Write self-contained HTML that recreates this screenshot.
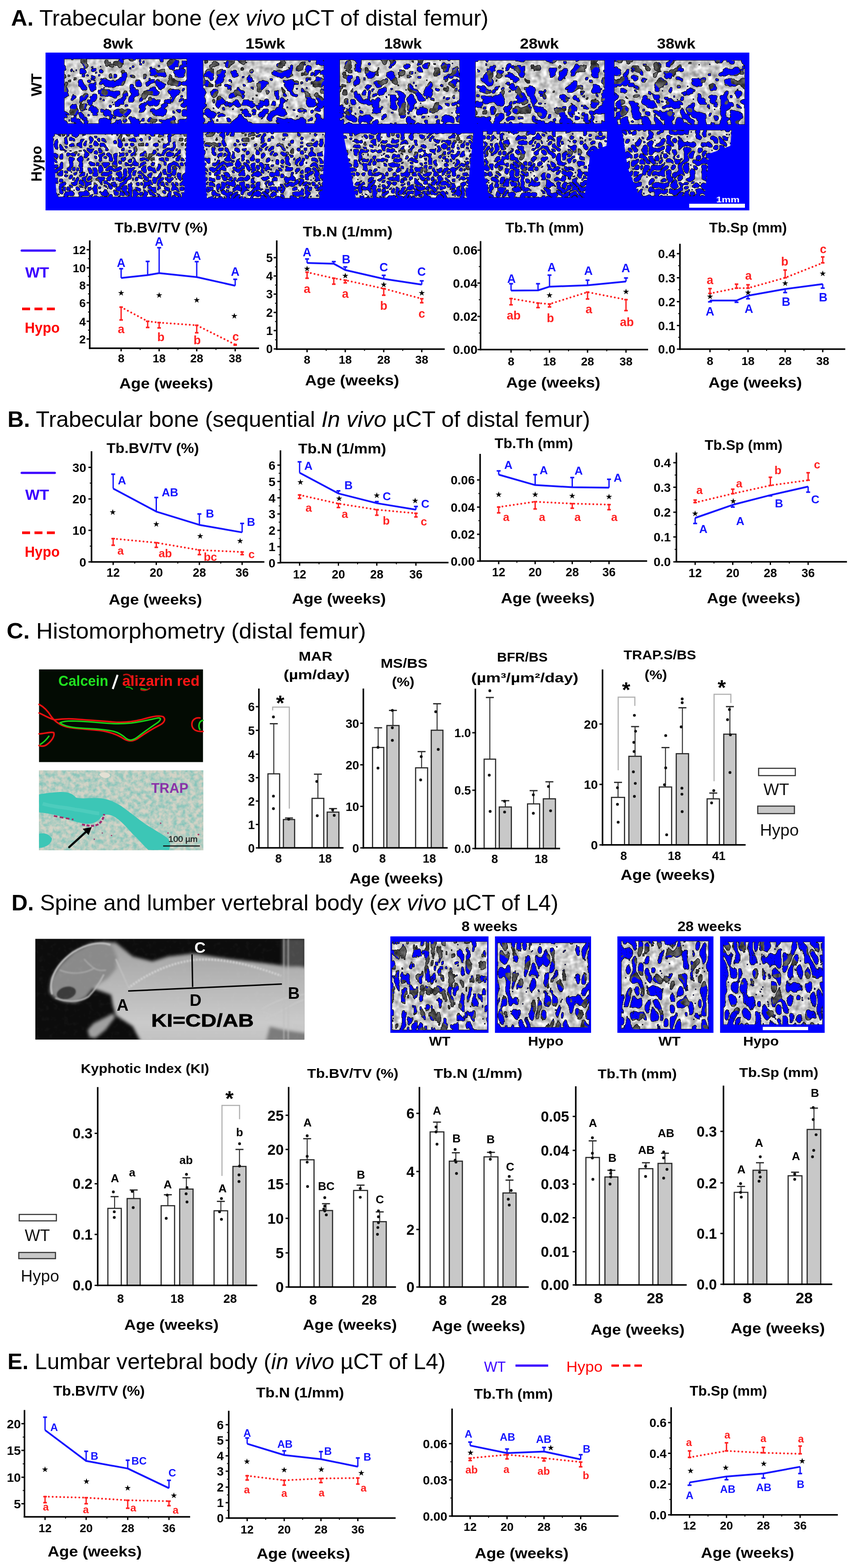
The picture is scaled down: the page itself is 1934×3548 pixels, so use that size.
<!DOCTYPE html>
<html><head><meta charset="utf-8"><title>Figure</title>
<style>html,body{margin:0;padding:0;background:#fff;} svg{display:block;}</style>
</head><body>
<svg width="1934" height="3548" viewBox="0 0 1934 3548" font-family='"Liberation Sans", Arial, sans-serif'>
<defs>
<linearGradient id="g_ffffff_000000" x1="0" y1="0" x2="0" y2="1"><stop offset="0" stop-color="#ffffff"/><stop offset="1" stop-color="#000000"/></linearGradient>
<filter id="bA0" x="0" y="0" width="100%" height="100%" color-interpolation-filters="sRGB">
<feTurbulence type="turbulence" baseFrequency="0.045" numOctaves="2" seed="11" result="n"/>
<feColorMatrix in="n" type="matrix" values="1 0 0 0 0  1 0 0 0 0  1 0 0 0 0  0 0 0 0 1" result="nr"/>
<feComposite in="nr" in2="SourceGraphic" operator="arithmetic" k1="0" k2="1" k3="-0.1" k4="0.0500" result="nb"/>
<feColorMatrix in="nb" type="matrix" values="0 0 0 0 0  0 0 0 0 0  0 0 0 0 0  1 0 0 0 0" result="na"/>
<feComponentTransfer in="na" result="boneM"><feFuncA type="discrete" tableValues="1 1 1 1 1 1 1 1 1 1 1 1 1 1 1 1 1 1 1 1 1 0 0 0 0 0 0 0 0 0 0 0 0 0 0 0 0 0 0 0 0 0 0 0 0 0 0 0 0 0 0 0 0 0 0 0 0 0 0 0"/></feComponentTransfer>
<feTurbulence type="fractalNoise" baseFrequency="0.03" numOctaves="2" seed="61" result="dn"/>
<feColorMatrix in="dn" type="matrix" values="1 0 0 0 0  1 0 0 0 0  1 0 0 0 0  0 0 0 0 1" result="dnr"/>
<feComposite in="dnr" in2="SourceGraphic" operator="arithmetic" k1="0" k2="1" k3="-0.2" k4="0.1000" result="dnb"/>
<feColorMatrix in="dnb" type="matrix" values="0 0 0 0 0  0 0 0 0 0  0 0 0 0 0  1 0 0 0 0" result="dna"/>
<feComponentTransfer in="dna" result="deepM"><feFuncA type="discrete" tableValues="1 1 1 1 1 1 1 1 1 1 1 1 1 1 1 1 1 1 1 1 1 1 1 1 1 1 1 0 0 0 0 0 0 0 0 0 0 0 0 0 0 0 0 0 0 0 0 0 0 0 0 0 0 0 0 0 0 0 0 0"/></feComponentTransfer>
<feTurbulence type="fractalNoise" baseFrequency="0.08" numOctaves="2" seed="20" result="n3"/>
<feColorMatrix in="n3" type="matrix" values="0 0.667 0 0 0.467  0 0.667 0 0 0.467  0 0.667 0 0 0.467  0 0 0 0 1" result="bs"/>
<feColorMatrix in="n3" type="matrix" values="0 0 0.500 0 0.050  0 0 0.500 0 0.050  0 0 0.500 0 0.050  0 0 0 0 1" result="ds"/>
<feComposite in="bs" in2="boneM" operator="in" result="bone"/>
<feComposite in="ds" in2="deepM" operator="in" result="deep"/>
<feMorphology in="boneM" operator="erode" radius="1" result="inner"/>
<feComposite in="boneM" in2="inner" operator="out" result="edge"/>
<feFlood flood-color="#181818" result="dk"/>
<feComposite in="dk" in2="edge" operator="in" result="edgec"/>
<feMerge result="m"><feMergeNode in="deep"/><feMergeNode in="bone"/><feMergeNode in="edgec"/></feMerge>
<feComposite in="m" in2="SourceAlpha" operator="in"/>
</filter>
<filter id="bA1" x="0" y="0" width="100%" height="100%" color-interpolation-filters="sRGB">
<feTurbulence type="turbulence" baseFrequency="0.045" numOctaves="2" seed="12" result="n"/>
<feColorMatrix in="n" type="matrix" values="1 0 0 0 0  1 0 0 0 0  1 0 0 0 0  0 0 0 0 1" result="nr"/>
<feComposite in="nr" in2="SourceGraphic" operator="arithmetic" k1="0" k2="1" k3="-0.1" k4="0.0500" result="nb"/>
<feColorMatrix in="nb" type="matrix" values="0 0 0 0 0  0 0 0 0 0  0 0 0 0 0  1 0 0 0 0" result="na"/>
<feComponentTransfer in="na" result="boneM"><feFuncA type="discrete" tableValues="1 1 1 1 1 1 1 1 1 1 1 1 1 1 1 1 1 1 1 1 0 0 0 0 0 0 0 0 0 0 0 0 0 0 0 0 0 0 0 0 0 0 0 0 0 0 0 0 0 0 0 0 0 0 0 0 0 0 0 0"/></feComponentTransfer>
<feTurbulence type="fractalNoise" baseFrequency="0.03" numOctaves="2" seed="62" result="dn"/>
<feColorMatrix in="dn" type="matrix" values="1 0 0 0 0  1 0 0 0 0  1 0 0 0 0  0 0 0 0 1" result="dnr"/>
<feComposite in="dnr" in2="SourceGraphic" operator="arithmetic" k1="0" k2="1" k3="-0.2" k4="0.1000" result="dnb"/>
<feColorMatrix in="dnb" type="matrix" values="0 0 0 0 0  0 0 0 0 0  0 0 0 0 0  1 0 0 0 0" result="dna"/>
<feComponentTransfer in="dna" result="deepM"><feFuncA type="discrete" tableValues="1 1 1 1 1 1 1 1 1 1 1 1 1 1 1 1 1 1 1 1 1 1 1 1 1 1 1 0 0 0 0 0 0 0 0 0 0 0 0 0 0 0 0 0 0 0 0 0 0 0 0 0 0 0 0 0 0 0 0 0"/></feComponentTransfer>
<feTurbulence type="fractalNoise" baseFrequency="0.08" numOctaves="2" seed="21" result="n3"/>
<feColorMatrix in="n3" type="matrix" values="0 0.667 0 0 0.467  0 0.667 0 0 0.467  0 0.667 0 0 0.467  0 0 0 0 1" result="bs"/>
<feColorMatrix in="n3" type="matrix" values="0 0 0.500 0 0.050  0 0 0.500 0 0.050  0 0 0.500 0 0.050  0 0 0 0 1" result="ds"/>
<feComposite in="bs" in2="boneM" operator="in" result="bone"/>
<feComposite in="ds" in2="deepM" operator="in" result="deep"/>
<feMorphology in="boneM" operator="erode" radius="1" result="inner"/>
<feComposite in="boneM" in2="inner" operator="out" result="edge"/>
<feFlood flood-color="#181818" result="dk"/>
<feComposite in="dk" in2="edge" operator="in" result="edgec"/>
<feMerge result="m"><feMergeNode in="deep"/><feMergeNode in="bone"/><feMergeNode in="edgec"/></feMerge>
<feComposite in="m" in2="SourceAlpha" operator="in"/>
</filter>
<filter id="bA2" x="0" y="0" width="100%" height="100%" color-interpolation-filters="sRGB">
<feTurbulence type="turbulence" baseFrequency="0.05" numOctaves="2" seed="13" result="n"/>
<feColorMatrix in="n" type="matrix" values="1 0 0 0 0  1 0 0 0 0  1 0 0 0 0  0 0 0 0 1" result="nr"/>
<feComposite in="nr" in2="SourceGraphic" operator="arithmetic" k1="0" k2="1" k3="-0.1" k4="0.0500" result="nb"/>
<feColorMatrix in="nb" type="matrix" values="0 0 0 0 0  0 0 0 0 0  0 0 0 0 0  1 0 0 0 0" result="na"/>
<feComponentTransfer in="na" result="boneM"><feFuncA type="discrete" tableValues="1 1 1 1 1 1 1 1 1 1 1 1 1 1 1 1 1 1 1 0 0 0 0 0 0 0 0 0 0 0 0 0 0 0 0 0 0 0 0 0 0 0 0 0 0 0 0 0 0 0 0 0 0 0 0 0 0 0 0 0"/></feComponentTransfer>
<feTurbulence type="fractalNoise" baseFrequency="0.03" numOctaves="2" seed="63" result="dn"/>
<feColorMatrix in="dn" type="matrix" values="1 0 0 0 0  1 0 0 0 0  1 0 0 0 0  0 0 0 0 1" result="dnr"/>
<feComposite in="dnr" in2="SourceGraphic" operator="arithmetic" k1="0" k2="1" k3="-0.2" k4="0.1000" result="dnb"/>
<feColorMatrix in="dnb" type="matrix" values="0 0 0 0 0  0 0 0 0 0  0 0 0 0 0  1 0 0 0 0" result="dna"/>
<feComponentTransfer in="dna" result="deepM"><feFuncA type="discrete" tableValues="1 1 1 1 1 1 1 1 1 1 1 1 1 1 1 1 1 1 1 1 1 1 1 1 1 1 1 0 0 0 0 0 0 0 0 0 0 0 0 0 0 0 0 0 0 0 0 0 0 0 0 0 0 0 0 0 0 0 0 0"/></feComponentTransfer>
<feTurbulence type="fractalNoise" baseFrequency="0.08" numOctaves="2" seed="22" result="n3"/>
<feColorMatrix in="n3" type="matrix" values="0 0.667 0 0 0.467  0 0.667 0 0 0.467  0 0.667 0 0 0.467  0 0 0 0 1" result="bs"/>
<feColorMatrix in="n3" type="matrix" values="0 0 0.500 0 0.050  0 0 0.500 0 0.050  0 0 0.500 0 0.050  0 0 0 0 1" result="ds"/>
<feComposite in="bs" in2="boneM" operator="in" result="bone"/>
<feComposite in="ds" in2="deepM" operator="in" result="deep"/>
<feMorphology in="boneM" operator="erode" radius="1" result="inner"/>
<feComposite in="boneM" in2="inner" operator="out" result="edge"/>
<feFlood flood-color="#181818" result="dk"/>
<feComposite in="dk" in2="edge" operator="in" result="edgec"/>
<feMerge result="m"><feMergeNode in="deep"/><feMergeNode in="bone"/><feMergeNode in="edgec"/></feMerge>
<feComposite in="m" in2="SourceAlpha" operator="in"/>
</filter>
<filter id="bA3" x="0" y="0" width="100%" height="100%" color-interpolation-filters="sRGB">
<feTurbulence type="turbulence" baseFrequency="0.042" numOctaves="2" seed="14" result="n"/>
<feColorMatrix in="n" type="matrix" values="1 0 0 0 0  1 0 0 0 0  1 0 0 0 0  0 0 0 0 1" result="nr"/>
<feComposite in="nr" in2="SourceGraphic" operator="arithmetic" k1="0" k2="1" k3="-0.1" k4="0.0500" result="nb"/>
<feColorMatrix in="nb" type="matrix" values="0 0 0 0 0  0 0 0 0 0  0 0 0 0 0  1 0 0 0 0" result="na"/>
<feComponentTransfer in="na" result="boneM"><feFuncA type="discrete" tableValues="1 1 1 1 1 1 1 1 1 1 1 1 1 1 1 1 1 1 1 1 0 0 0 0 0 0 0 0 0 0 0 0 0 0 0 0 0 0 0 0 0 0 0 0 0 0 0 0 0 0 0 0 0 0 0 0 0 0 0 0"/></feComponentTransfer>
<feTurbulence type="fractalNoise" baseFrequency="0.03" numOctaves="2" seed="64" result="dn"/>
<feColorMatrix in="dn" type="matrix" values="1 0 0 0 0  1 0 0 0 0  1 0 0 0 0  0 0 0 0 1" result="dnr"/>
<feComposite in="dnr" in2="SourceGraphic" operator="arithmetic" k1="0" k2="1" k3="-0.2" k4="0.1000" result="dnb"/>
<feColorMatrix in="dnb" type="matrix" values="0 0 0 0 0  0 0 0 0 0  0 0 0 0 0  1 0 0 0 0" result="dna"/>
<feComponentTransfer in="dna" result="deepM"><feFuncA type="discrete" tableValues="1 1 1 1 1 1 1 1 1 1 1 1 1 1 1 1 1 1 1 1 1 1 1 1 1 1 1 0 0 0 0 0 0 0 0 0 0 0 0 0 0 0 0 0 0 0 0 0 0 0 0 0 0 0 0 0 0 0 0 0"/></feComponentTransfer>
<feTurbulence type="fractalNoise" baseFrequency="0.08" numOctaves="2" seed="23" result="n3"/>
<feColorMatrix in="n3" type="matrix" values="0 0.667 0 0 0.467  0 0.667 0 0 0.467  0 0.667 0 0 0.467  0 0 0 0 1" result="bs"/>
<feColorMatrix in="n3" type="matrix" values="0 0 0.500 0 0.050  0 0 0.500 0 0.050  0 0 0.500 0 0.050  0 0 0 0 1" result="ds"/>
<feComposite in="bs" in2="boneM" operator="in" result="bone"/>
<feComposite in="ds" in2="deepM" operator="in" result="deep"/>
<feMorphology in="boneM" operator="erode" radius="1" result="inner"/>
<feComposite in="boneM" in2="inner" operator="out" result="edge"/>
<feFlood flood-color="#181818" result="dk"/>
<feComposite in="dk" in2="edge" operator="in" result="edgec"/>
<feMerge result="m"><feMergeNode in="deep"/><feMergeNode in="bone"/><feMergeNode in="edgec"/></feMerge>
<feComposite in="m" in2="SourceAlpha" operator="in"/>
</filter>
<filter id="bA4" x="0" y="0" width="100%" height="100%" color-interpolation-filters="sRGB">
<feTurbulence type="turbulence" baseFrequency="0.04" numOctaves="2" seed="15" result="n"/>
<feColorMatrix in="n" type="matrix" values="1 0 0 0 0  1 0 0 0 0  1 0 0 0 0  0 0 0 0 1" result="nr"/>
<feComposite in="nr" in2="SourceGraphic" operator="arithmetic" k1="0" k2="1" k3="-0.12" k4="0.0600" result="nb"/>
<feColorMatrix in="nb" type="matrix" values="0 0 0 0 0  0 0 0 0 0  0 0 0 0 0  1 0 0 0 0" result="na"/>
<feComponentTransfer in="na" result="boneM"><feFuncA type="discrete" tableValues="1 1 1 1 1 1 1 1 1 1 1 1 1 1 1 1 1 1 1 0 0 0 0 0 0 0 0 0 0 0 0 0 0 0 0 0 0 0 0 0 0 0 0 0 0 0 0 0 0 0 0 0 0 0 0 0 0 0 0 0"/></feComponentTransfer>
<feTurbulence type="fractalNoise" baseFrequency="0.03" numOctaves="2" seed="65" result="dn"/>
<feColorMatrix in="dn" type="matrix" values="1 0 0 0 0  1 0 0 0 0  1 0 0 0 0  0 0 0 0 1" result="dnr"/>
<feComposite in="dnr" in2="SourceGraphic" operator="arithmetic" k1="0" k2="1" k3="-0.24" k4="0.1200" result="dnb"/>
<feColorMatrix in="dnb" type="matrix" values="0 0 0 0 0  0 0 0 0 0  0 0 0 0 0  1 0 0 0 0" result="dna"/>
<feComponentTransfer in="dna" result="deepM"><feFuncA type="discrete" tableValues="1 1 1 1 1 1 1 1 1 1 1 1 1 1 1 1 1 1 1 1 1 1 1 1 1 1 1 0 0 0 0 0 0 0 0 0 0 0 0 0 0 0 0 0 0 0 0 0 0 0 0 0 0 0 0 0 0 0 0 0"/></feComponentTransfer>
<feTurbulence type="fractalNoise" baseFrequency="0.08" numOctaves="2" seed="24" result="n3"/>
<feColorMatrix in="n3" type="matrix" values="0 0.700 0 0 0.440  0 0.700 0 0 0.440  0 0.700 0 0 0.440  0 0 0 0 1" result="bs"/>
<feColorMatrix in="n3" type="matrix" values="0 0 0.500 0 0.050  0 0 0.500 0 0.050  0 0 0.500 0 0.050  0 0 0 0 1" result="ds"/>
<feComposite in="bs" in2="boneM" operator="in" result="bone"/>
<feComposite in="ds" in2="deepM" operator="in" result="deep"/>
<feMorphology in="boneM" operator="erode" radius="1" result="inner"/>
<feComposite in="boneM" in2="inner" operator="out" result="edge"/>
<feFlood flood-color="#181818" result="dk"/>
<feComposite in="dk" in2="edge" operator="in" result="edgec"/>
<feMerge result="m"><feMergeNode in="deep"/><feMergeNode in="bone"/><feMergeNode in="edgec"/></feMerge>
<feComposite in="m" in2="SourceAlpha" operator="in"/>
</filter>
<filter id="bA5" x="0" y="0" width="100%" height="100%" color-interpolation-filters="sRGB">
<feTurbulence type="turbulence" baseFrequency="0.09" numOctaves="1" seed="16" result="n"/>
<feColorMatrix in="n" type="matrix" values="1 0 0 0 0  1 0 0 0 0  1 0 0 0 0  0 0 0 0 1" result="nr"/>
<feComposite in="nr" in2="SourceGraphic" operator="arithmetic" k1="0" k2="1" k3="-0.12" k4="0.0600" result="nb"/>
<feColorMatrix in="nb" type="matrix" values="0 0 0 0 0  0 0 0 0 0  0 0 0 0 0  1 0 0 0 0" result="na"/>
<feComponentTransfer in="na" result="boneM"><feFuncA type="discrete" tableValues="1 1 1 1 1 1 1 1 1 1 1 1 1 1 0 0 0 0 0 0 0 0 0 0 0 0 0 0 0 0 0 0 0 0 0 0 0 0 0 0 0 0 0 0 0 0 0 0 0 0 0 0 0 0 0 0 0 0 0 0"/></feComponentTransfer>
<feTurbulence type="fractalNoise" baseFrequency="0.03" numOctaves="2" seed="66" result="dn"/>
<feColorMatrix in="dn" type="matrix" values="1 0 0 0 0  1 0 0 0 0  1 0 0 0 0  0 0 0 0 1" result="dnr"/>
<feComposite in="dnr" in2="SourceGraphic" operator="arithmetic" k1="0" k2="1" k3="-0.24" k4="0.1200" result="dnb"/>
<feColorMatrix in="dnb" type="matrix" values="0 0 0 0 0  0 0 0 0 0  0 0 0 0 0  1 0 0 0 0" result="dna"/>
<feComponentTransfer in="dna" result="deepM"><feFuncA type="discrete" tableValues="1 1 1 1 1 1 1 1 1 1 1 1 1 1 1 1 1 1 1 1 1 1 0 0 0 0 0 0 0 0 0 0 0 0 0 0 0 0 0 0 0 0 0 0 0 0 0 0 0 0 0 0 0 0 0 0 0 0 0 0"/></feComponentTransfer>
<feTurbulence type="fractalNoise" baseFrequency="0.08" numOctaves="2" seed="25" result="n3"/>
<feColorMatrix in="n3" type="matrix" values="0 0.667 0 0 0.467  0 0.667 0 0 0.467  0 0.667 0 0 0.467  0 0 0 0 1" result="bs"/>
<feColorMatrix in="n3" type="matrix" values="0 0 0.500 0 0.050  0 0 0.500 0 0.050  0 0 0.500 0 0.050  0 0 0 0 1" result="ds"/>
<feComposite in="bs" in2="boneM" operator="in" result="bone"/>
<feComposite in="ds" in2="deepM" operator="in" result="deep"/>
<feMorphology in="boneM" operator="erode" radius="1" result="inner"/>
<feComposite in="boneM" in2="inner" operator="out" result="edge"/>
<feFlood flood-color="#181818" result="dk"/>
<feComposite in="dk" in2="edge" operator="in" result="edgec"/>
<feMerge result="m"><feMergeNode in="deep"/><feMergeNode in="bone"/><feMergeNode in="edgec"/></feMerge>
<feComposite in="m" in2="SourceAlpha" operator="in"/>
</filter>
<filter id="bA6" x="0" y="0" width="100%" height="100%" color-interpolation-filters="sRGB">
<feTurbulence type="turbulence" baseFrequency="0.09" numOctaves="1" seed="17" result="n"/>
<feColorMatrix in="n" type="matrix" values="1 0 0 0 0  1 0 0 0 0  1 0 0 0 0  0 0 0 0 1" result="nr"/>
<feComposite in="nr" in2="SourceGraphic" operator="arithmetic" k1="0" k2="1" k3="-0.12" k4="0.0600" result="nb"/>
<feColorMatrix in="nb" type="matrix" values="0 0 0 0 0  0 0 0 0 0  0 0 0 0 0  1 0 0 0 0" result="na"/>
<feComponentTransfer in="na" result="boneM"><feFuncA type="discrete" tableValues="1 1 1 1 1 1 1 1 1 1 1 1 1 0 0 0 0 0 0 0 0 0 0 0 0 0 0 0 0 0 0 0 0 0 0 0 0 0 0 0 0 0 0 0 0 0 0 0 0 0 0 0 0 0 0 0 0 0 0 0"/></feComponentTransfer>
<feTurbulence type="fractalNoise" baseFrequency="0.03" numOctaves="2" seed="67" result="dn"/>
<feColorMatrix in="dn" type="matrix" values="1 0 0 0 0  1 0 0 0 0  1 0 0 0 0  0 0 0 0 1" result="dnr"/>
<feComposite in="dnr" in2="SourceGraphic" operator="arithmetic" k1="0" k2="1" k3="-0.24" k4="0.1200" result="dnb"/>
<feColorMatrix in="dnb" type="matrix" values="0 0 0 0 0  0 0 0 0 0  0 0 0 0 0  1 0 0 0 0" result="dna"/>
<feComponentTransfer in="dna" result="deepM"><feFuncA type="discrete" tableValues="1 1 1 1 1 1 1 1 1 1 1 1 1 1 1 1 1 1 1 1 0 0 0 0 0 0 0 0 0 0 0 0 0 0 0 0 0 0 0 0 0 0 0 0 0 0 0 0 0 0 0 0 0 0 0 0 0 0 0 0"/></feComponentTransfer>
<feTurbulence type="fractalNoise" baseFrequency="0.08" numOctaves="2" seed="26" result="n3"/>
<feColorMatrix in="n3" type="matrix" values="0 0.667 0 0 0.467  0 0.667 0 0 0.467  0 0.667 0 0 0.467  0 0 0 0 1" result="bs"/>
<feColorMatrix in="n3" type="matrix" values="0 0 0.500 0 0.050  0 0 0.500 0 0.050  0 0 0.500 0 0.050  0 0 0 0 1" result="ds"/>
<feComposite in="bs" in2="boneM" operator="in" result="bone"/>
<feComposite in="ds" in2="deepM" operator="in" result="deep"/>
<feMorphology in="boneM" operator="erode" radius="1" result="inner"/>
<feComposite in="boneM" in2="inner" operator="out" result="edge"/>
<feFlood flood-color="#181818" result="dk"/>
<feComposite in="dk" in2="edge" operator="in" result="edgec"/>
<feMerge result="m"><feMergeNode in="deep"/><feMergeNode in="bone"/><feMergeNode in="edgec"/></feMerge>
<feComposite in="m" in2="SourceAlpha" operator="in"/>
</filter>
<filter id="bA7" x="0" y="0" width="100%" height="100%" color-interpolation-filters="sRGB">
<feTurbulence type="turbulence" baseFrequency="0.095" numOctaves="1" seed="18" result="n"/>
<feColorMatrix in="n" type="matrix" values="1 0 0 0 0  1 0 0 0 0  1 0 0 0 0  0 0 0 0 1" result="nr"/>
<feComposite in="nr" in2="SourceGraphic" operator="arithmetic" k1="0" k2="1" k3="-0.1" k4="0.0500" result="nb"/>
<feColorMatrix in="nb" type="matrix" values="0 0 0 0 0  0 0 0 0 0  0 0 0 0 0  1 0 0 0 0" result="na"/>
<feComponentTransfer in="na" result="boneM"><feFuncA type="discrete" tableValues="1 1 1 1 1 1 1 1 1 1 1 1 1 0 0 0 0 0 0 0 0 0 0 0 0 0 0 0 0 0 0 0 0 0 0 0 0 0 0 0 0 0 0 0 0 0 0 0 0 0 0 0 0 0 0 0 0 0 0 0"/></feComponentTransfer>
<feTurbulence type="fractalNoise" baseFrequency="0.03" numOctaves="2" seed="68" result="dn"/>
<feColorMatrix in="dn" type="matrix" values="1 0 0 0 0  1 0 0 0 0  1 0 0 0 0  0 0 0 0 1" result="dnr"/>
<feComposite in="dnr" in2="SourceGraphic" operator="arithmetic" k1="0" k2="1" k3="-0.2" k4="0.1000" result="dnb"/>
<feColorMatrix in="dnb" type="matrix" values="0 0 0 0 0  0 0 0 0 0  0 0 0 0 0  1 0 0 0 0" result="dna"/>
<feComponentTransfer in="dna" result="deepM"><feFuncA type="discrete" tableValues="1 1 1 1 1 1 1 1 1 1 1 1 1 1 1 1 1 1 1 0 0 0 0 0 0 0 0 0 0 0 0 0 0 0 0 0 0 0 0 0 0 0 0 0 0 0 0 0 0 0 0 0 0 0 0 0 0 0 0 0"/></feComponentTransfer>
<feTurbulence type="fractalNoise" baseFrequency="0.08" numOctaves="2" seed="27" result="n3"/>
<feColorMatrix in="n3" type="matrix" values="0 0.667 0 0 0.467  0 0.667 0 0 0.467  0 0.667 0 0 0.467  0 0 0 0 1" result="bs"/>
<feColorMatrix in="n3" type="matrix" values="0 0 0.500 0 0.050  0 0 0.500 0 0.050  0 0 0.500 0 0.050  0 0 0 0 1" result="ds"/>
<feComposite in="bs" in2="boneM" operator="in" result="bone"/>
<feComposite in="ds" in2="deepM" operator="in" result="deep"/>
<feMorphology in="boneM" operator="erode" radius="1" result="inner"/>
<feComposite in="boneM" in2="inner" operator="out" result="edge"/>
<feFlood flood-color="#181818" result="dk"/>
<feComposite in="dk" in2="edge" operator="in" result="edgec"/>
<feMerge result="m"><feMergeNode in="deep"/><feMergeNode in="bone"/><feMergeNode in="edgec"/></feMerge>
<feComposite in="m" in2="SourceAlpha" operator="in"/>
</filter>
<filter id="bA8" x="0" y="0" width="100%" height="100%" color-interpolation-filters="sRGB">
<feTurbulence type="turbulence" baseFrequency="0.085" numOctaves="1" seed="19" result="n"/>
<feColorMatrix in="n" type="matrix" values="1 0 0 0 0  1 0 0 0 0  1 0 0 0 0  0 0 0 0 1" result="nr"/>
<feComposite in="nr" in2="SourceGraphic" operator="arithmetic" k1="0" k2="1" k3="-0.1" k4="0.0500" result="nb"/>
<feColorMatrix in="nb" type="matrix" values="0 0 0 0 0  0 0 0 0 0  0 0 0 0 0  1 0 0 0 0" result="na"/>
<feComponentTransfer in="na" result="boneM"><feFuncA type="discrete" tableValues="1 1 1 1 1 1 1 1 1 1 1 1 0 0 0 0 0 0 0 0 0 0 0 0 0 0 0 0 0 0 0 0 0 0 0 0 0 0 0 0 0 0 0 0 0 0 0 0 0 0 0 0 0 0 0 0 0 0 0 0"/></feComponentTransfer>
<feTurbulence type="fractalNoise" baseFrequency="0.03" numOctaves="2" seed="69" result="dn"/>
<feColorMatrix in="dn" type="matrix" values="1 0 0 0 0  1 0 0 0 0  1 0 0 0 0  0 0 0 0 1" result="dnr"/>
<feComposite in="dnr" in2="SourceGraphic" operator="arithmetic" k1="0" k2="1" k3="-0.2" k4="0.1000" result="dnb"/>
<feColorMatrix in="dnb" type="matrix" values="0 0 0 0 0  0 0 0 0 0  0 0 0 0 0  1 0 0 0 0" result="dna"/>
<feComponentTransfer in="dna" result="deepM"><feFuncA type="discrete" tableValues="1 1 1 1 1 1 1 1 1 1 1 1 1 1 1 1 1 1 0 0 0 0 0 0 0 0 0 0 0 0 0 0 0 0 0 0 0 0 0 0 0 0 0 0 0 0 0 0 0 0 0 0 0 0 0 0 0 0 0 0"/></feComponentTransfer>
<feTurbulence type="fractalNoise" baseFrequency="0.08" numOctaves="2" seed="28" result="n3"/>
<feColorMatrix in="n3" type="matrix" values="0 0.667 0 0 0.467  0 0.667 0 0 0.467  0 0.667 0 0 0.467  0 0 0 0 1" result="bs"/>
<feColorMatrix in="n3" type="matrix" values="0 0 0.500 0 0.050  0 0 0.500 0 0.050  0 0 0.500 0 0.050  0 0 0 0 1" result="ds"/>
<feComposite in="bs" in2="boneM" operator="in" result="bone"/>
<feComposite in="ds" in2="deepM" operator="in" result="deep"/>
<feMorphology in="boneM" operator="erode" radius="1" result="inner"/>
<feComposite in="boneM" in2="inner" operator="out" result="edge"/>
<feFlood flood-color="#181818" result="dk"/>
<feComposite in="dk" in2="edge" operator="in" result="edgec"/>
<feMerge result="m"><feMergeNode in="deep"/><feMergeNode in="bone"/><feMergeNode in="edgec"/></feMerge>
<feComposite in="m" in2="SourceAlpha" operator="in"/>
</filter>
<filter id="bA9" x="0" y="0" width="100%" height="100%" color-interpolation-filters="sRGB">
<feTurbulence type="turbulence" baseFrequency="0.075" numOctaves="1" seed="20" result="n"/>
<feColorMatrix in="n" type="matrix" values="1 0 0 0 0  1 0 0 0 0  1 0 0 0 0  0 0 0 0 1" result="nr"/>
<feComposite in="nr" in2="SourceGraphic" operator="arithmetic" k1="0" k2="1" k3="-0.05" k4="0.0250" result="nb"/>
<feColorMatrix in="nb" type="matrix" values="0 0 0 0 0  0 0 0 0 0  0 0 0 0 0  1 0 0 0 0" result="na"/>
<feComponentTransfer in="na" result="boneM"><feFuncA type="discrete" tableValues="1 1 1 1 1 1 1 1 1 1 0 0 0 0 0 0 0 0 0 0 0 0 0 0 0 0 0 0 0 0 0 0 0 0 0 0 0 0 0 0 0 0 0 0 0 0 0 0 0 0 0 0 0 0 0 0 0 0 0 0"/></feComponentTransfer>
<feTurbulence type="fractalNoise" baseFrequency="0.03" numOctaves="2" seed="70" result="dn"/>
<feColorMatrix in="dn" type="matrix" values="1 0 0 0 0  1 0 0 0 0  1 0 0 0 0  0 0 0 0 1" result="dnr"/>
<feComposite in="dnr" in2="SourceGraphic" operator="arithmetic" k1="0" k2="1" k3="-0.1" k4="0.0500" result="dnb"/>
<feColorMatrix in="dnb" type="matrix" values="0 0 0 0 0  0 0 0 0 0  0 0 0 0 0  1 0 0 0 0" result="dna"/>
<feComponentTransfer in="dna" result="deepM"><feFuncA type="discrete" tableValues="1 1 1 1 1 1 1 1 1 0 0 0 0 0 0 0 0 0 0 0 0 0 0 0 0 0 0 0 0 0 0 0 0 0 0 0 0 0 0 0 0 0 0 0 0 0 0 0 0 0 0 0 0 0 0 0 0 0 0 0"/></feComponentTransfer>
<feTurbulence type="fractalNoise" baseFrequency="0.08" numOctaves="2" seed="29" result="n3"/>
<feColorMatrix in="n3" type="matrix" values="0 0.633 0 0 0.493  0 0.633 0 0 0.493  0 0.633 0 0 0.493  0 0 0 0 1" result="bs"/>
<feColorMatrix in="n3" type="matrix" values="0 0 0.500 0 0.050  0 0 0.500 0 0.050  0 0 0.500 0 0.050  0 0 0 0 1" result="ds"/>
<feComposite in="bs" in2="boneM" operator="in" result="bone"/>
<feComposite in="ds" in2="deepM" operator="in" result="deep"/>
<feMorphology in="boneM" operator="erode" radius="1" result="inner"/>
<feComposite in="boneM" in2="inner" operator="out" result="edge"/>
<feFlood flood-color="#181818" result="dk"/>
<feComposite in="dk" in2="edge" operator="in" result="edgec"/>
<feMerge result="m"><feMergeNode in="deep"/><feMergeNode in="bone"/><feMergeNode in="edgec"/></feMerge>
<feComposite in="m" in2="SourceAlpha" operator="in"/>
</filter>
<filter id="mottle" x="0" y="0" width="100%" height="100%" color-interpolation-filters="sRGB">
<feTurbulence type="fractalNoise" baseFrequency="0.1" numOctaves="3" seed="5" result="n"/>
<feColorMatrix in="n" type="matrix" values="0 0 0 0 0.52  0 0 0 0 0.77  0 0 0 0 0.73  2.0 0 0 0 -0.62" result="spots"/>
<feFlood flood-color="#d4d3c6" result="bg"/>
<feMerge><feMergeNode in="bg"/><feMergeNode in="spots"/></feMerge>
</filter>
<filter id="xblur" x="-10%" y="-10%" width="120%" height="120%"><feGaussianBlur stdDeviation="3.5"/></filter>
<filter id="xblur2" x="-10%" y="-10%" width="120%" height="120%"><feGaussianBlur stdDeviation="1.6"/></filter>
<clipPath id="xclip"><rect x="79.9" y="2124.4" width="608.4" height="227.9"/></clipPath>
<linearGradient id="xbody" x1="0" y1="0" x2="0" y2="1"><stop offset="0" stop-color="#a0a0a0"/><stop offset="0.35" stop-color="#b4b4b4"/><stop offset="0.8" stop-color="#cacaca"/><stop offset="1" stop-color="#c0c0c0"/></linearGradient>
<linearGradient id="xbr" x1="0" y1="0" x2="1" y2="0"><stop offset="0" stop-color="#000" stop-opacity="0"/><stop offset="1" stop-color="#000" stop-opacity="0.45"/></linearGradient>
<filter id="xnoise" x="0" y="0" width="100%" height="100%" color-interpolation-filters="sRGB">
<feTurbulence type="fractalNoise" baseFrequency="0.09" numOctaves="2" seed="8" result="n"/>
<feColorMatrix in="n" type="matrix" values="0 0 0 0 1  0 0 0 0 1  0 0 0 0 1  0.9 0 0 0 -0.42" result="w"/>
<feComposite in="w" in2="SourceAlpha" operator="in"/>
</filter>
<filter id="bD0" x="0" y="0" width="100%" height="100%" color-interpolation-filters="sRGB">
<feTurbulence type="turbulence" baseFrequency="0.075 0.035" numOctaves="2" seed="41" result="n"/>
<feColorMatrix in="n" type="matrix" values="1 0 0 0 0  1 0 0 0 0  1 0 0 0 0  0 0 0 0 1" result="nr"/>
<feComposite in="nr" in2="SourceGraphic" operator="arithmetic" k1="0" k2="1" k3="-0.02" k4="0.0100" result="nb"/>
<feColorMatrix in="nb" type="matrix" values="0 0 0 0 0  0 0 0 0 0  0 0 0 0 0  1 0 0 0 0" result="na"/>
<feComponentTransfer in="na" result="boneM"><feFuncA type="discrete" tableValues="1 1 1 1 1 1 1 1 1 1 1 1 1 1 1 1 1 1 1 1 1 1 0 0 0 0 0 0 0 0 0 0 0 0 0 0 0 0 0 0 0 0 0 0 0 0 0 0 0 0 0 0 0 0 0 0 0 0 0 0"/></feComponentTransfer>
<feTurbulence type="fractalNoise" baseFrequency="0.03" numOctaves="2" seed="91" result="dn"/>
<feColorMatrix in="dn" type="matrix" values="1 0 0 0 0  1 0 0 0 0  1 0 0 0 0  0 0 0 0 1" result="dnr"/>
<feComposite in="dnr" in2="SourceGraphic" operator="arithmetic" k1="0" k2="1" k3="-0.04" k4="0.0200" result="dnb"/>
<feColorMatrix in="dnb" type="matrix" values="0 0 0 0 0  0 0 0 0 0  0 0 0 0 0  1 0 0 0 0" result="dna"/>
<feComponentTransfer in="dna" result="deepM"><feFuncA type="discrete" tableValues="1 1 1 1 1 1 1 1 1 1 1 1 1 1 1 1 1 1 1 1 1 1 1 1 1 1 1 1 1 1 0 0 0 0 0 0 0 0 0 0 0 0 0 0 0 0 0 0 0 0 0 0 0 0 0 0 0 0 0 0"/></feComponentTransfer>
<feTurbulence type="fractalNoise" baseFrequency="0.08" numOctaves="2" seed="50" result="n3"/>
<feColorMatrix in="n3" type="matrix" values="0 0.667 0 0 0.467  0 0.667 0 0 0.467  0 0.667 0 0 0.467  0 0 0 0 1" result="bs"/>
<feColorMatrix in="n3" type="matrix" values="0 0 0.500 0 0.050  0 0 0.500 0 0.050  0 0 0.500 0 0.050  0 0 0 0 1" result="ds"/>
<feComposite in="bs" in2="boneM" operator="in" result="bone"/>
<feComposite in="ds" in2="deepM" operator="in" result="deep"/>
<feMorphology in="boneM" operator="erode" radius="1" result="inner"/>
<feComposite in="boneM" in2="inner" operator="out" result="edge"/>
<feFlood flood-color="#181818" result="dk"/>
<feComposite in="dk" in2="edge" operator="in" result="edgec"/>
<feMerge result="m"><feMergeNode in="deep"/><feMergeNode in="bone"/><feMergeNode in="edgec"/></feMerge>
<feComposite in="m" in2="SourceAlpha" operator="in"/>
</filter>
<filter id="bD1" x="0" y="0" width="100%" height="100%" color-interpolation-filters="sRGB">
<feTurbulence type="turbulence" baseFrequency="0.07 0.032" numOctaves="1" seed="42" result="n"/>
<feColorMatrix in="n" type="matrix" values="1 0 0 0 0  1 0 0 0 0  1 0 0 0 0  0 0 0 0 1" result="nr"/>
<feComposite in="nr" in2="SourceGraphic" operator="arithmetic" k1="0" k2="1" k3="-0.02" k4="0.0100" result="nb"/>
<feColorMatrix in="nb" type="matrix" values="0 0 0 0 0  0 0 0 0 0  0 0 0 0 0  1 0 0 0 0" result="na"/>
<feComponentTransfer in="na" result="boneM"><feFuncA type="discrete" tableValues="1 1 1 1 1 1 1 1 1 1 1 1 1 0 0 0 0 0 0 0 0 0 0 0 0 0 0 0 0 0 0 0 0 0 0 0 0 0 0 0 0 0 0 0 0 0 0 0 0 0 0 0 0 0 0 0 0 0 0 0"/></feComponentTransfer>
<feTurbulence type="fractalNoise" baseFrequency="0.03" numOctaves="2" seed="92" result="dn"/>
<feColorMatrix in="dn" type="matrix" values="1 0 0 0 0  1 0 0 0 0  1 0 0 0 0  0 0 0 0 1" result="dnr"/>
<feComposite in="dnr" in2="SourceGraphic" operator="arithmetic" k1="0" k2="1" k3="-0.04" k4="0.0200" result="dnb"/>
<feColorMatrix in="dnb" type="matrix" values="0 0 0 0 0  0 0 0 0 0  0 0 0 0 0  1 0 0 0 0" result="dna"/>
<feComponentTransfer in="dna" result="deepM"><feFuncA type="discrete" tableValues="1 1 1 1 1 1 1 1 1 1 1 1 1 1 1 1 1 1 1 1 1 1 1 1 1 0 0 0 0 0 0 0 0 0 0 0 0 0 0 0 0 0 0 0 0 0 0 0 0 0 0 0 0 0 0 0 0 0 0 0"/></feComponentTransfer>
<feTurbulence type="fractalNoise" baseFrequency="0.08" numOctaves="2" seed="51" result="n3"/>
<feColorMatrix in="n3" type="matrix" values="0 0.667 0 0 0.467  0 0.667 0 0 0.467  0 0.667 0 0 0.467  0 0 0 0 1" result="bs"/>
<feColorMatrix in="n3" type="matrix" values="0 0 0.500 0 0.050  0 0 0.500 0 0.050  0 0 0.500 0 0.050  0 0 0 0 1" result="ds"/>
<feComposite in="bs" in2="boneM" operator="in" result="bone"/>
<feComposite in="ds" in2="deepM" operator="in" result="deep"/>
<feMorphology in="boneM" operator="erode" radius="1" result="inner"/>
<feComposite in="boneM" in2="inner" operator="out" result="edge"/>
<feFlood flood-color="#181818" result="dk"/>
<feComposite in="dk" in2="edge" operator="in" result="edgec"/>
<feMerge result="m"><feMergeNode in="deep"/><feMergeNode in="bone"/><feMergeNode in="edgec"/></feMerge>
<feComposite in="m" in2="SourceAlpha" operator="in"/>
</filter>
<filter id="bD2" x="0" y="0" width="100%" height="100%" color-interpolation-filters="sRGB">
<feTurbulence type="turbulence" baseFrequency="0.07 0.035" numOctaves="1" seed="43" result="n"/>
<feColorMatrix in="n" type="matrix" values="1 0 0 0 0  1 0 0 0 0  1 0 0 0 0  0 0 0 0 1" result="nr"/>
<feComposite in="nr" in2="SourceGraphic" operator="arithmetic" k1="0" k2="1" k3="-0.02" k4="0.0100" result="nb"/>
<feColorMatrix in="nb" type="matrix" values="0 0 0 0 0  0 0 0 0 0  0 0 0 0 0  1 0 0 0 0" result="na"/>
<feComponentTransfer in="na" result="boneM"><feFuncA type="discrete" tableValues="1 1 1 1 1 1 1 1 1 1 1 1 1 0 0 0 0 0 0 0 0 0 0 0 0 0 0 0 0 0 0 0 0 0 0 0 0 0 0 0 0 0 0 0 0 0 0 0 0 0 0 0 0 0 0 0 0 0 0 0"/></feComponentTransfer>
<feTurbulence type="fractalNoise" baseFrequency="0.03" numOctaves="2" seed="93" result="dn"/>
<feColorMatrix in="dn" type="matrix" values="1 0 0 0 0  1 0 0 0 0  1 0 0 0 0  0 0 0 0 1" result="dnr"/>
<feComposite in="dnr" in2="SourceGraphic" operator="arithmetic" k1="0" k2="1" k3="-0.04" k4="0.0200" result="dnb"/>
<feColorMatrix in="dnb" type="matrix" values="0 0 0 0 0  0 0 0 0 0  0 0 0 0 0  1 0 0 0 0" result="dna"/>
<feComponentTransfer in="dna" result="deepM"><feFuncA type="discrete" tableValues="1 1 1 1 1 1 1 1 1 1 1 1 1 1 1 1 1 1 1 1 1 1 1 1 1 0 0 0 0 0 0 0 0 0 0 0 0 0 0 0 0 0 0 0 0 0 0 0 0 0 0 0 0 0 0 0 0 0 0 0"/></feComponentTransfer>
<feTurbulence type="fractalNoise" baseFrequency="0.08" numOctaves="2" seed="52" result="n3"/>
<feColorMatrix in="n3" type="matrix" values="0 0.667 0 0 0.467  0 0.667 0 0 0.467  0 0.667 0 0 0.467  0 0 0 0 1" result="bs"/>
<feColorMatrix in="n3" type="matrix" values="0 0 0.500 0 0.050  0 0 0.500 0 0.050  0 0 0.500 0 0.050  0 0 0 0 1" result="ds"/>
<feComposite in="bs" in2="boneM" operator="in" result="bone"/>
<feComposite in="ds" in2="deepM" operator="in" result="deep"/>
<feMorphology in="boneM" operator="erode" radius="1" result="inner"/>
<feComposite in="boneM" in2="inner" operator="out" result="edge"/>
<feFlood flood-color="#181818" result="dk"/>
<feComposite in="dk" in2="edge" operator="in" result="edgec"/>
<feMerge result="m"><feMergeNode in="deep"/><feMergeNode in="bone"/><feMergeNode in="edgec"/></feMerge>
<feComposite in="m" in2="SourceAlpha" operator="in"/>
</filter>
<filter id="bD3" x="0" y="0" width="100%" height="100%" color-interpolation-filters="sRGB">
<feTurbulence type="turbulence" baseFrequency="0.065 0.032" numOctaves="1" seed="44" result="n"/>
<feColorMatrix in="n" type="matrix" values="1 0 0 0 0  1 0 0 0 0  1 0 0 0 0  0 0 0 0 1" result="nr"/>
<feComposite in="nr" in2="SourceGraphic" operator="arithmetic" k1="0" k2="1" k3="-0.02" k4="0.0100" result="nb"/>
<feColorMatrix in="nb" type="matrix" values="0 0 0 0 0  0 0 0 0 0  0 0 0 0 0  1 0 0 0 0" result="na"/>
<feComponentTransfer in="na" result="boneM"><feFuncA type="discrete" tableValues="1 1 1 1 1 1 1 1 1 1 1 0 0 0 0 0 0 0 0 0 0 0 0 0 0 0 0 0 0 0 0 0 0 0 0 0 0 0 0 0 0 0 0 0 0 0 0 0 0 0 0 0 0 0 0 0 0 0 0 0"/></feComponentTransfer>
<feTurbulence type="fractalNoise" baseFrequency="0.03" numOctaves="2" seed="94" result="dn"/>
<feColorMatrix in="dn" type="matrix" values="1 0 0 0 0  1 0 0 0 0  1 0 0 0 0  0 0 0 0 1" result="dnr"/>
<feComposite in="dnr" in2="SourceGraphic" operator="arithmetic" k1="0" k2="1" k3="-0.04" k4="0.0200" result="dnb"/>
<feColorMatrix in="dnb" type="matrix" values="0 0 0 0 0  0 0 0 0 0  0 0 0 0 0  1 0 0 0 0" result="dna"/>
<feComponentTransfer in="dna" result="deepM"><feFuncA type="discrete" tableValues="1 1 1 1 1 1 1 1 1 1 1 1 1 1 1 1 1 1 1 1 1 1 1 0 0 0 0 0 0 0 0 0 0 0 0 0 0 0 0 0 0 0 0 0 0 0 0 0 0 0 0 0 0 0 0 0 0 0 0 0"/></feComponentTransfer>
<feTurbulence type="fractalNoise" baseFrequency="0.08" numOctaves="2" seed="53" result="n3"/>
<feColorMatrix in="n3" type="matrix" values="0 0.667 0 0 0.467  0 0.667 0 0 0.467  0 0.667 0 0 0.467  0 0 0 0 1" result="bs"/>
<feColorMatrix in="n3" type="matrix" values="0 0 0.500 0 0.050  0 0 0.500 0 0.050  0 0 0.500 0 0.050  0 0 0 0 1" result="ds"/>
<feComposite in="bs" in2="boneM" operator="in" result="bone"/>
<feComposite in="ds" in2="deepM" operator="in" result="deep"/>
<feMorphology in="boneM" operator="erode" radius="1" result="inner"/>
<feComposite in="boneM" in2="inner" operator="out" result="edge"/>
<feFlood flood-color="#181818" result="dk"/>
<feComposite in="dk" in2="edge" operator="in" result="edgec"/>
<feMerge result="m"><feMergeNode in="deep"/><feMergeNode in="bone"/><feMergeNode in="edgec"/></feMerge>
<feComposite in="m" in2="SourceAlpha" operator="in"/>
</filter>
</defs>
<rect x="0" y="0" width="1934" height="3548" fill="#ffffff"/>
<text x="25.0" y="58.4" font-size="50" fill="#000" textLength="1080.0" lengthAdjust="spacingAndGlyphs" xml:space="preserve"><tspan font-weight="bold">A.</tspan><tspan> Trabecular bone (</tspan><tspan font-style="italic">ex vivo</tspan><tspan> µCT of distal femur)</tspan></text>
<text x="17.0" y="965.8" font-size="50" fill="#000" textLength="1318.0" lengthAdjust="spacingAndGlyphs" xml:space="preserve"><tspan font-weight="bold">B.</tspan><tspan> Trabecular bone (sequential </tspan><tspan font-style="italic">In vivo</tspan><tspan> µCT of distal femur)</tspan></text>
<text x="15.0" y="1445.3" font-size="50" fill="#000" textLength="813.0" lengthAdjust="spacingAndGlyphs" xml:space="preserve"><tspan font-weight="bold">C.</tspan><tspan> Histomorphometry (distal femur)</tspan></text>
<text x="26.0" y="2059.5" font-size="50" fill="#000" textLength="1237.0" lengthAdjust="spacingAndGlyphs" xml:space="preserve"><tspan font-weight="bold">D.</tspan><tspan> Spine and lumber vertebral body (</tspan><tspan font-style="italic">ex vivo</tspan><tspan> µCT of L4)</tspan></text>
<text x="17.0" y="3097.5" font-size="50" fill="#000" textLength="991.0" lengthAdjust="spacingAndGlyphs" xml:space="preserve"><tspan font-weight="bold">E.</tspan><tspan> Lumbar vertebral body (</tspan><tspan font-style="italic">in vivo</tspan><tspan> µCT of L4)</tspan></text>
<rect x="103.0" y="119.0" width="1592.0" height="357.0" fill="#0000ff"/>
<text x="233.0" y="110.0" font-size="33" font-weight="bold" textLength="68.0" lengthAdjust="spacingAndGlyphs" fill="#000">8wk</text>
<text x="555.0" y="110.0" font-size="33" font-weight="bold" textLength="90.0" lengthAdjust="spacingAndGlyphs" fill="#000">15wk</text>
<text x="869.0" y="110.0" font-size="33" font-weight="bold" textLength="85.0" lengthAdjust="spacingAndGlyphs" fill="#000">18wk</text>
<text x="1176.0" y="110.0" font-size="33" font-weight="bold" textLength="88.0" lengthAdjust="spacingAndGlyphs" fill="#000">28wk</text>
<text x="1486.0" y="110.0" font-size="33" font-weight="bold" textLength="87.0" lengthAdjust="spacingAndGlyphs" fill="#000">38wk</text>
<text x="0" y="0" font-size="34" font-weight="bold" fill="#000" transform="translate(94 218) rotate(-90)" textLength="52" lengthAdjust="spacingAndGlyphs">WT</text>
<text x="0" y="0" font-size="34" font-weight="bold" fill="#000" transform="translate(94 411) rotate(-90)" textLength="81" lengthAdjust="spacingAndGlyphs">Hypo</text>
<rect x="145.0" y="133.0" width="278.0" height="147.0" fill="url(#g_ffffff_000000)" filter="url(#bA0)"/>
<rect x="459.0" y="136.0" width="274.0" height="144.0" fill="url(#g_ffffff_000000)" filter="url(#bA1)"/>
<rect x="768.0" y="135.0" width="272.0" height="146.0" fill="url(#g_ffffff_000000)" filter="url(#bA2)"/>
<rect x="1075.0" y="136.0" width="293.0" height="144.0" fill="url(#g_ffffff_000000)" filter="url(#bA3)"/>
<rect x="1389.0" y="136.0" width="296.0" height="146.0" fill="url(#g_ffffff_000000)" filter="url(#bA4)"/>
<polygon points="119.0,303.0 423.0,303.0 416.0,446.0 128.0,446.0" fill="url(#g_ffffff_000000)" filter="url(#bA5)"/>
<polygon points="459.0,299.0 736.0,299.0 728.0,449.0 468.0,449.0" fill="url(#g_ffffff_000000)" filter="url(#bA6)"/>
<polygon points="776.0,301.0 1071.0,301.0 1056.0,448.0 805.0,448.0" fill="url(#g_ffffff_000000)" filter="url(#bA7)"/>
<polygon points="1092.0,297.0 1374.0,297.0 1372.0,330.0 1336.0,342.0 1322.0,447.0 1106.0,447.0 1096.0,400.0" fill="url(#g_ffffff_000000)" filter="url(#bA8)"/>
<polygon points="1407.0,294.0 1655.0,294.0 1652.0,330.0 1604.0,348.0 1594.0,444.0 1446.0,444.0 1420.0,380.0" fill="url(#g_ffffff_000000)" filter="url(#bA9)"/>
<rect x="1559.0" y="461.0" width="126.0" height="9.0" fill="#ffffff"/>
<text x="1620.0" y="458.0" font-size="18" font-weight="bold" textLength="53.0" lengthAdjust="spacingAndGlyphs" fill="#ffffff">1mm</text>
<line x1="49.0" y1="567.0" x2="124.0" y2="567.0" stroke="#3a00ff" stroke-width="5" stroke-linecap="round"/>
<text x="57.0" y="627.6" font-size="34" font-weight="bold" textLength="54.0" lengthAdjust="spacingAndGlyphs" fill="#3a00ff">WT</text>
<line x1="50.0" y1="699.0" x2="126.0" y2="699.0" stroke="#ff0000" stroke-width="6" stroke-dasharray="18 10"/>
<text x="56.0" y="753.0" font-size="34" font-weight="bold" textLength="79.0" lengthAdjust="spacingAndGlyphs" fill="#ff0000">Hypo</text>
<line x1="49.0" y1="1070.0" x2="124.0" y2="1070.0" stroke="#3a00ff" stroke-width="5" stroke-linecap="round"/>
<text x="57.0" y="1131.0" font-size="34" font-weight="bold" textLength="54.0" lengthAdjust="spacingAndGlyphs" fill="#3a00ff">WT</text>
<line x1="50.0" y1="1205.6" x2="126.0" y2="1205.6" stroke="#ff0000" stroke-width="6" stroke-dasharray="18 10"/>
<text x="56.0" y="1259.6" font-size="34" font-weight="bold" textLength="79.0" lengthAdjust="spacingAndGlyphs" fill="#ff0000">Hypo</text>
<text x="259.0" y="526.0" font-size="32" font-weight="bold" textLength="211.0" lengthAdjust="spacingAndGlyphs" fill="#000">Tb.BV/TV (%)</text>
<line x1="203.0" y1="544.0" x2="203.0" y2="789.8" stroke="#000" stroke-width="3.5"/>
<line x1="201.2" y1="788.0" x2="586.0" y2="788.0" stroke="#000" stroke-width="3.5"/>
<line x1="196.0" y1="565.0" x2="203.0" y2="565.0" stroke="#000" stroke-width="3"/>
<text x="194.0" y="574.5" font-size="26.5" font-weight="bold" text-anchor="end" fill="#000">12</text>
<line x1="196.0" y1="606.0" x2="203.0" y2="606.0" stroke="#000" stroke-width="3"/>
<text x="194.0" y="615.5" font-size="26.5" font-weight="bold" text-anchor="end" fill="#000">10</text>
<line x1="196.0" y1="645.0" x2="203.0" y2="645.0" stroke="#000" stroke-width="3"/>
<text x="194.0" y="654.5" font-size="26.5" font-weight="bold" text-anchor="end" fill="#000">8</text>
<line x1="196.0" y1="685.0" x2="203.0" y2="685.0" stroke="#000" stroke-width="3"/>
<text x="194.0" y="694.5" font-size="26.5" font-weight="bold" text-anchor="end" fill="#000">6</text>
<line x1="196.0" y1="727.0" x2="203.0" y2="727.0" stroke="#000" stroke-width="3"/>
<text x="194.0" y="736.5" font-size="26.5" font-weight="bold" text-anchor="end" fill="#000">4</text>
<line x1="196.0" y1="767.0" x2="203.0" y2="767.0" stroke="#000" stroke-width="3"/>
<text x="194.0" y="776.5" font-size="26.5" font-weight="bold" text-anchor="end" fill="#000">2</text>
<line x1="199.0" y1="585.5" x2="203.0" y2="585.5" stroke="#000" stroke-width="2"/>
<line x1="199.0" y1="625.5" x2="203.0" y2="625.5" stroke="#000" stroke-width="2"/>
<line x1="199.0" y1="665.0" x2="203.0" y2="665.0" stroke="#000" stroke-width="2"/>
<line x1="199.0" y1="706.0" x2="203.0" y2="706.0" stroke="#000" stroke-width="2"/>
<line x1="199.0" y1="747.0" x2="203.0" y2="747.0" stroke="#000" stroke-width="2"/>
<line x1="274.0" y1="788.0" x2="274.0" y2="795.0" stroke="#000" stroke-width="3"/>
<text x="274.0" y="819.5" font-size="26.5" font-weight="bold" text-anchor="middle" fill="#000">8</text>
<line x1="360.0" y1="788.0" x2="360.0" y2="795.0" stroke="#000" stroke-width="3"/>
<text x="360.0" y="819.5" font-size="26.5" font-weight="bold" text-anchor="middle" fill="#000">18</text>
<line x1="445.0" y1="788.0" x2="445.0" y2="795.0" stroke="#000" stroke-width="3"/>
<text x="445.0" y="819.5" font-size="26.5" font-weight="bold" text-anchor="middle" fill="#000">28</text>
<line x1="532.0" y1="788.0" x2="532.0" y2="795.0" stroke="#000" stroke-width="3"/>
<text x="532.0" y="819.5" font-size="26.5" font-weight="bold" text-anchor="middle" fill="#000">38</text>
<line x1="317.0" y1="788.0" x2="317.0" y2="792.0" stroke="#000" stroke-width="2"/>
<line x1="402.5" y1="788.0" x2="402.5" y2="792.0" stroke="#000" stroke-width="2"/>
<line x1="488.5" y1="788.0" x2="488.5" y2="792.0" stroke="#000" stroke-width="2"/>
<text x="270.0" y="879.0" font-size="34" font-weight="bold" textLength="212.0" lengthAdjust="spacingAndGlyphs" fill="#000">Age (weeks)</text>
<line x1="274.0" y1="629.0" x2="274.0" y2="608.0" stroke="#1414ff" stroke-width="3"/>
<line x1="269.5" y1="608.0" x2="278.5" y2="608.0" stroke="#1414ff" stroke-width="3.5"/>
<line x1="334.0" y1="622.5" x2="334.0" y2="591.5" stroke="#1414ff" stroke-width="3"/>
<line x1="329.5" y1="591.5" x2="338.5" y2="591.5" stroke="#1414ff" stroke-width="3.5"/>
<line x1="360.0" y1="618.0" x2="360.0" y2="560.5" stroke="#1414ff" stroke-width="3"/>
<line x1="355.5" y1="560.5" x2="364.5" y2="560.5" stroke="#1414ff" stroke-width="3.5"/>
<line x1="445.0" y1="627.0" x2="445.0" y2="592.0" stroke="#1414ff" stroke-width="3"/>
<line x1="440.5" y1="592.0" x2="449.5" y2="592.0" stroke="#1414ff" stroke-width="3.5"/>
<line x1="532.0" y1="646.5" x2="532.0" y2="632.0" stroke="#1414ff" stroke-width="3"/>
<line x1="527.5" y1="632.0" x2="536.5" y2="632.0" stroke="#1414ff" stroke-width="3.5"/>
<polyline points="274.0,629.0 334.0,622.5 360.0,618.0 445.0,627.0 532.0,646.5" fill="none" stroke="#1414ff" stroke-width="4" stroke-linejoin="round"/>
<line x1="274.0" y1="695.0" x2="274.0" y2="724.0" stroke="#ff2020" stroke-width="3"/>
<line x1="270.0" y1="724.0" x2="278.0" y2="724.0" stroke="#ff2020" stroke-width="3.5"/>
<line x1="270.0" y1="695.0" x2="278.0" y2="695.0" stroke="#ff2020" stroke-width="3.5"/>
<line x1="334.0" y1="727.0" x2="334.0" y2="741.0" stroke="#ff2020" stroke-width="3"/>
<line x1="330.0" y1="741.0" x2="338.0" y2="741.0" stroke="#ff2020" stroke-width="3.5"/>
<line x1="330.0" y1="727.0" x2="338.0" y2="727.0" stroke="#ff2020" stroke-width="3.5"/>
<line x1="360.0" y1="730.0" x2="360.0" y2="742.0" stroke="#ff2020" stroke-width="3"/>
<line x1="356.0" y1="742.0" x2="364.0" y2="742.0" stroke="#ff2020" stroke-width="3.5"/>
<line x1="356.0" y1="730.0" x2="364.0" y2="730.0" stroke="#ff2020" stroke-width="3.5"/>
<line x1="445.0" y1="736.0" x2="445.0" y2="753.0" stroke="#ff2020" stroke-width="3"/>
<line x1="441.0" y1="753.0" x2="449.0" y2="753.0" stroke="#ff2020" stroke-width="3.5"/>
<line x1="441.0" y1="736.0" x2="449.0" y2="736.0" stroke="#ff2020" stroke-width="3.5"/>
<line x1="532.0" y1="779.5" x2="532.0" y2="781.0" stroke="#ff2020" stroke-width="3"/>
<line x1="528.0" y1="781.0" x2="536.0" y2="781.0" stroke="#ff2020" stroke-width="3.5"/>
<line x1="528.0" y1="779.5" x2="536.0" y2="779.5" stroke="#ff2020" stroke-width="3.5"/>
<polyline points="274.0,695.0 334.0,727.0 360.0,730.0 445.0,736.0 532.0,779.5" fill="none" stroke="#ff2020" stroke-width="4.2" stroke-dasharray="0.1 8.5" stroke-linecap="round"/>
<text x="274.0" y="603.7" font-size="27" font-weight="bold" text-anchor="middle" fill="#1414ff">A</text>
<text x="360.0" y="555.7" font-size="27" font-weight="bold" text-anchor="middle" fill="#1414ff">A</text>
<text x="445.0" y="587.7" font-size="27" font-weight="bold" text-anchor="middle" fill="#1414ff">A</text>
<text x="532.0" y="623.7" font-size="27" font-weight="bold" text-anchor="middle" fill="#1414ff">A</text>
<text x="274.0" y="753.7" font-size="27" font-weight="bold" text-anchor="middle" fill="#ff2020">a</text>
<text x="364.0" y="771.7" font-size="27" font-weight="bold" text-anchor="middle" fill="#ff2020">b</text>
<text x="446.0" y="778.7" font-size="27" font-weight="bold" text-anchor="middle" fill="#ff2020">b</text>
<text x="533.0" y="770.7" font-size="27" font-weight="bold" text-anchor="middle" fill="#ff2020">c</text>
<text x="274.0" y="668.5" font-size="18" text-anchor="middle" font-family='"DejaVu Sans", sans-serif' fill="#000">★</text>
<text x="360.0" y="673.5" font-size="18" text-anchor="middle" font-family='"DejaVu Sans", sans-serif' fill="#000">★</text>
<text x="445.0" y="684.5" font-size="18" text-anchor="middle" font-family='"DejaVu Sans", sans-serif' fill="#000">★</text>
<text x="530.0" y="720.5" font-size="18" text-anchor="middle" font-family='"DejaVu Sans", sans-serif' fill="#000">★</text>
<text x="685.0" y="535.0" font-size="32" font-weight="bold" textLength="203.0" lengthAdjust="spacingAndGlyphs" fill="#000">Tb.N (1/mm)</text>
<line x1="626.0" y1="544.0" x2="626.0" y2="791.8" stroke="#000" stroke-width="3.5"/>
<line x1="624.2" y1="790.0" x2="1006.0" y2="790.0" stroke="#000" stroke-width="3.5"/>
<line x1="619.0" y1="583.0" x2="626.0" y2="583.0" stroke="#000" stroke-width="3"/>
<text x="617.0" y="592.7" font-size="27" font-weight="bold" text-anchor="end" fill="#000">5</text>
<line x1="619.0" y1="624.5" x2="626.0" y2="624.5" stroke="#000" stroke-width="3"/>
<text x="617.0" y="634.2" font-size="27" font-weight="bold" text-anchor="end" fill="#000">4</text>
<line x1="619.0" y1="665.5" x2="626.0" y2="665.5" stroke="#000" stroke-width="3"/>
<text x="617.0" y="675.2" font-size="27" font-weight="bold" text-anchor="end" fill="#000">3</text>
<line x1="619.0" y1="707.0" x2="626.0" y2="707.0" stroke="#000" stroke-width="3"/>
<text x="617.0" y="716.7" font-size="27" font-weight="bold" text-anchor="end" fill="#000">2</text>
<line x1="619.0" y1="748.0" x2="626.0" y2="748.0" stroke="#000" stroke-width="3"/>
<text x="617.0" y="757.7" font-size="27" font-weight="bold" text-anchor="end" fill="#000">1</text>
<line x1="619.0" y1="789.6" x2="626.0" y2="789.6" stroke="#000" stroke-width="3"/>
<text x="617.0" y="799.3" font-size="27" font-weight="bold" text-anchor="end" fill="#000">0</text>
<line x1="622.0" y1="603.8" x2="626.0" y2="603.8" stroke="#000" stroke-width="2"/>
<line x1="622.0" y1="645.0" x2="626.0" y2="645.0" stroke="#000" stroke-width="2"/>
<line x1="622.0" y1="686.2" x2="626.0" y2="686.2" stroke="#000" stroke-width="2"/>
<line x1="622.0" y1="727.5" x2="626.0" y2="727.5" stroke="#000" stroke-width="2"/>
<line x1="622.0" y1="768.8" x2="626.0" y2="768.8" stroke="#000" stroke-width="2"/>
<line x1="694.6" y1="790.0" x2="694.6" y2="797.0" stroke="#000" stroke-width="3"/>
<text x="694.6" y="823.0" font-size="26.5" font-weight="bold" text-anchor="middle" fill="#000">8</text>
<line x1="781.0" y1="790.0" x2="781.0" y2="797.0" stroke="#000" stroke-width="3"/>
<text x="781.0" y="823.0" font-size="26.5" font-weight="bold" text-anchor="middle" fill="#000">18</text>
<line x1="868.0" y1="790.0" x2="868.0" y2="797.0" stroke="#000" stroke-width="3"/>
<text x="868.0" y="823.0" font-size="26.5" font-weight="bold" text-anchor="middle" fill="#000">28</text>
<line x1="954.0" y1="790.0" x2="954.0" y2="797.0" stroke="#000" stroke-width="3"/>
<text x="954.0" y="823.0" font-size="26.5" font-weight="bold" text-anchor="middle" fill="#000">38</text>
<line x1="737.8" y1="790.0" x2="737.8" y2="794.0" stroke="#000" stroke-width="2"/>
<line x1="824.5" y1="790.0" x2="824.5" y2="794.0" stroke="#000" stroke-width="2"/>
<line x1="911.0" y1="790.0" x2="911.0" y2="794.0" stroke="#000" stroke-width="2"/>
<text x="690.0" y="872.0" font-size="34" font-weight="bold" textLength="213.0" lengthAdjust="spacingAndGlyphs" fill="#000">Age (weeks)</text>
<line x1="694.6" y1="595.0" x2="694.6" y2="586.0" stroke="#1414ff" stroke-width="3"/>
<line x1="690.1" y1="586.0" x2="699.1" y2="586.0" stroke="#1414ff" stroke-width="3.5"/>
<line x1="755.0" y1="596.7" x2="755.0" y2="592.0" stroke="#1414ff" stroke-width="3"/>
<line x1="750.5" y1="592.0" x2="759.5" y2="592.0" stroke="#1414ff" stroke-width="3.5"/>
<line x1="781.0" y1="611.0" x2="781.0" y2="604.0" stroke="#1414ff" stroke-width="3"/>
<line x1="776.5" y1="604.0" x2="785.5" y2="604.0" stroke="#1414ff" stroke-width="3.5"/>
<line x1="868.0" y1="631.0" x2="868.0" y2="623.0" stroke="#1414ff" stroke-width="3"/>
<line x1="863.5" y1="623.0" x2="872.5" y2="623.0" stroke="#1414ff" stroke-width="3.5"/>
<line x1="954.0" y1="644.0" x2="954.0" y2="635.5" stroke="#1414ff" stroke-width="3"/>
<line x1="949.5" y1="635.5" x2="958.5" y2="635.5" stroke="#1414ff" stroke-width="3.5"/>
<polyline points="694.6,595.0 755.0,596.7 781.0,611.0 868.0,631.0 954.0,644.0" fill="none" stroke="#1414ff" stroke-width="4" stroke-linejoin="round"/>
<line x1="694.6" y1="616.0" x2="694.6" y2="629.6" stroke="#ff2020" stroke-width="3"/>
<line x1="690.6" y1="629.6" x2="698.6" y2="629.6" stroke="#ff2020" stroke-width="3.5"/>
<line x1="690.6" y1="616.0" x2="698.6" y2="616.0" stroke="#ff2020" stroke-width="3.5"/>
<line x1="755.0" y1="629.6" x2="755.0" y2="643.0" stroke="#ff2020" stroke-width="3"/>
<line x1="751.0" y1="643.0" x2="759.0" y2="643.0" stroke="#ff2020" stroke-width="3.5"/>
<line x1="751.0" y1="629.6" x2="759.0" y2="629.6" stroke="#ff2020" stroke-width="3.5"/>
<line x1="781.0" y1="634.0" x2="781.0" y2="640.0" stroke="#ff2020" stroke-width="3"/>
<line x1="777.0" y1="640.0" x2="785.0" y2="640.0" stroke="#ff2020" stroke-width="3.5"/>
<line x1="777.0" y1="634.0" x2="785.0" y2="634.0" stroke="#ff2020" stroke-width="3.5"/>
<line x1="868.0" y1="653.0" x2="868.0" y2="668.0" stroke="#ff2020" stroke-width="3"/>
<line x1="864.0" y1="668.0" x2="872.0" y2="668.0" stroke="#ff2020" stroke-width="3.5"/>
<line x1="864.0" y1="653.0" x2="872.0" y2="653.0" stroke="#ff2020" stroke-width="3.5"/>
<line x1="954.0" y1="676.0" x2="954.0" y2="685.0" stroke="#ff2020" stroke-width="3"/>
<line x1="950.0" y1="685.0" x2="958.0" y2="685.0" stroke="#ff2020" stroke-width="3.5"/>
<line x1="950.0" y1="676.0" x2="958.0" y2="676.0" stroke="#ff2020" stroke-width="3.5"/>
<polyline points="694.6,616.0 755.0,629.6 781.0,634.0 868.0,653.0 954.0,676.0" fill="none" stroke="#ff2020" stroke-width="4.2" stroke-dasharray="0.1 8.5" stroke-linecap="round"/>
<text x="694.6" y="579.7" font-size="27" font-weight="bold" text-anchor="middle" fill="#1414ff">A</text>
<text x="783.0" y="595.7" font-size="27" font-weight="bold" text-anchor="middle" fill="#1414ff">B</text>
<text x="868.0" y="613.7" font-size="27" font-weight="bold" text-anchor="middle" fill="#1414ff">C</text>
<text x="953.5" y="624.3" font-size="27" font-weight="bold" text-anchor="middle" fill="#1414ff">C</text>
<text x="694.6" y="663.2" font-size="27" font-weight="bold" text-anchor="middle" fill="#ff2020">a</text>
<text x="781.0" y="673.7" font-size="27" font-weight="bold" text-anchor="middle" fill="#ff2020">a</text>
<text x="868.0" y="700.7" font-size="27" font-weight="bold" text-anchor="middle" fill="#ff2020">b</text>
<text x="954.0" y="718.7" font-size="27" font-weight="bold" text-anchor="middle" fill="#ff2020">c</text>
<text x="694.6" y="613.5" font-size="18" text-anchor="middle" font-family='"DejaVu Sans", sans-serif' fill="#000">★</text>
<text x="781.0" y="629.5" font-size="18" text-anchor="middle" font-family='"DejaVu Sans", sans-serif' fill="#000">★</text>
<text x="868.0" y="649.5" font-size="18" text-anchor="middle" font-family='"DejaVu Sans", sans-serif' fill="#000">★</text>
<text x="954.0" y="669.0" font-size="18" text-anchor="middle" font-family='"DejaVu Sans", sans-serif' fill="#000">★</text>
<text x="1143.0" y="526.0" font-size="32" font-weight="bold" textLength="177.5" lengthAdjust="spacingAndGlyphs" fill="#000">Tb.Th (mm)</text>
<line x1="1087.0" y1="545.5" x2="1087.0" y2="792.8" stroke="#000" stroke-width="3.5"/>
<line x1="1085.2" y1="791.0" x2="1466.0" y2="791.0" stroke="#000" stroke-width="3.5"/>
<line x1="1080.0" y1="566.0" x2="1087.0" y2="566.0" stroke="#000" stroke-width="3"/>
<text x="1080.0" y="576.3" font-size="28.5" font-weight="bold" text-anchor="end" fill="#000">0.06</text>
<line x1="1080.0" y1="640.5" x2="1087.0" y2="640.5" stroke="#000" stroke-width="3"/>
<text x="1080.0" y="650.8" font-size="28.5" font-weight="bold" text-anchor="end" fill="#000">0.04</text>
<line x1="1080.0" y1="716.0" x2="1087.0" y2="716.0" stroke="#000" stroke-width="3"/>
<text x="1080.0" y="726.3" font-size="28.5" font-weight="bold" text-anchor="end" fill="#000">0.02</text>
<line x1="1080.0" y1="791.0" x2="1087.0" y2="791.0" stroke="#000" stroke-width="3"/>
<text x="1080.0" y="801.3" font-size="28.5" font-weight="bold" text-anchor="end" fill="#000">0.00</text>
<line x1="1083.0" y1="603.2" x2="1087.0" y2="603.2" stroke="#000" stroke-width="2"/>
<line x1="1083.0" y1="678.2" x2="1087.0" y2="678.2" stroke="#000" stroke-width="2"/>
<line x1="1083.0" y1="753.5" x2="1087.0" y2="753.5" stroke="#000" stroke-width="2"/>
<line x1="1156.0" y1="791.0" x2="1156.0" y2="798.0" stroke="#000" stroke-width="3"/>
<text x="1156.0" y="827.0" font-size="26.5" font-weight="bold" text-anchor="middle" fill="#000">8</text>
<line x1="1243.0" y1="791.0" x2="1243.0" y2="798.0" stroke="#000" stroke-width="3"/>
<text x="1243.0" y="827.0" font-size="26.5" font-weight="bold" text-anchor="middle" fill="#000">18</text>
<line x1="1329.0" y1="791.0" x2="1329.0" y2="798.0" stroke="#000" stroke-width="3"/>
<text x="1329.0" y="827.0" font-size="26.5" font-weight="bold" text-anchor="middle" fill="#000">28</text>
<line x1="1416.0" y1="791.0" x2="1416.0" y2="798.0" stroke="#000" stroke-width="3"/>
<text x="1416.0" y="827.0" font-size="26.5" font-weight="bold" text-anchor="middle" fill="#000">38</text>
<line x1="1199.5" y1="791.0" x2="1199.5" y2="795.0" stroke="#000" stroke-width="2"/>
<line x1="1286.0" y1="791.0" x2="1286.0" y2="795.0" stroke="#000" stroke-width="2"/>
<line x1="1372.5" y1="791.0" x2="1372.5" y2="795.0" stroke="#000" stroke-width="2"/>
<text x="1145.0" y="876.5" font-size="34" font-weight="bold" textLength="213.0" lengthAdjust="spacingAndGlyphs" fill="#000">Age (weeks)</text>
<line x1="1156.0" y1="657.6" x2="1156.0" y2="642.0" stroke="#1414ff" stroke-width="3"/>
<line x1="1151.5" y1="642.0" x2="1160.5" y2="642.0" stroke="#1414ff" stroke-width="3.5"/>
<line x1="1217.0" y1="657.0" x2="1217.0" y2="642.0" stroke="#1414ff" stroke-width="3"/>
<line x1="1212.5" y1="642.0" x2="1221.5" y2="642.0" stroke="#1414ff" stroke-width="3.5"/>
<line x1="1243.0" y1="648.7" x2="1243.0" y2="622.5" stroke="#1414ff" stroke-width="3"/>
<line x1="1238.5" y1="622.5" x2="1247.5" y2="622.5" stroke="#1414ff" stroke-width="3.5"/>
<line x1="1329.0" y1="645.5" x2="1329.0" y2="634.0" stroke="#1414ff" stroke-width="3"/>
<line x1="1324.5" y1="634.0" x2="1333.5" y2="634.0" stroke="#1414ff" stroke-width="3.5"/>
<line x1="1416.0" y1="637.0" x2="1416.0" y2="629.0" stroke="#1414ff" stroke-width="3"/>
<line x1="1411.5" y1="629.0" x2="1420.5" y2="629.0" stroke="#1414ff" stroke-width="3.5"/>
<polyline points="1156.0,657.6 1217.0,657.0 1243.0,648.7 1329.0,645.5 1416.0,637.0" fill="none" stroke="#1414ff" stroke-width="4" stroke-linejoin="round"/>
<line x1="1156.0" y1="675.6" x2="1156.0" y2="689.7" stroke="#ff2020" stroke-width="3"/>
<line x1="1152.0" y1="689.7" x2="1160.0" y2="689.7" stroke="#ff2020" stroke-width="3.5"/>
<line x1="1152.0" y1="675.6" x2="1160.0" y2="675.6" stroke="#ff2020" stroke-width="3.5"/>
<line x1="1217.0" y1="685.8" x2="1217.0" y2="696.0" stroke="#ff2020" stroke-width="3"/>
<line x1="1213.0" y1="696.0" x2="1221.0" y2="696.0" stroke="#ff2020" stroke-width="3.5"/>
<line x1="1213.0" y1="685.8" x2="1221.0" y2="685.8" stroke="#ff2020" stroke-width="3.5"/>
<line x1="1243.0" y1="688.0" x2="1243.0" y2="694.6" stroke="#ff2020" stroke-width="3"/>
<line x1="1239.0" y1="694.6" x2="1247.0" y2="694.6" stroke="#ff2020" stroke-width="3.5"/>
<line x1="1239.0" y1="688.0" x2="1247.0" y2="688.0" stroke="#ff2020" stroke-width="3.5"/>
<line x1="1329.0" y1="661.0" x2="1329.0" y2="676.6" stroke="#ff2020" stroke-width="3"/>
<line x1="1325.0" y1="676.6" x2="1333.0" y2="676.6" stroke="#ff2020" stroke-width="3.5"/>
<line x1="1325.0" y1="661.0" x2="1333.0" y2="661.0" stroke="#ff2020" stroke-width="3.5"/>
<line x1="1416.0" y1="678.0" x2="1416.0" y2="702.8" stroke="#ff2020" stroke-width="3"/>
<line x1="1412.0" y1="702.8" x2="1420.0" y2="702.8" stroke="#ff2020" stroke-width="3.5"/>
<line x1="1412.0" y1="678.0" x2="1420.0" y2="678.0" stroke="#ff2020" stroke-width="3.5"/>
<polyline points="1156.0,675.6 1217.0,685.8 1243.0,688.0 1329.0,661.0 1416.0,678.0" fill="none" stroke="#ff2020" stroke-width="4.2" stroke-dasharray="0.1 8.5" stroke-linecap="round"/>
<text x="1157.0" y="640.4" font-size="27" font-weight="bold" text-anchor="middle" fill="#1414ff">A</text>
<text x="1248.0" y="614.2" font-size="27" font-weight="bold" text-anchor="middle" fill="#1414ff">A</text>
<text x="1331.0" y="622.4" font-size="27" font-weight="bold" text-anchor="middle" fill="#1414ff">A</text>
<text x="1415.5" y="615.7" font-size="27" font-weight="bold" text-anchor="middle" fill="#1414ff">A</text>
<text x="1162.0" y="722.7" font-size="27" font-weight="bold" text-anchor="middle" fill="#ff2020">ab</text>
<text x="1245.0" y="728.7" font-size="27" font-weight="bold" text-anchor="middle" fill="#ff2020">b</text>
<text x="1332.0" y="709.2" font-size="27" font-weight="bold" text-anchor="middle" fill="#ff2020">a</text>
<text x="1418.0" y="737.7" font-size="27" font-weight="bold" text-anchor="middle" fill="#ff2020">ab</text>
<text x="1243.0" y="673.9" font-size="18" text-anchor="middle" font-family='"DejaVu Sans", sans-serif' fill="#000">★</text>
<text x="1416.0" y="666.1" font-size="18" text-anchor="middle" font-family='"DejaVu Sans", sans-serif' fill="#000">★</text>
<text x="1604.0" y="525.6" font-size="32" font-weight="bold" textLength="176.0" lengthAdjust="spacingAndGlyphs" fill="#000">Tb.Sp (mm)</text>
<line x1="1538.0" y1="551.6" x2="1538.0" y2="791.8" stroke="#000" stroke-width="3.5"/>
<line x1="1536.2" y1="790.0" x2="1912.0" y2="790.0" stroke="#000" stroke-width="3.5"/>
<line x1="1531.0" y1="574.0" x2="1538.0" y2="574.0" stroke="#000" stroke-width="3"/>
<text x="1527.5" y="584.1" font-size="28" font-weight="bold" text-anchor="end" fill="#000">0.4</text>
<line x1="1531.0" y1="628.5" x2="1538.0" y2="628.5" stroke="#000" stroke-width="3"/>
<text x="1527.5" y="638.6" font-size="28" font-weight="bold" text-anchor="end" fill="#000">0.3</text>
<line x1="1531.0" y1="682.6" x2="1538.0" y2="682.6" stroke="#000" stroke-width="3"/>
<text x="1527.5" y="692.7" font-size="28" font-weight="bold" text-anchor="end" fill="#000">0.2</text>
<line x1="1531.0" y1="736.6" x2="1538.0" y2="736.6" stroke="#000" stroke-width="3"/>
<text x="1527.5" y="746.7" font-size="28" font-weight="bold" text-anchor="end" fill="#000">0.1</text>
<line x1="1531.0" y1="790.0" x2="1538.0" y2="790.0" stroke="#000" stroke-width="3"/>
<text x="1527.5" y="800.1" font-size="28" font-weight="bold" text-anchor="end" fill="#000">0.0</text>
<line x1="1534.0" y1="601.2" x2="1538.0" y2="601.2" stroke="#000" stroke-width="2"/>
<line x1="1534.0" y1="655.5" x2="1538.0" y2="655.5" stroke="#000" stroke-width="2"/>
<line x1="1534.0" y1="709.6" x2="1538.0" y2="709.6" stroke="#000" stroke-width="2"/>
<line x1="1534.0" y1="763.3" x2="1538.0" y2="763.3" stroke="#000" stroke-width="2"/>
<line x1="1606.0" y1="790.0" x2="1606.0" y2="797.0" stroke="#000" stroke-width="3"/>
<text x="1606.0" y="825.5" font-size="26.5" font-weight="bold" text-anchor="middle" fill="#000">8</text>
<line x1="1692.0" y1="790.0" x2="1692.0" y2="797.0" stroke="#000" stroke-width="3"/>
<text x="1692.0" y="825.5" font-size="26.5" font-weight="bold" text-anchor="middle" fill="#000">18</text>
<line x1="1776.0" y1="790.0" x2="1776.0" y2="797.0" stroke="#000" stroke-width="3"/>
<text x="1776.0" y="825.5" font-size="26.5" font-weight="bold" text-anchor="middle" fill="#000">28</text>
<line x1="1861.0" y1="790.0" x2="1861.0" y2="797.0" stroke="#000" stroke-width="3"/>
<text x="1861.0" y="825.5" font-size="26.5" font-weight="bold" text-anchor="middle" fill="#000">38</text>
<line x1="1649.0" y1="790.0" x2="1649.0" y2="794.0" stroke="#000" stroke-width="2"/>
<line x1="1734.0" y1="790.0" x2="1734.0" y2="794.0" stroke="#000" stroke-width="2"/>
<line x1="1818.5" y1="790.0" x2="1818.5" y2="794.0" stroke="#000" stroke-width="2"/>
<text x="1602.5" y="876.7" font-size="34" font-weight="bold" textLength="211.5" lengthAdjust="spacingAndGlyphs" fill="#000">Age (weeks)</text>
<line x1="1606.0" y1="680.0" x2="1606.0" y2="683.0" stroke="#1414ff" stroke-width="3"/>
<line x1="1601.5" y1="683.0" x2="1610.5" y2="683.0" stroke="#1414ff" stroke-width="3.5"/>
<line x1="1666.0" y1="680.0" x2="1666.0" y2="684.0" stroke="#1414ff" stroke-width="3"/>
<line x1="1661.5" y1="684.0" x2="1670.5" y2="684.0" stroke="#1414ff" stroke-width="3.5"/>
<line x1="1692.0" y1="669.0" x2="1692.0" y2="676.0" stroke="#1414ff" stroke-width="3"/>
<line x1="1687.5" y1="676.0" x2="1696.5" y2="676.0" stroke="#1414ff" stroke-width="3.5"/>
<line x1="1776.0" y1="654.0" x2="1776.0" y2="662.0" stroke="#1414ff" stroke-width="3"/>
<line x1="1771.5" y1="662.0" x2="1780.5" y2="662.0" stroke="#1414ff" stroke-width="3.5"/>
<line x1="1861.0" y1="642.7" x2="1861.0" y2="652.0" stroke="#1414ff" stroke-width="3"/>
<line x1="1856.5" y1="652.0" x2="1865.5" y2="652.0" stroke="#1414ff" stroke-width="3.5"/>
<polyline points="1606.0,680.0 1666.0,680.0 1692.0,669.0 1776.0,654.0 1861.0,642.7" fill="none" stroke="#1414ff" stroke-width="4" stroke-linejoin="round"/>
<line x1="1606.0" y1="664.0" x2="1606.0" y2="653.0" stroke="#ff2020" stroke-width="3"/>
<line x1="1602.0" y1="653.0" x2="1610.0" y2="653.0" stroke="#ff2020" stroke-width="3.5"/>
<line x1="1602.0" y1="664.0" x2="1610.0" y2="664.0" stroke="#ff2020" stroke-width="3.5"/>
<line x1="1666.0" y1="652.0" x2="1666.0" y2="643.0" stroke="#ff2020" stroke-width="3"/>
<line x1="1662.0" y1="643.0" x2="1670.0" y2="643.0" stroke="#ff2020" stroke-width="3.5"/>
<line x1="1662.0" y1="652.0" x2="1670.0" y2="652.0" stroke="#ff2020" stroke-width="3.5"/>
<line x1="1692.0" y1="652.0" x2="1692.0" y2="644.4" stroke="#ff2020" stroke-width="3"/>
<line x1="1688.0" y1="644.4" x2="1696.0" y2="644.4" stroke="#ff2020" stroke-width="3.5"/>
<line x1="1688.0" y1="652.0" x2="1696.0" y2="652.0" stroke="#ff2020" stroke-width="3.5"/>
<line x1="1776.0" y1="628.5" x2="1776.0" y2="611.0" stroke="#ff2020" stroke-width="3"/>
<line x1="1772.0" y1="611.0" x2="1780.0" y2="611.0" stroke="#ff2020" stroke-width="3.5"/>
<line x1="1772.0" y1="628.5" x2="1780.0" y2="628.5" stroke="#ff2020" stroke-width="3.5"/>
<line x1="1861.0" y1="594.8" x2="1861.0" y2="581.3" stroke="#ff2020" stroke-width="3"/>
<line x1="1857.0" y1="581.3" x2="1865.0" y2="581.3" stroke="#ff2020" stroke-width="3.5"/>
<line x1="1857.0" y1="594.8" x2="1865.0" y2="594.8" stroke="#ff2020" stroke-width="3.5"/>
<polyline points="1606.0,664.0 1666.0,652.0 1692.0,652.0 1776.0,628.5 1861.0,594.8" fill="none" stroke="#ff2020" stroke-width="4.2" stroke-dasharray="0.1 8.5" stroke-linecap="round"/>
<text x="1606.0" y="714.2" font-size="27" font-weight="bold" text-anchor="middle" fill="#1414ff">A</text>
<text x="1694.0" y="707.5" font-size="27" font-weight="bold" text-anchor="middle" fill="#1414ff">A</text>
<text x="1778.0" y="692.3" font-size="27" font-weight="bold" text-anchor="middle" fill="#1414ff">B</text>
<text x="1862.0" y="682.1" font-size="27" font-weight="bold" text-anchor="middle" fill="#1414ff">B</text>
<text x="1606.0" y="643.3" font-size="27" font-weight="bold" text-anchor="middle" fill="#ff2020">a</text>
<text x="1693.0" y="633.2" font-size="27" font-weight="bold" text-anchor="middle" fill="#ff2020">a</text>
<text x="1775.0" y="601.1" font-size="27" font-weight="bold" text-anchor="middle" fill="#ff2020">b</text>
<text x="1862.0" y="573.4" font-size="27" font-weight="bold" text-anchor="middle" fill="#ff2020">c</text>
<text x="1606.0" y="677.2" font-size="18" text-anchor="middle" font-family='"DejaVu Sans", sans-serif' fill="#000">★</text>
<text x="1692.0" y="668.1" font-size="18" text-anchor="middle" font-family='"DejaVu Sans", sans-serif' fill="#000">★</text>
<text x="1776.0" y="646.5" font-size="18" text-anchor="middle" font-family='"DejaVu Sans", sans-serif' fill="#000">★</text>
<text x="1861.0" y="624.9" font-size="18" text-anchor="middle" font-family='"DejaVu Sans", sans-serif' fill="#000">★</text>
<text x="241.0" y="1024.6" font-size="32" font-weight="bold" textLength="209.0" lengthAdjust="spacingAndGlyphs" fill="#000">Tb.BV/TV (%)</text>
<line x1="207.0" y1="1021.0" x2="207.0" y2="1273.2" stroke="#000" stroke-width="3.5"/>
<line x1="205.2" y1="1271.4" x2="598.0" y2="1271.4" stroke="#000" stroke-width="3.5"/>
<line x1="200.0" y1="1057.5" x2="207.0" y2="1057.5" stroke="#000" stroke-width="3"/>
<text x="195.0" y="1067.6" font-size="28" font-weight="bold" text-anchor="end" fill="#000">30</text>
<line x1="200.0" y1="1129.0" x2="207.0" y2="1129.0" stroke="#000" stroke-width="3"/>
<text x="195.0" y="1139.1" font-size="28" font-weight="bold" text-anchor="end" fill="#000">20</text>
<line x1="200.0" y1="1200.0" x2="207.0" y2="1200.0" stroke="#000" stroke-width="3"/>
<text x="195.0" y="1210.1" font-size="28" font-weight="bold" text-anchor="end" fill="#000">10</text>
<line x1="200.0" y1="1271.4" x2="207.0" y2="1271.4" stroke="#000" stroke-width="3"/>
<text x="195.0" y="1281.5" font-size="28" font-weight="bold" text-anchor="end" fill="#000">0</text>
<line x1="203.0" y1="1093.2" x2="207.0" y2="1093.2" stroke="#000" stroke-width="2"/>
<line x1="203.0" y1="1164.5" x2="207.0" y2="1164.5" stroke="#000" stroke-width="2"/>
<line x1="203.0" y1="1235.7" x2="207.0" y2="1235.7" stroke="#000" stroke-width="2"/>
<line x1="256.0" y1="1271.4" x2="256.0" y2="1278.4" stroke="#000" stroke-width="3"/>
<text x="256.0" y="1304.7" font-size="27" font-weight="bold" text-anchor="middle" fill="#000">12</text>
<line x1="353.5" y1="1271.4" x2="353.5" y2="1278.4" stroke="#000" stroke-width="3"/>
<text x="353.5" y="1304.7" font-size="27" font-weight="bold" text-anchor="middle" fill="#000">20</text>
<line x1="451.0" y1="1271.4" x2="451.0" y2="1278.4" stroke="#000" stroke-width="3"/>
<text x="451.0" y="1304.7" font-size="27" font-weight="bold" text-anchor="middle" fill="#000">28</text>
<line x1="547.7" y1="1271.4" x2="547.7" y2="1278.4" stroke="#000" stroke-width="3"/>
<text x="547.7" y="1304.7" font-size="27" font-weight="bold" text-anchor="middle" fill="#000">36</text>
<line x1="304.8" y1="1271.4" x2="304.8" y2="1275.4" stroke="#000" stroke-width="2"/>
<line x1="402.2" y1="1271.4" x2="402.2" y2="1275.4" stroke="#000" stroke-width="2"/>
<line x1="499.4" y1="1271.4" x2="499.4" y2="1275.4" stroke="#000" stroke-width="2"/>
<text x="246.0" y="1367.8" font-size="34" font-weight="bold" textLength="211.0" lengthAdjust="spacingAndGlyphs" fill="#000">Age (weeks)</text>
<line x1="256.0" y1="1105.4" x2="256.0" y2="1073.0" stroke="#1414ff" stroke-width="3"/>
<line x1="251.5" y1="1073.0" x2="260.5" y2="1073.0" stroke="#1414ff" stroke-width="3.5"/>
<line x1="353.5" y1="1157.6" x2="353.5" y2="1125.7" stroke="#1414ff" stroke-width="3"/>
<line x1="349.0" y1="1125.7" x2="358.0" y2="1125.7" stroke="#1414ff" stroke-width="3.5"/>
<line x1="451.0" y1="1187.7" x2="451.0" y2="1163.0" stroke="#1414ff" stroke-width="3"/>
<line x1="446.5" y1="1163.0" x2="455.5" y2="1163.0" stroke="#1414ff" stroke-width="3.5"/>
<line x1="547.7" y1="1204.6" x2="547.7" y2="1184.4" stroke="#1414ff" stroke-width="3"/>
<line x1="543.2" y1="1184.4" x2="552.2" y2="1184.4" stroke="#1414ff" stroke-width="3.5"/>
<polyline points="256.0,1105.4 353.5,1157.6 451.0,1187.7 547.7,1204.6" fill="none" stroke="#1414ff" stroke-width="4" stroke-linejoin="round"/>
<line x1="256.0" y1="1218.8" x2="256.0" y2="1233.8" stroke="#ff2020" stroke-width="3"/>
<line x1="252.0" y1="1233.8" x2="260.0" y2="1233.8" stroke="#ff2020" stroke-width="3.5"/>
<line x1="252.0" y1="1218.8" x2="260.0" y2="1218.8" stroke="#ff2020" stroke-width="3.5"/>
<line x1="353.5" y1="1228.0" x2="353.5" y2="1238.5" stroke="#ff2020" stroke-width="3"/>
<line x1="349.5" y1="1238.5" x2="357.5" y2="1238.5" stroke="#ff2020" stroke-width="3.5"/>
<line x1="349.5" y1="1228.0" x2="357.5" y2="1228.0" stroke="#ff2020" stroke-width="3.5"/>
<line x1="451.0" y1="1244.6" x2="451.0" y2="1255.0" stroke="#ff2020" stroke-width="3"/>
<line x1="447.0" y1="1255.0" x2="455.0" y2="1255.0" stroke="#ff2020" stroke-width="3.5"/>
<line x1="447.0" y1="1244.6" x2="455.0" y2="1244.6" stroke="#ff2020" stroke-width="3.5"/>
<line x1="547.7" y1="1249.0" x2="547.7" y2="1255.0" stroke="#ff2020" stroke-width="3"/>
<line x1="543.7" y1="1255.0" x2="551.7" y2="1255.0" stroke="#ff2020" stroke-width="3.5"/>
<line x1="543.7" y1="1249.0" x2="551.7" y2="1249.0" stroke="#ff2020" stroke-width="3.5"/>
<polyline points="256.0,1218.8 353.5,1228.0 451.0,1244.6 547.7,1249.0" fill="none" stroke="#ff2020" stroke-width="4.2" stroke-dasharray="0.1 8.5" stroke-linecap="round"/>
<text x="276.0" y="1096.4" font-size="26" font-weight="bold" text-anchor="middle" fill="#1414ff">A</text>
<text x="384.6" y="1123.4" font-size="26" font-weight="bold" text-anchor="middle" fill="#1414ff">AB</text>
<text x="475.0" y="1171.4" font-size="26" font-weight="bold" text-anchor="middle" fill="#1414ff">B</text>
<text x="568.0" y="1190.1" font-size="26" font-weight="bold" text-anchor="middle" fill="#1414ff">B</text>
<text x="272.7" y="1254.9" font-size="26" font-weight="bold" text-anchor="middle" fill="#ff2020">a</text>
<text x="373.8" y="1261.0" font-size="26" font-weight="bold" text-anchor="middle" fill="#ff2020">ab</text>
<text x="475.8" y="1269.0" font-size="26" font-weight="bold" text-anchor="middle" fill="#ff2020">bc</text>
<text x="568.9" y="1262.9" font-size="26" font-weight="bold" text-anchor="middle" fill="#ff2020">c</text>
<text x="255.0" y="1165.1" font-size="18" text-anchor="middle" font-family='"DejaVu Sans", sans-serif' fill="#000">★</text>
<text x="353.5" y="1191.5" font-size="18" text-anchor="middle" font-family='"DejaVu Sans", sans-serif' fill="#000">★</text>
<text x="452.7" y="1219.1" font-size="18" text-anchor="middle" font-family='"DejaVu Sans", sans-serif' fill="#000">★</text>
<text x="543.0" y="1230.0" font-size="18" text-anchor="middle" font-family='"DejaVu Sans", sans-serif' fill="#000">★</text>
<text x="674.4" y="1025.5" font-size="32" font-weight="bold" textLength="199.2" lengthAdjust="spacingAndGlyphs" fill="#000">Tb.N (1/mm)</text>
<line x1="634.4" y1="1019.0" x2="634.4" y2="1274.8" stroke="#000" stroke-width="3.5"/>
<line x1="632.6" y1="1273.0" x2="1014.5" y2="1273.0" stroke="#000" stroke-width="3.5"/>
<line x1="627.4" y1="1052.4" x2="634.4" y2="1052.4" stroke="#000" stroke-width="3"/>
<text x="623.0" y="1062.5" font-size="28" font-weight="bold" text-anchor="end" fill="#000">6</text>
<line x1="627.4" y1="1089.4" x2="634.4" y2="1089.4" stroke="#000" stroke-width="3"/>
<text x="623.0" y="1099.5" font-size="28" font-weight="bold" text-anchor="end" fill="#000">5</text>
<line x1="627.4" y1="1126.4" x2="634.4" y2="1126.4" stroke="#000" stroke-width="3"/>
<text x="623.0" y="1136.5" font-size="28" font-weight="bold" text-anchor="end" fill="#000">4</text>
<line x1="627.4" y1="1163.0" x2="634.4" y2="1163.0" stroke="#000" stroke-width="3"/>
<text x="623.0" y="1173.1" font-size="28" font-weight="bold" text-anchor="end" fill="#000">3</text>
<line x1="627.4" y1="1200.0" x2="634.4" y2="1200.0" stroke="#000" stroke-width="3"/>
<text x="623.0" y="1210.1" font-size="28" font-weight="bold" text-anchor="end" fill="#000">2</text>
<line x1="627.4" y1="1237.0" x2="634.4" y2="1237.0" stroke="#000" stroke-width="3"/>
<text x="623.0" y="1247.1" font-size="28" font-weight="bold" text-anchor="end" fill="#000">1</text>
<line x1="627.4" y1="1273.6" x2="634.4" y2="1273.6" stroke="#000" stroke-width="3"/>
<text x="623.0" y="1283.7" font-size="28" font-weight="bold" text-anchor="end" fill="#000">0</text>
<line x1="630.4" y1="1070.9" x2="634.4" y2="1070.9" stroke="#000" stroke-width="2"/>
<line x1="630.4" y1="1107.9" x2="634.4" y2="1107.9" stroke="#000" stroke-width="2"/>
<line x1="630.4" y1="1144.7" x2="634.4" y2="1144.7" stroke="#000" stroke-width="2"/>
<line x1="630.4" y1="1181.5" x2="634.4" y2="1181.5" stroke="#000" stroke-width="2"/>
<line x1="630.4" y1="1218.5" x2="634.4" y2="1218.5" stroke="#000" stroke-width="2"/>
<line x1="630.4" y1="1255.3" x2="634.4" y2="1255.3" stroke="#000" stroke-width="2"/>
<line x1="677.7" y1="1273.0" x2="677.7" y2="1280.0" stroke="#000" stroke-width="3"/>
<text x="677.7" y="1308.7" font-size="27" font-weight="bold" text-anchor="middle" fill="#000">12</text>
<line x1="765.5" y1="1273.0" x2="765.5" y2="1280.0" stroke="#000" stroke-width="3"/>
<text x="765.5" y="1308.7" font-size="27" font-weight="bold" text-anchor="middle" fill="#000">20</text>
<line x1="852.3" y1="1273.0" x2="852.3" y2="1280.0" stroke="#000" stroke-width="3"/>
<text x="852.3" y="1308.7" font-size="27" font-weight="bold" text-anchor="middle" fill="#000">28</text>
<line x1="940.8" y1="1273.0" x2="940.8" y2="1280.0" stroke="#000" stroke-width="3"/>
<text x="940.8" y="1308.7" font-size="27" font-weight="bold" text-anchor="middle" fill="#000">36</text>
<line x1="721.6" y1="1273.0" x2="721.6" y2="1277.0" stroke="#000" stroke-width="2"/>
<line x1="808.9" y1="1273.0" x2="808.9" y2="1277.0" stroke="#000" stroke-width="2"/>
<line x1="896.5" y1="1273.0" x2="896.5" y2="1277.0" stroke="#000" stroke-width="2"/>
<text x="660.6" y="1365.6" font-size="34" font-weight="bold" textLength="212.4" lengthAdjust="spacingAndGlyphs" fill="#000">Age (weeks)</text>
<line x1="677.7" y1="1069.8" x2="677.7" y2="1045.0" stroke="#1414ff" stroke-width="3"/>
<line x1="673.2" y1="1045.0" x2="682.2" y2="1045.0" stroke="#1414ff" stroke-width="3.5"/>
<line x1="765.5" y1="1116.6" x2="765.5" y2="1110.7" stroke="#1414ff" stroke-width="3"/>
<line x1="761.0" y1="1110.7" x2="770.0" y2="1110.7" stroke="#1414ff" stroke-width="3.5"/>
<line x1="852.3" y1="1138.6" x2="852.3" y2="1135.0" stroke="#1414ff" stroke-width="3"/>
<line x1="847.8" y1="1135.0" x2="856.8" y2="1135.0" stroke="#1414ff" stroke-width="3.5"/>
<line x1="940.8" y1="1153.3" x2="940.8" y2="1146.0" stroke="#1414ff" stroke-width="3"/>
<line x1="936.3" y1="1146.0" x2="945.3" y2="1146.0" stroke="#1414ff" stroke-width="3.5"/>
<polyline points="677.7,1069.8 765.5,1116.6 852.3,1138.6 940.8,1153.3" fill="none" stroke="#1414ff" stroke-width="4" stroke-linejoin="round"/>
<line x1="677.7" y1="1120.0" x2="677.7" y2="1127.8" stroke="#ff2020" stroke-width="3"/>
<line x1="673.7" y1="1127.8" x2="681.7" y2="1127.8" stroke="#ff2020" stroke-width="3.5"/>
<line x1="673.7" y1="1120.0" x2="681.7" y2="1120.0" stroke="#ff2020" stroke-width="3.5"/>
<line x1="765.5" y1="1139.6" x2="765.5" y2="1148.4" stroke="#ff2020" stroke-width="3"/>
<line x1="761.5" y1="1148.4" x2="769.5" y2="1148.4" stroke="#ff2020" stroke-width="3.5"/>
<line x1="761.5" y1="1139.6" x2="769.5" y2="1139.6" stroke="#ff2020" stroke-width="3.5"/>
<line x1="852.3" y1="1153.3" x2="852.3" y2="1165.8" stroke="#ff2020" stroke-width="3"/>
<line x1="848.3" y1="1165.8" x2="856.3" y2="1165.8" stroke="#ff2020" stroke-width="3.5"/>
<line x1="848.3" y1="1153.3" x2="856.3" y2="1153.3" stroke="#ff2020" stroke-width="3.5"/>
<line x1="940.8" y1="1161.5" x2="940.8" y2="1169.7" stroke="#ff2020" stroke-width="3"/>
<line x1="936.8" y1="1169.7" x2="944.8" y2="1169.7" stroke="#ff2020" stroke-width="3.5"/>
<line x1="936.8" y1="1161.5" x2="944.8" y2="1161.5" stroke="#ff2020" stroke-width="3.5"/>
<polyline points="677.7,1120.0 765.5,1139.6 852.3,1153.3 940.8,1161.5" fill="none" stroke="#ff2020" stroke-width="4.2" stroke-dasharray="0.1 8.5" stroke-linecap="round"/>
<text x="697.6" y="1062.8" font-size="26" font-weight="bold" text-anchor="middle" fill="#1414ff">A</text>
<text x="788.4" y="1107.4" font-size="26" font-weight="bold" text-anchor="middle" fill="#1414ff">B</text>
<text x="875.0" y="1132.4" font-size="26" font-weight="bold" text-anchor="middle" fill="#1414ff">C</text>
<text x="962.0" y="1149.0" font-size="26" font-weight="bold" text-anchor="middle" fill="#1414ff">C</text>
<text x="698.3" y="1157.8" font-size="26" font-weight="bold" text-anchor="middle" fill="#ff2020">a</text>
<text x="780.0" y="1172.4" font-size="26" font-weight="bold" text-anchor="middle" fill="#ff2020">a</text>
<text x="873.6" y="1187.3" font-size="26" font-weight="bold" text-anchor="middle" fill="#ff2020">b</text>
<text x="958.8" y="1189.4" font-size="26" font-weight="bold" text-anchor="middle" fill="#ff2020">c</text>
<text x="679.6" y="1096.9" font-size="18" text-anchor="middle" font-family='"DejaVu Sans", sans-serif' fill="#000">★</text>
<text x="767.0" y="1133.5" font-size="18" text-anchor="middle" font-family='"DejaVu Sans", sans-serif' fill="#000">★</text>
<text x="852.3" y="1127.0" font-size="18" text-anchor="middle" font-family='"DejaVu Sans", sans-serif' fill="#000">★</text>
<text x="939.0" y="1138.5" font-size="18" text-anchor="middle" font-family='"DejaVu Sans", sans-serif' fill="#000">★</text>
<text x="1118.8" y="1014.0" font-size="32" font-weight="bold" textLength="177.2" lengthAdjust="spacingAndGlyphs" fill="#000">Tb.Th (mm)</text>
<line x1="1086.0" y1="1027.0" x2="1086.0" y2="1271.3" stroke="#000" stroke-width="3.5"/>
<line x1="1084.2" y1="1269.6" x2="1463.8" y2="1269.6" stroke="#000" stroke-width="3.5"/>
<line x1="1079.0" y1="1086.0" x2="1086.0" y2="1086.0" stroke="#000" stroke-width="3"/>
<text x="1074.0" y="1096.1" font-size="28" font-weight="bold" text-anchor="end" fill="#000">0.06</text>
<line x1="1079.0" y1="1147.4" x2="1086.0" y2="1147.4" stroke="#000" stroke-width="3"/>
<text x="1074.0" y="1157.5" font-size="28" font-weight="bold" text-anchor="end" fill="#000">0.04</text>
<line x1="1079.0" y1="1209.0" x2="1086.0" y2="1209.0" stroke="#000" stroke-width="3"/>
<text x="1074.0" y="1219.1" font-size="28" font-weight="bold" text-anchor="end" fill="#000">0.02</text>
<line x1="1079.0" y1="1269.6" x2="1086.0" y2="1269.6" stroke="#000" stroke-width="3"/>
<text x="1074.0" y="1279.7" font-size="28" font-weight="bold" text-anchor="end" fill="#000">0.00</text>
<line x1="1082.0" y1="1116.7" x2="1086.0" y2="1116.7" stroke="#000" stroke-width="2"/>
<line x1="1082.0" y1="1178.2" x2="1086.0" y2="1178.2" stroke="#000" stroke-width="2"/>
<line x1="1082.0" y1="1239.3" x2="1086.0" y2="1239.3" stroke="#000" stroke-width="2"/>
<line x1="1128.0" y1="1269.6" x2="1128.0" y2="1276.6" stroke="#000" stroke-width="3"/>
<text x="1128.0" y="1303.9" font-size="27" font-weight="bold" text-anchor="middle" fill="#000">12</text>
<line x1="1210.5" y1="1269.6" x2="1210.5" y2="1276.6" stroke="#000" stroke-width="3"/>
<text x="1210.5" y="1303.9" font-size="27" font-weight="bold" text-anchor="middle" fill="#000">20</text>
<line x1="1294.4" y1="1269.6" x2="1294.4" y2="1276.6" stroke="#000" stroke-width="3"/>
<text x="1294.4" y="1303.9" font-size="27" font-weight="bold" text-anchor="middle" fill="#000">28</text>
<line x1="1377.6" y1="1269.6" x2="1377.6" y2="1276.6" stroke="#000" stroke-width="3"/>
<text x="1377.6" y="1303.9" font-size="27" font-weight="bold" text-anchor="middle" fill="#000">36</text>
<line x1="1169.2" y1="1269.6" x2="1169.2" y2="1273.6" stroke="#000" stroke-width="2"/>
<line x1="1252.5" y1="1269.6" x2="1252.5" y2="1273.6" stroke="#000" stroke-width="2"/>
<line x1="1336.0" y1="1269.6" x2="1336.0" y2="1273.6" stroke="#000" stroke-width="2"/>
<text x="1132.9" y="1364.6" font-size="34" font-weight="bold" textLength="212.1" lengthAdjust="spacingAndGlyphs" fill="#000">Age (weeks)</text>
<line x1="1128.0" y1="1074.0" x2="1128.0" y2="1065.5" stroke="#1414ff" stroke-width="3"/>
<line x1="1123.5" y1="1065.5" x2="1132.5" y2="1065.5" stroke="#1414ff" stroke-width="3.5"/>
<line x1="1210.5" y1="1097.6" x2="1210.5" y2="1074.0" stroke="#1414ff" stroke-width="3"/>
<line x1="1206.0" y1="1074.0" x2="1215.0" y2="1074.0" stroke="#1414ff" stroke-width="3.5"/>
<line x1="1294.4" y1="1102.5" x2="1294.4" y2="1080.6" stroke="#1414ff" stroke-width="3"/>
<line x1="1289.9" y1="1080.6" x2="1298.9" y2="1080.6" stroke="#1414ff" stroke-width="3.5"/>
<line x1="1377.6" y1="1103.5" x2="1377.6" y2="1084.5" stroke="#1414ff" stroke-width="3"/>
<line x1="1373.1" y1="1084.5" x2="1382.1" y2="1084.5" stroke="#1414ff" stroke-width="3.5"/>
<polyline points="1128.0,1074.0 1210.5,1097.6 1294.4,1102.5 1377.6,1103.5" fill="none" stroke="#1414ff" stroke-width="4" stroke-linejoin="round"/>
<line x1="1128.0" y1="1147.4" x2="1128.0" y2="1160.5" stroke="#ff2020" stroke-width="3"/>
<line x1="1124.0" y1="1160.5" x2="1132.0" y2="1160.5" stroke="#ff2020" stroke-width="3.5"/>
<line x1="1124.0" y1="1147.4" x2="1132.0" y2="1147.4" stroke="#ff2020" stroke-width="3.5"/>
<line x1="1210.5" y1="1135.3" x2="1210.5" y2="1151.7" stroke="#ff2020" stroke-width="3"/>
<line x1="1206.5" y1="1151.7" x2="1214.5" y2="1151.7" stroke="#ff2020" stroke-width="3.5"/>
<line x1="1206.5" y1="1135.3" x2="1214.5" y2="1135.3" stroke="#ff2020" stroke-width="3.5"/>
<line x1="1294.4" y1="1139.6" x2="1294.4" y2="1150.0" stroke="#ff2020" stroke-width="3"/>
<line x1="1290.4" y1="1150.0" x2="1298.4" y2="1150.0" stroke="#ff2020" stroke-width="3.5"/>
<line x1="1290.4" y1="1139.6" x2="1298.4" y2="1139.6" stroke="#ff2020" stroke-width="3.5"/>
<line x1="1377.6" y1="1141.8" x2="1377.6" y2="1153.3" stroke="#ff2020" stroke-width="3"/>
<line x1="1373.6" y1="1153.3" x2="1381.6" y2="1153.3" stroke="#ff2020" stroke-width="3.5"/>
<line x1="1373.6" y1="1141.8" x2="1381.6" y2="1141.8" stroke="#ff2020" stroke-width="3.5"/>
<polyline points="1128.0,1147.4 1210.5,1135.3 1294.4,1139.6 1377.6,1141.8" fill="none" stroke="#ff2020" stroke-width="4.2" stroke-dasharray="0.1 8.5" stroke-linecap="round"/>
<text x="1150.0" y="1061.1" font-size="26" font-weight="bold" text-anchor="middle" fill="#1414ff">A</text>
<text x="1230.0" y="1073.4" font-size="26" font-weight="bold" text-anchor="middle" fill="#1414ff">A</text>
<text x="1308.8" y="1074.2" font-size="26" font-weight="bold" text-anchor="middle" fill="#1414ff">A</text>
<text x="1397.3" y="1090.0" font-size="26" font-weight="bold" text-anchor="middle" fill="#1414ff">A</text>
<text x="1145.0" y="1179.1" font-size="26" font-weight="bold" text-anchor="middle" fill="#ff2020">a</text>
<text x="1226.3" y="1179.1" font-size="26" font-weight="bold" text-anchor="middle" fill="#ff2020">a</text>
<text x="1306.5" y="1179.1" font-size="26" font-weight="bold" text-anchor="middle" fill="#ff2020">a</text>
<text x="1389.4" y="1179.1" font-size="26" font-weight="bold" text-anchor="middle" fill="#ff2020">a</text>
<text x="1128.0" y="1124.8" font-size="18" text-anchor="middle" font-family='"DejaVu Sans", sans-serif' fill="#000">★</text>
<text x="1210.5" y="1124.8" font-size="18" text-anchor="middle" font-family='"DejaVu Sans", sans-serif' fill="#000">★</text>
<text x="1294.4" y="1128.0" font-size="18" text-anchor="middle" font-family='"DejaVu Sans", sans-serif' fill="#000">★</text>
<text x="1377.6" y="1130.3" font-size="18" text-anchor="middle" font-family='"DejaVu Sans", sans-serif' fill="#000">★</text>
<text x="1594.0" y="1018.0" font-size="32" font-weight="bold" textLength="176.0" lengthAdjust="spacingAndGlyphs" fill="#000">Tb.Sp (mm)</text>
<line x1="1530.0" y1="1024.0" x2="1530.0" y2="1273.0" stroke="#000" stroke-width="3.5"/>
<line x1="1528.2" y1="1271.3" x2="1915.8" y2="1271.3" stroke="#000" stroke-width="3.5"/>
<line x1="1523.0" y1="1047.0" x2="1530.0" y2="1047.0" stroke="#000" stroke-width="3"/>
<text x="1517.4" y="1057.1" font-size="28" font-weight="bold" text-anchor="end" fill="#000">0.4</text>
<line x1="1523.0" y1="1102.5" x2="1530.0" y2="1102.5" stroke="#000" stroke-width="3"/>
<text x="1517.4" y="1112.6" font-size="28" font-weight="bold" text-anchor="end" fill="#000">0.3</text>
<line x1="1523.0" y1="1159.0" x2="1530.0" y2="1159.0" stroke="#000" stroke-width="3"/>
<text x="1517.4" y="1169.1" font-size="28" font-weight="bold" text-anchor="end" fill="#000">0.2</text>
<line x1="1523.0" y1="1215.0" x2="1530.0" y2="1215.0" stroke="#000" stroke-width="3"/>
<text x="1517.4" y="1225.1" font-size="28" font-weight="bold" text-anchor="end" fill="#000">0.1</text>
<line x1="1523.0" y1="1271.3" x2="1530.0" y2="1271.3" stroke="#000" stroke-width="3"/>
<text x="1517.4" y="1281.4" font-size="28" font-weight="bold" text-anchor="end" fill="#000">0.0</text>
<line x1="1526.0" y1="1074.8" x2="1530.0" y2="1074.8" stroke="#000" stroke-width="2"/>
<line x1="1526.0" y1="1130.8" x2="1530.0" y2="1130.8" stroke="#000" stroke-width="2"/>
<line x1="1526.0" y1="1187.0" x2="1530.0" y2="1187.0" stroke="#000" stroke-width="2"/>
<line x1="1526.0" y1="1243.2" x2="1530.0" y2="1243.2" stroke="#000" stroke-width="2"/>
<line x1="1572.4" y1="1271.3" x2="1572.4" y2="1278.3" stroke="#000" stroke-width="3"/>
<text x="1572.4" y="1305.7" font-size="27" font-weight="bold" text-anchor="middle" fill="#000">12</text>
<line x1="1657.5" y1="1271.3" x2="1657.5" y2="1278.3" stroke="#000" stroke-width="3"/>
<text x="1657.5" y="1305.7" font-size="27" font-weight="bold" text-anchor="middle" fill="#000">20</text>
<line x1="1742.6" y1="1271.3" x2="1742.6" y2="1278.3" stroke="#000" stroke-width="3"/>
<text x="1742.6" y="1305.7" font-size="27" font-weight="bold" text-anchor="middle" fill="#000">28</text>
<line x1="1828.0" y1="1271.3" x2="1828.0" y2="1278.3" stroke="#000" stroke-width="3"/>
<text x="1828.0" y="1305.7" font-size="27" font-weight="bold" text-anchor="middle" fill="#000">36</text>
<line x1="1615.0" y1="1271.3" x2="1615.0" y2="1275.3" stroke="#000" stroke-width="2"/>
<line x1="1700.0" y1="1271.3" x2="1700.0" y2="1275.3" stroke="#000" stroke-width="2"/>
<line x1="1785.3" y1="1271.3" x2="1785.3" y2="1275.3" stroke="#000" stroke-width="2"/>
<text x="1599.0" y="1365.0" font-size="34" font-weight="bold" textLength="211.4" lengthAdjust="spacingAndGlyphs" fill="#000">Age (weeks)</text>
<line x1="1572.4" y1="1172.0" x2="1572.4" y2="1184.5" stroke="#1414ff" stroke-width="3"/>
<line x1="1567.9" y1="1184.5" x2="1576.9" y2="1184.5" stroke="#1414ff" stroke-width="3.5"/>
<line x1="1657.5" y1="1142.3" x2="1657.5" y2="1147.4" stroke="#1414ff" stroke-width="3"/>
<line x1="1653.0" y1="1147.4" x2="1662.0" y2="1147.4" stroke="#1414ff" stroke-width="3.5"/>
<line x1="1742.6" y1="1120.4" x2="1742.6" y2="1122.0" stroke="#1414ff" stroke-width="3"/>
<line x1="1738.1" y1="1122.0" x2="1747.1" y2="1122.0" stroke="#1414ff" stroke-width="3.5"/>
<line x1="1828.0" y1="1101.0" x2="1828.0" y2="1113.6" stroke="#1414ff" stroke-width="3"/>
<line x1="1823.5" y1="1113.6" x2="1832.5" y2="1113.6" stroke="#1414ff" stroke-width="3.5"/>
<polyline points="1572.4,1172.0 1657.5,1142.3 1742.6,1120.4 1828.0,1101.0" fill="none" stroke="#1414ff" stroke-width="4" stroke-linejoin="round"/>
<line x1="1572.4" y1="1137.2" x2="1572.4" y2="1131.5" stroke="#ff2020" stroke-width="3"/>
<line x1="1568.4" y1="1131.5" x2="1576.4" y2="1131.5" stroke="#ff2020" stroke-width="3.5"/>
<line x1="1568.4" y1="1137.2" x2="1576.4" y2="1137.2" stroke="#ff2020" stroke-width="3.5"/>
<line x1="1657.5" y1="1117.0" x2="1657.5" y2="1106.9" stroke="#ff2020" stroke-width="3"/>
<line x1="1653.5" y1="1106.9" x2="1661.5" y2="1106.9" stroke="#ff2020" stroke-width="3.5"/>
<line x1="1653.5" y1="1117.0" x2="1661.5" y2="1117.0" stroke="#ff2020" stroke-width="3.5"/>
<line x1="1742.6" y1="1098.4" x2="1742.6" y2="1079.9" stroke="#ff2020" stroke-width="3"/>
<line x1="1738.6" y1="1079.9" x2="1746.6" y2="1079.9" stroke="#ff2020" stroke-width="3.5"/>
<line x1="1738.6" y1="1098.4" x2="1746.6" y2="1098.4" stroke="#ff2020" stroke-width="3.5"/>
<line x1="1828.0" y1="1086.6" x2="1828.0" y2="1069.7" stroke="#ff2020" stroke-width="3"/>
<line x1="1824.0" y1="1069.7" x2="1832.0" y2="1069.7" stroke="#ff2020" stroke-width="3.5"/>
<line x1="1824.0" y1="1086.6" x2="1832.0" y2="1086.6" stroke="#ff2020" stroke-width="3.5"/>
<polyline points="1572.4,1137.2 1657.5,1117.0 1742.6,1098.4 1828.0,1086.6" fill="none" stroke="#ff2020" stroke-width="4.2" stroke-dasharray="0.1 8.5" stroke-linecap="round"/>
<text x="1591.0" y="1205.7" font-size="26" font-weight="bold" text-anchor="middle" fill="#1414ff">A</text>
<text x="1674.4" y="1188.2" font-size="26" font-weight="bold" text-anchor="middle" fill="#1414ff">A</text>
<text x="1762.2" y="1148.4" font-size="26" font-weight="bold" text-anchor="middle" fill="#1414ff">B</text>
<text x="1844.2" y="1139.2" font-size="26" font-weight="bold" text-anchor="middle" fill="#1414ff">C</text>
<text x="1582.2" y="1117.9" font-size="26" font-weight="bold" text-anchor="middle" fill="#ff2020">a</text>
<text x="1672.0" y="1102.8" font-size="26" font-weight="bold" text-anchor="middle" fill="#ff2020">a</text>
<text x="1759.8" y="1073.4" font-size="26" font-weight="bold" text-anchor="middle" fill="#ff2020">b</text>
<text x="1848.3" y="1059.9" font-size="26" font-weight="bold" text-anchor="middle" fill="#ff2020">c</text>
<text x="1572.4" y="1168.4" font-size="18" text-anchor="middle" font-family='"DejaVu Sans", sans-serif' fill="#000">★</text>
<text x="1658.5" y="1140.4" font-size="18" text-anchor="middle" font-family='"DejaVu Sans", sans-serif' fill="#000">★</text>
<text x="120.4" y="3158.1" font-size="32" font-weight="bold" textLength="207.1" lengthAdjust="spacingAndGlyphs" fill="#000">Tb.BV/TV (%)</text>
<line x1="55.4" y1="3190.6" x2="55.4" y2="3434.1" stroke="#000" stroke-width="3.5"/>
<line x1="53.6" y1="3432.3" x2="430.1" y2="3432.3" stroke="#000" stroke-width="3.5"/>
<line x1="48.4" y1="3221.4" x2="55.4" y2="3221.4" stroke="#000" stroke-width="3"/>
<text x="47.2" y="3231.7" font-size="28.5" font-weight="bold" text-anchor="end" fill="#000">20</text>
<line x1="48.4" y1="3281.9" x2="55.4" y2="3281.9" stroke="#000" stroke-width="3"/>
<text x="47.2" y="3292.2" font-size="28.5" font-weight="bold" text-anchor="end" fill="#000">15</text>
<line x1="48.4" y1="3342.7" x2="55.4" y2="3342.7" stroke="#000" stroke-width="3"/>
<text x="47.2" y="3353.0" font-size="28.5" font-weight="bold" text-anchor="end" fill="#000">10</text>
<line x1="48.4" y1="3402.6" x2="55.4" y2="3402.6" stroke="#000" stroke-width="3"/>
<text x="47.2" y="3412.9" font-size="28.5" font-weight="bold" text-anchor="end" fill="#000">5</text>
<line x1="51.4" y1="3251.7" x2="55.4" y2="3251.7" stroke="#000" stroke-width="2"/>
<line x1="51.4" y1="3312.3" x2="55.4" y2="3312.3" stroke="#000" stroke-width="2"/>
<line x1="51.4" y1="3372.6" x2="55.4" y2="3372.6" stroke="#000" stroke-width="2"/>
<line x1="101.9" y1="3432.3" x2="101.9" y2="3439.3" stroke="#000" stroke-width="3"/>
<text x="101.9" y="3466.8" font-size="26.5" font-weight="bold" text-anchor="middle" fill="#000">12</text>
<line x1="194.9" y1="3432.3" x2="194.9" y2="3439.3" stroke="#000" stroke-width="3"/>
<text x="194.9" y="3466.8" font-size="26.5" font-weight="bold" text-anchor="middle" fill="#000">20</text>
<line x1="288.9" y1="3432.3" x2="288.9" y2="3439.3" stroke="#000" stroke-width="3"/>
<text x="288.9" y="3466.8" font-size="26.5" font-weight="bold" text-anchor="middle" fill="#000">28</text>
<line x1="382.2" y1="3432.3" x2="382.2" y2="3439.3" stroke="#000" stroke-width="3"/>
<text x="382.2" y="3466.8" font-size="26.5" font-weight="bold" text-anchor="middle" fill="#000">36</text>
<line x1="148.4" y1="3432.3" x2="148.4" y2="3436.3" stroke="#000" stroke-width="2"/>
<line x1="241.9" y1="3432.3" x2="241.9" y2="3436.3" stroke="#000" stroke-width="2"/>
<line x1="335.5" y1="3432.3" x2="335.5" y2="3436.3" stroke="#000" stroke-width="2"/>
<text x="107.7" y="3522.2" font-size="34" font-weight="bold" textLength="213.0" lengthAdjust="spacingAndGlyphs" fill="#000">Age (weeks)</text>
<line x1="101.9" y1="3236.0" x2="101.9" y2="3206.7" stroke="#1414ff" stroke-width="3"/>
<line x1="97.4" y1="3206.7" x2="106.4" y2="3206.7" stroke="#1414ff" stroke-width="3.5"/>
<line x1="194.9" y1="3305.8" x2="194.9" y2="3283.9" stroke="#1414ff" stroke-width="3"/>
<line x1="190.4" y1="3283.9" x2="199.4" y2="3283.9" stroke="#1414ff" stroke-width="3.5"/>
<line x1="288.9" y1="3322.9" x2="288.9" y2="3304.1" stroke="#1414ff" stroke-width="3"/>
<line x1="284.4" y1="3304.1" x2="293.4" y2="3304.1" stroke="#1414ff" stroke-width="3.5"/>
<line x1="382.2" y1="3367.4" x2="382.2" y2="3349.6" stroke="#1414ff" stroke-width="3"/>
<line x1="377.7" y1="3349.6" x2="386.7" y2="3349.6" stroke="#1414ff" stroke-width="3.5"/>
<polyline points="101.9,3236.0 194.9,3305.8 288.9,3322.9 382.2,3367.4" fill="none" stroke="#1414ff" stroke-width="4" stroke-linejoin="round"/>
<line x1="101.9" y1="3386.5" x2="101.9" y2="3400.2" stroke="#ff2020" stroke-width="3"/>
<line x1="97.9" y1="3400.2" x2="105.9" y2="3400.2" stroke="#ff2020" stroke-width="3.5"/>
<line x1="97.9" y1="3386.5" x2="105.9" y2="3386.5" stroke="#ff2020" stroke-width="3.5"/>
<line x1="194.9" y1="3388.9" x2="194.9" y2="3402.6" stroke="#ff2020" stroke-width="3"/>
<line x1="190.9" y1="3402.6" x2="198.9" y2="3402.6" stroke="#ff2020" stroke-width="3.5"/>
<line x1="190.9" y1="3388.9" x2="198.9" y2="3388.9" stroke="#ff2020" stroke-width="3.5"/>
<line x1="288.9" y1="3394.7" x2="288.9" y2="3412.8" stroke="#ff2020" stroke-width="3"/>
<line x1="284.9" y1="3412.8" x2="292.9" y2="3412.8" stroke="#ff2020" stroke-width="3.5"/>
<line x1="284.9" y1="3394.7" x2="292.9" y2="3394.7" stroke="#ff2020" stroke-width="3.5"/>
<line x1="382.2" y1="3396.8" x2="382.2" y2="3407.0" stroke="#ff2020" stroke-width="3"/>
<line x1="378.2" y1="3407.0" x2="386.2" y2="3407.0" stroke="#ff2020" stroke-width="3.5"/>
<line x1="378.2" y1="3396.8" x2="386.2" y2="3396.8" stroke="#ff2020" stroke-width="3.5"/>
<polyline points="101.9,3386.5 194.9,3388.9 288.9,3394.7 382.2,3396.8" fill="none" stroke="#ff2020" stroke-width="4.2" stroke-dasharray="0.1 8.5" stroke-linecap="round"/>
<text x="122.4" y="3237.8" font-size="24" font-weight="bold" text-anchor="middle" fill="#1414ff">A</text>
<text x="213.7" y="3302.8" font-size="24" font-weight="bold" text-anchor="middle" fill="#1414ff">B</text>
<text x="314.5" y="3313.7" font-size="24" font-weight="bold" text-anchor="middle" fill="#1414ff">BC</text>
<text x="389.7" y="3341.1" font-size="24" font-weight="bold" text-anchor="middle" fill="#1414ff">C</text>
<text x="103.6" y="3418.0" font-size="24" font-weight="bold" text-anchor="middle" fill="#ff2020">a</text>
<text x="194.2" y="3423.8" font-size="24" font-weight="bold" text-anchor="middle" fill="#ff2020">a</text>
<text x="301.5" y="3419.7" font-size="24" font-weight="bold" text-anchor="middle" fill="#ff2020">a</text>
<text x="397.3" y="3424.8" font-size="24" font-weight="bold" text-anchor="middle" fill="#ff2020">a</text>
<text x="101.9" y="3330.5" font-size="18" text-anchor="middle" font-family='"DejaVu Sans", sans-serif' fill="#000">★</text>
<text x="195.6" y="3357.8" font-size="18" text-anchor="middle" font-family='"DejaVu Sans", sans-serif' fill="#000">★</text>
<text x="288.9" y="3373.2" font-size="18" text-anchor="middle" font-family='"DejaVu Sans", sans-serif' fill="#000">★</text>
<text x="393.2" y="3389.5" font-size="18" text-anchor="middle" font-family='"DejaVu Sans", sans-serif' fill="#000">★</text>
<text x="579.3" y="3161.5" font-size="32" font-weight="bold" textLength="199.0" lengthAdjust="spacingAndGlyphs" fill="#000">Tb.N (1/mm)</text>
<line x1="517.4" y1="3192.3" x2="517.4" y2="3436.8" stroke="#000" stroke-width="3.5"/>
<line x1="515.6" y1="3435.0" x2="894.9" y2="3435.0" stroke="#000" stroke-width="3.5"/>
<line x1="510.4" y1="3223.8" x2="517.4" y2="3223.8" stroke="#000" stroke-width="3"/>
<text x="506.2" y="3233.9" font-size="28" font-weight="bold" text-anchor="end" fill="#000">6</text>
<line x1="510.4" y1="3259.0" x2="517.4" y2="3259.0" stroke="#000" stroke-width="3"/>
<text x="506.2" y="3269.1" font-size="28" font-weight="bold" text-anchor="end" fill="#000">5</text>
<line x1="510.4" y1="3294.2" x2="517.4" y2="3294.2" stroke="#000" stroke-width="3"/>
<text x="506.2" y="3304.3" font-size="28" font-weight="bold" text-anchor="end" fill="#000">4</text>
<line x1="510.4" y1="3329.0" x2="517.4" y2="3329.0" stroke="#000" stroke-width="3"/>
<text x="506.2" y="3339.1" font-size="28" font-weight="bold" text-anchor="end" fill="#000">3</text>
<line x1="510.4" y1="3365.0" x2="517.4" y2="3365.0" stroke="#000" stroke-width="3"/>
<text x="506.2" y="3375.1" font-size="28" font-weight="bold" text-anchor="end" fill="#000">2</text>
<line x1="510.4" y1="3400.2" x2="517.4" y2="3400.2" stroke="#000" stroke-width="3"/>
<text x="506.2" y="3410.3" font-size="28" font-weight="bold" text-anchor="end" fill="#000">1</text>
<line x1="510.4" y1="3435.0" x2="517.4" y2="3435.0" stroke="#000" stroke-width="3"/>
<text x="506.2" y="3445.1" font-size="28" font-weight="bold" text-anchor="end" fill="#000">0</text>
<line x1="513.4" y1="3241.4" x2="517.4" y2="3241.4" stroke="#000" stroke-width="2"/>
<line x1="513.4" y1="3276.6" x2="517.4" y2="3276.6" stroke="#000" stroke-width="2"/>
<line x1="513.4" y1="3311.6" x2="517.4" y2="3311.6" stroke="#000" stroke-width="2"/>
<line x1="513.4" y1="3347.0" x2="517.4" y2="3347.0" stroke="#000" stroke-width="2"/>
<line x1="513.4" y1="3382.6" x2="517.4" y2="3382.6" stroke="#000" stroke-width="2"/>
<line x1="513.4" y1="3417.6" x2="517.4" y2="3417.6" stroke="#000" stroke-width="2"/>
<line x1="559.1" y1="3435.0" x2="559.1" y2="3442.0" stroke="#000" stroke-width="3"/>
<text x="559.1" y="3470.2" font-size="26.5" font-weight="bold" text-anchor="middle" fill="#000">12</text>
<line x1="642.9" y1="3435.0" x2="642.9" y2="3442.0" stroke="#000" stroke-width="3"/>
<text x="642.9" y="3470.2" font-size="26.5" font-weight="bold" text-anchor="middle" fill="#000">20</text>
<line x1="726.0" y1="3435.0" x2="726.0" y2="3442.0" stroke="#000" stroke-width="3"/>
<text x="726.0" y="3470.2" font-size="26.5" font-weight="bold" text-anchor="middle" fill="#000">28</text>
<line x1="809.4" y1="3435.0" x2="809.4" y2="3442.0" stroke="#000" stroke-width="3"/>
<text x="809.4" y="3470.2" font-size="26.5" font-weight="bold" text-anchor="middle" fill="#000">36</text>
<line x1="601.0" y1="3435.0" x2="601.0" y2="3439.0" stroke="#000" stroke-width="2"/>
<line x1="684.5" y1="3435.0" x2="684.5" y2="3439.0" stroke="#000" stroke-width="2"/>
<line x1="767.7" y1="3435.0" x2="767.7" y2="3439.0" stroke="#000" stroke-width="2"/>
<text x="580.4" y="3527.4" font-size="34" font-weight="bold" textLength="211.6" lengthAdjust="spacingAndGlyphs" fill="#000">Age (weeks)</text>
<line x1="559.1" y1="3266.8" x2="559.1" y2="3253.8" stroke="#1414ff" stroke-width="3"/>
<line x1="554.6" y1="3253.8" x2="563.6" y2="3253.8" stroke="#1414ff" stroke-width="3.5"/>
<line x1="642.9" y1="3292.5" x2="642.9" y2="3282.9" stroke="#1414ff" stroke-width="3"/>
<line x1="638.4" y1="3282.9" x2="647.4" y2="3282.9" stroke="#1414ff" stroke-width="3.5"/>
<line x1="726.0" y1="3301.7" x2="726.0" y2="3284.6" stroke="#1414ff" stroke-width="3"/>
<line x1="721.5" y1="3284.6" x2="730.5" y2="3284.6" stroke="#1414ff" stroke-width="3.5"/>
<line x1="809.4" y1="3318.8" x2="809.4" y2="3299.0" stroke="#1414ff" stroke-width="3"/>
<line x1="804.9" y1="3299.0" x2="813.9" y2="3299.0" stroke="#1414ff" stroke-width="3.5"/>
<polyline points="559.1,3266.8 642.9,3292.5 726.0,3301.7 809.4,3318.8" fill="none" stroke="#1414ff" stroke-width="4" stroke-linejoin="round"/>
<line x1="559.1" y1="3339.3" x2="559.1" y2="3348.9" stroke="#ff2020" stroke-width="3"/>
<line x1="555.1" y1="3348.9" x2="563.1" y2="3348.9" stroke="#ff2020" stroke-width="3.5"/>
<line x1="555.1" y1="3339.3" x2="563.1" y2="3339.3" stroke="#ff2020" stroke-width="3.5"/>
<line x1="642.9" y1="3349.6" x2="642.9" y2="3360.5" stroke="#ff2020" stroke-width="3"/>
<line x1="638.9" y1="3360.5" x2="646.9" y2="3360.5" stroke="#ff2020" stroke-width="3.5"/>
<line x1="638.9" y1="3349.6" x2="646.9" y2="3349.6" stroke="#ff2020" stroke-width="3.5"/>
<line x1="726.0" y1="3345.5" x2="726.0" y2="3354.7" stroke="#ff2020" stroke-width="3"/>
<line x1="722.0" y1="3354.7" x2="730.0" y2="3354.7" stroke="#ff2020" stroke-width="3.5"/>
<line x1="722.0" y1="3345.5" x2="730.0" y2="3345.5" stroke="#ff2020" stroke-width="3.5"/>
<line x1="809.4" y1="3344.4" x2="809.4" y2="3358.1" stroke="#ff2020" stroke-width="3"/>
<line x1="805.4" y1="3358.1" x2="813.4" y2="3358.1" stroke="#ff2020" stroke-width="3.5"/>
<line x1="805.4" y1="3344.4" x2="813.4" y2="3344.4" stroke="#ff2020" stroke-width="3.5"/>
<polyline points="559.1,3339.3 642.9,3349.6 726.0,3345.5 809.4,3344.4" fill="none" stroke="#ff2020" stroke-width="4.2" stroke-dasharray="0.1 8.5" stroke-linecap="round"/>
<text x="559.1" y="3250.5" font-size="24" font-weight="bold" text-anchor="middle" fill="#1414ff">A</text>
<text x="644.6" y="3276.1" font-size="24" font-weight="bold" text-anchor="middle" fill="#1414ff">AB</text>
<text x="742.0" y="3291.5" font-size="24" font-weight="bold" text-anchor="middle" fill="#1414ff">B</text>
<text x="831.0" y="3305.2" font-size="24" font-weight="bold" text-anchor="middle" fill="#1414ff">B</text>
<text x="558.5" y="3378.6" font-size="24" font-weight="bold" text-anchor="middle" fill="#ff2020">a</text>
<text x="642.9" y="3387.2" font-size="24" font-weight="bold" text-anchor="middle" fill="#ff2020">a</text>
<text x="727.4" y="3385.6" font-size="24" font-weight="bold" text-anchor="middle" fill="#ff2020">a</text>
<text x="822.4" y="3375.3" font-size="24" font-weight="bold" text-anchor="middle" fill="#ff2020">a</text>
<text x="558.5" y="3313.3" font-size="18" text-anchor="middle" font-family='"DejaVu Sans", sans-serif' fill="#000">★</text>
<text x="642.9" y="3331.5" font-size="18" text-anchor="middle" font-family='"DejaVu Sans", sans-serif' fill="#000">★</text>
<text x="726.7" y="3330.5" font-size="18" text-anchor="middle" font-family='"DejaVu Sans", sans-serif' fill="#000">★</text>
<text x="817.3" y="3339.0" font-size="18" text-anchor="middle" font-family='"DejaVu Sans", sans-serif' fill="#000">★</text>
<text x="1072.1" y="3165.2" font-size="32" font-weight="bold" textLength="178.3" lengthAdjust="spacingAndGlyphs" fill="#000">Tb.Th (mm)</text>
<line x1="1022.6" y1="3187.3" x2="1022.6" y2="3432.2" stroke="#000" stroke-width="3.5"/>
<line x1="1020.9" y1="3430.5" x2="1399.0" y2="3430.5" stroke="#000" stroke-width="3.5"/>
<line x1="1015.6" y1="3266.7" x2="1022.6" y2="3266.7" stroke="#000" stroke-width="3"/>
<text x="1011.9" y="3277.0" font-size="28.5" font-weight="bold" text-anchor="end" fill="#000">0.06</text>
<line x1="1015.6" y1="3348.6" x2="1022.6" y2="3348.6" stroke="#000" stroke-width="3"/>
<text x="1011.9" y="3358.9" font-size="28.5" font-weight="bold" text-anchor="end" fill="#000">0.03</text>
<line x1="1015.6" y1="3430.5" x2="1022.6" y2="3430.5" stroke="#000" stroke-width="3"/>
<text x="1011.9" y="3440.8" font-size="28.5" font-weight="bold" text-anchor="end" fill="#000">0.00</text>
<line x1="1018.6" y1="3307.6" x2="1022.6" y2="3307.6" stroke="#000" stroke-width="2"/>
<line x1="1018.6" y1="3389.6" x2="1022.6" y2="3389.6" stroke="#000" stroke-width="2"/>
<line x1="1063.5" y1="3430.5" x2="1063.5" y2="3437.5" stroke="#000" stroke-width="3"/>
<text x="1063.5" y="3463.8" font-size="26.5" font-weight="bold" text-anchor="middle" fill="#000">12</text>
<line x1="1146.9" y1="3430.5" x2="1146.9" y2="3437.5" stroke="#000" stroke-width="3"/>
<text x="1146.9" y="3463.8" font-size="26.5" font-weight="bold" text-anchor="middle" fill="#000">20</text>
<line x1="1230.5" y1="3430.5" x2="1230.5" y2="3437.5" stroke="#000" stroke-width="3"/>
<text x="1230.5" y="3463.8" font-size="26.5" font-weight="bold" text-anchor="middle" fill="#000">28</text>
<line x1="1313.5" y1="3430.5" x2="1313.5" y2="3437.5" stroke="#000" stroke-width="3"/>
<text x="1313.5" y="3463.8" font-size="26.5" font-weight="bold" text-anchor="middle" fill="#000">36</text>
<line x1="1105.2" y1="3430.5" x2="1105.2" y2="3434.5" stroke="#000" stroke-width="2"/>
<line x1="1188.7" y1="3430.5" x2="1188.7" y2="3434.5" stroke="#000" stroke-width="2"/>
<line x1="1272.0" y1="3430.5" x2="1272.0" y2="3434.5" stroke="#000" stroke-width="2"/>
<text x="1073.9" y="3525.6" font-size="34" font-weight="bold" textLength="212.1" lengthAdjust="spacingAndGlyphs" fill="#000">Age (weeks)</text>
<line x1="1063.5" y1="3270.9" x2="1063.5" y2="3263.1" stroke="#1414ff" stroke-width="3"/>
<line x1="1059.0" y1="3263.1" x2="1068.0" y2="3263.1" stroke="#1414ff" stroke-width="3.5"/>
<line x1="1146.9" y1="3288.0" x2="1146.9" y2="3278.8" stroke="#1414ff" stroke-width="3"/>
<line x1="1142.4" y1="3278.8" x2="1151.4" y2="3278.8" stroke="#1414ff" stroke-width="3.5"/>
<line x1="1230.5" y1="3284.5" x2="1230.5" y2="3275.2" stroke="#1414ff" stroke-width="3"/>
<line x1="1226.0" y1="3275.2" x2="1235.0" y2="3275.2" stroke="#1414ff" stroke-width="3.5"/>
<line x1="1313.5" y1="3302.3" x2="1313.5" y2="3291.6" stroke="#1414ff" stroke-width="3"/>
<line x1="1309.0" y1="3291.6" x2="1318.0" y2="3291.6" stroke="#1414ff" stroke-width="3.5"/>
<polyline points="1063.5,3270.9 1146.9,3288.0 1230.5,3284.5 1313.5,3302.3" fill="none" stroke="#1414ff" stroke-width="4" stroke-linejoin="round"/>
<line x1="1063.5" y1="3299.4" x2="1063.5" y2="3304.8" stroke="#ff2020" stroke-width="3"/>
<line x1="1059.5" y1="3304.8" x2="1067.5" y2="3304.8" stroke="#ff2020" stroke-width="3.5"/>
<line x1="1059.5" y1="3299.4" x2="1067.5" y2="3299.4" stroke="#ff2020" stroke-width="3.5"/>
<line x1="1146.9" y1="3291.6" x2="1146.9" y2="3301.2" stroke="#ff2020" stroke-width="3"/>
<line x1="1142.9" y1="3301.2" x2="1150.9" y2="3301.2" stroke="#ff2020" stroke-width="3.5"/>
<line x1="1142.9" y1="3291.6" x2="1150.9" y2="3291.6" stroke="#ff2020" stroke-width="3.5"/>
<line x1="1230.5" y1="3299.4" x2="1230.5" y2="3305.8" stroke="#ff2020" stroke-width="3"/>
<line x1="1226.5" y1="3305.8" x2="1234.5" y2="3305.8" stroke="#ff2020" stroke-width="3.5"/>
<line x1="1226.5" y1="3299.4" x2="1234.5" y2="3299.4" stroke="#ff2020" stroke-width="3.5"/>
<line x1="1313.5" y1="3308.3" x2="1313.5" y2="3319.0" stroke="#ff2020" stroke-width="3"/>
<line x1="1309.5" y1="3319.0" x2="1317.5" y2="3319.0" stroke="#ff2020" stroke-width="3.5"/>
<line x1="1309.5" y1="3308.3" x2="1317.5" y2="3308.3" stroke="#ff2020" stroke-width="3.5"/>
<polyline points="1063.5,3299.4 1146.9,3291.6 1230.5,3299.4 1313.5,3308.3" fill="none" stroke="#ff2020" stroke-width="4.2" stroke-dasharray="0.1 8.5" stroke-linecap="round"/>
<text x="1059.6" y="3252.8" font-size="24" font-weight="bold" text-anchor="middle" fill="#1414ff">A</text>
<text x="1147.9" y="3260.0" font-size="24" font-weight="bold" text-anchor="middle" fill="#1414ff">AB</text>
<text x="1229.8" y="3265.3" font-size="24" font-weight="bold" text-anchor="middle" fill="#1414ff">AB</text>
<text x="1327.0" y="3287.4" font-size="24" font-weight="bold" text-anchor="middle" fill="#1414ff">B</text>
<text x="1066.7" y="3333.6" font-size="24" font-weight="bold" text-anchor="middle" fill="#ff2020">ab</text>
<text x="1145.4" y="3333.0" font-size="24" font-weight="bold" text-anchor="middle" fill="#ff2020">a</text>
<text x="1229.8" y="3337.2" font-size="24" font-weight="bold" text-anchor="middle" fill="#ff2020">ab</text>
<text x="1325.3" y="3347.2" font-size="24" font-weight="bold" text-anchor="middle" fill="#ff2020">b</text>
<text x="1064.2" y="3292.8" font-size="18" text-anchor="middle" font-family='"DejaVu Sans", sans-serif' fill="#000">★</text>
<text x="1245.9" y="3281.7" font-size="18" text-anchor="middle" font-family='"DejaVu Sans", sans-serif' fill="#000">★</text>
<text x="1560.0" y="3157.8" font-size="32" font-weight="bold" textLength="175.1" lengthAdjust="spacingAndGlyphs" fill="#000">Tb.Sp (mm)</text>
<line x1="1518.1" y1="3184.2" x2="1518.1" y2="3429.4" stroke="#000" stroke-width="3.5"/>
<line x1="1516.3" y1="3427.7" x2="1895.2" y2="3427.7" stroke="#000" stroke-width="3.5"/>
<line x1="1511.1" y1="3219.0" x2="1518.1" y2="3219.0" stroke="#000" stroke-width="3"/>
<text x="1507.9" y="3229.1" font-size="28" font-weight="bold" text-anchor="end" fill="#000">0.6</text>
<line x1="1511.1" y1="3288.5" x2="1518.1" y2="3288.5" stroke="#000" stroke-width="3"/>
<text x="1507.9" y="3298.6" font-size="28" font-weight="bold" text-anchor="end" fill="#000">0.4</text>
<line x1="1511.1" y1="3358.1" x2="1518.1" y2="3358.1" stroke="#000" stroke-width="3"/>
<text x="1507.9" y="3368.2" font-size="28" font-weight="bold" text-anchor="end" fill="#000">0.2</text>
<line x1="1511.1" y1="3427.7" x2="1518.1" y2="3427.7" stroke="#000" stroke-width="3"/>
<text x="1507.9" y="3437.8" font-size="28" font-weight="bold" text-anchor="end" fill="#000">0.0</text>
<line x1="1514.1" y1="3253.8" x2="1518.1" y2="3253.8" stroke="#000" stroke-width="2"/>
<line x1="1514.1" y1="3323.3" x2="1518.1" y2="3323.3" stroke="#000" stroke-width="2"/>
<line x1="1514.1" y1="3392.9" x2="1518.1" y2="3392.9" stroke="#000" stroke-width="2"/>
<line x1="1559.8" y1="3427.7" x2="1559.8" y2="3434.7" stroke="#000" stroke-width="3"/>
<text x="1559.8" y="3461.0" font-size="26.5" font-weight="bold" text-anchor="middle" fill="#000">12</text>
<line x1="1643.3" y1="3427.7" x2="1643.3" y2="3434.7" stroke="#000" stroke-width="3"/>
<text x="1643.3" y="3461.0" font-size="26.5" font-weight="bold" text-anchor="middle" fill="#000">20</text>
<line x1="1726.8" y1="3427.7" x2="1726.8" y2="3434.7" stroke="#000" stroke-width="3"/>
<text x="1726.8" y="3461.0" font-size="26.5" font-weight="bold" text-anchor="middle" fill="#000">28</text>
<line x1="1809.9" y1="3427.7" x2="1809.9" y2="3434.7" stroke="#000" stroke-width="3"/>
<text x="1809.9" y="3461.0" font-size="26.5" font-weight="bold" text-anchor="middle" fill="#000">36</text>
<line x1="1601.5" y1="3427.7" x2="1601.5" y2="3431.7" stroke="#000" stroke-width="2"/>
<line x1="1685.0" y1="3427.7" x2="1685.0" y2="3431.7" stroke="#000" stroke-width="2"/>
<line x1="1768.3" y1="3427.7" x2="1768.3" y2="3431.7" stroke="#000" stroke-width="2"/>
<text x="1585.6" y="3524.7" font-size="34" font-weight="bold" textLength="210.7" lengthAdjust="spacingAndGlyphs" fill="#000">Age (weeks)</text>
<line x1="1559.8" y1="3354.4" x2="1559.8" y2="3360.7" stroke="#1414ff" stroke-width="3"/>
<line x1="1555.3" y1="3360.7" x2="1564.3" y2="3360.7" stroke="#1414ff" stroke-width="3.5"/>
<line x1="1643.3" y1="3340.9" x2="1643.3" y2="3348.2" stroke="#1414ff" stroke-width="3"/>
<line x1="1638.8" y1="3348.2" x2="1647.8" y2="3348.2" stroke="#1414ff" stroke-width="3.5"/>
<line x1="1726.8" y1="3334.3" x2="1726.8" y2="3344.6" stroke="#1414ff" stroke-width="3"/>
<line x1="1722.3" y1="3344.6" x2="1731.3" y2="3344.6" stroke="#1414ff" stroke-width="3.5"/>
<line x1="1809.9" y1="3318.9" x2="1809.9" y2="3334.3" stroke="#1414ff" stroke-width="3"/>
<line x1="1805.4" y1="3334.3" x2="1814.4" y2="3334.3" stroke="#1414ff" stroke-width="3.5"/>
<polyline points="1559.8,3354.4 1643.3,3340.9 1726.8,3334.3 1809.9,3318.9" fill="none" stroke="#1414ff" stroke-width="4" stroke-linejoin="round"/>
<line x1="1559.8" y1="3297.7" x2="1559.8" y2="3283.0" stroke="#ff2020" stroke-width="3"/>
<line x1="1555.8" y1="3283.0" x2="1563.8" y2="3283.0" stroke="#ff2020" stroke-width="3.5"/>
<line x1="1555.8" y1="3297.7" x2="1563.8" y2="3297.7" stroke="#ff2020" stroke-width="3.5"/>
<line x1="1643.3" y1="3283.0" x2="1643.3" y2="3264.7" stroke="#ff2020" stroke-width="3"/>
<line x1="1639.3" y1="3264.7" x2="1647.3" y2="3264.7" stroke="#ff2020" stroke-width="3.5"/>
<line x1="1639.3" y1="3283.0" x2="1647.3" y2="3283.0" stroke="#ff2020" stroke-width="3.5"/>
<line x1="1726.8" y1="3287.4" x2="1726.8" y2="3275.0" stroke="#ff2020" stroke-width="3"/>
<line x1="1722.8" y1="3275.0" x2="1730.8" y2="3275.0" stroke="#ff2020" stroke-width="3.5"/>
<line x1="1722.8" y1="3287.4" x2="1730.8" y2="3287.4" stroke="#ff2020" stroke-width="3.5"/>
<line x1="1809.9" y1="3289.6" x2="1809.9" y2="3272.1" stroke="#ff2020" stroke-width="3"/>
<line x1="1805.9" y1="3272.1" x2="1813.9" y2="3272.1" stroke="#ff2020" stroke-width="3.5"/>
<line x1="1805.9" y1="3289.6" x2="1813.9" y2="3289.6" stroke="#ff2020" stroke-width="3.5"/>
<polyline points="1559.8,3297.7 1643.3,3283.0 1726.8,3287.4 1809.9,3289.6" fill="none" stroke="#ff2020" stroke-width="4.2" stroke-dasharray="0.1 8.5" stroke-linecap="round"/>
<text x="1559.8" y="3392.3" font-size="24" font-weight="bold" text-anchor="middle" fill="#1414ff">A</text>
<text x="1646.2" y="3377.7" font-size="24" font-weight="bold" text-anchor="middle" fill="#1414ff">AB</text>
<text x="1727.5" y="3374.0" font-size="24" font-weight="bold" text-anchor="middle" fill="#1414ff">AB</text>
<text x="1811.0" y="3366.7" font-size="24" font-weight="bold" text-anchor="middle" fill="#1414ff">B</text>
<text x="1558.4" y="3271.5" font-size="24" font-weight="bold" text-anchor="middle" fill="#ff2020">a</text>
<text x="1645.2" y="3255.0" font-size="24" font-weight="bold" text-anchor="middle" fill="#ff2020">a</text>
<text x="1726.8" y="3263.1" font-size="24" font-weight="bold" text-anchor="middle" fill="#ff2020">a</text>
<text x="1811.7" y="3264.2" font-size="24" font-weight="bold" text-anchor="middle" fill="#ff2020">a</text>
<text x="1562.0" y="3333.5" font-size="18" text-anchor="middle" font-family='"DejaVu Sans", sans-serif' fill="#000">★</text>
<text x="1641.5" y="3326.9" font-size="18" text-anchor="middle" font-family='"DejaVu Sans", sans-serif' fill="#000">★</text>
<text x="1727.5" y="3318.1" font-size="18" text-anchor="middle" font-family='"DejaVu Sans", sans-serif' fill="#000">★</text>
<text x="1814.6" y="3312.2" font-size="18" text-anchor="middle" font-family='"DejaVu Sans", sans-serif' fill="#000">★</text>
<text x="675.6" y="1494.7" font-size="29" font-weight="bold" textLength="76.2" lengthAdjust="spacingAndGlyphs" fill="#000">MAR</text>
<text x="641.4" y="1537.0" font-size="29" font-weight="bold" textLength="149.6" lengthAdjust="spacingAndGlyphs" fill="#000">(µm/day)</text>
<rect x="606.1" y="1751.0" width="26.4" height="167.6" fill="#ffffff" stroke="#2a2a2a" stroke-width="2.6"/>
<rect x="641.0" y="1854.4" width="25.4" height="64.2" fill="#c8c8c8" stroke="#2a2a2a" stroke-width="2.6"/>
<rect x="705.9" y="1806.5" width="26.5" height="112.1" fill="#ffffff" stroke="#2a2a2a" stroke-width="2.6"/>
<rect x="740.1" y="1837.6" width="26.5" height="81.0" fill="#c8c8c8" stroke="#2a2a2a" stroke-width="2.6"/>
<line x1="619.3" y1="1751.0" x2="619.3" y2="1637.6" stroke="#2a2a2a" stroke-width="2.2"/>
<line x1="610.3" y1="1637.6" x2="628.3" y2="1637.6" stroke="#2a2a2a" stroke-width="2.8"/>
<line x1="653.7" y1="1854.4" x2="653.7" y2="1851.0" stroke="#2a2a2a" stroke-width="2.2"/>
<line x1="644.7" y1="1851.0" x2="662.7" y2="1851.0" stroke="#2a2a2a" stroke-width="2.8"/>
<line x1="719.1" y1="1806.5" x2="719.1" y2="1751.8" stroke="#2a2a2a" stroke-width="2.2"/>
<line x1="710.1" y1="1751.8" x2="728.1" y2="1751.8" stroke="#2a2a2a" stroke-width="2.8"/>
<line x1="753.3" y1="1837.6" x2="753.3" y2="1829.7" stroke="#2a2a2a" stroke-width="2.2"/>
<line x1="744.3" y1="1829.7" x2="762.3" y2="1829.7" stroke="#2a2a2a" stroke-width="2.8"/>
<circle cx="618.5" cy="1622.2" r="3.2" fill="#111"/>
<circle cx="618.5" cy="1801.4" r="3.2" fill="#111"/>
<circle cx="618.5" cy="1829.7" r="3.2" fill="#111"/>
<circle cx="653.0" cy="1853.7" r="3.2" fill="#111"/>
<circle cx="716.6" cy="1768.2" r="3.2" fill="#111"/>
<circle cx="717.6" cy="1845.8" r="3.2" fill="#111"/>
<circle cx="756.0" cy="1845.0" r="3.2" fill="#111"/>
<circle cx="752.5" cy="1832.5" r="3.2" fill="#111"/>
<line x1="585.6" y1="1558.0" x2="585.6" y2="1920.3" stroke="#000" stroke-width="3.5"/>
<line x1="583.9" y1="1918.6" x2="777.0" y2="1918.6" stroke="#000" stroke-width="3.5"/>
<line x1="578.6" y1="1599.0" x2="585.6" y2="1599.0" stroke="#000" stroke-width="3"/>
<text x="576.4" y="1608.9" font-size="27.5" font-weight="bold" text-anchor="end" fill="#000">6</text>
<line x1="578.6" y1="1652.6" x2="585.6" y2="1652.6" stroke="#000" stroke-width="3"/>
<text x="576.4" y="1662.5" font-size="27.5" font-weight="bold" text-anchor="end" fill="#000">5</text>
<line x1="578.6" y1="1706.7" x2="585.6" y2="1706.7" stroke="#000" stroke-width="3"/>
<text x="576.4" y="1716.6" font-size="27.5" font-weight="bold" text-anchor="end" fill="#000">4</text>
<line x1="578.6" y1="1759.7" x2="585.6" y2="1759.7" stroke="#000" stroke-width="3"/>
<text x="576.4" y="1769.6" font-size="27.5" font-weight="bold" text-anchor="end" fill="#000">3</text>
<line x1="578.6" y1="1812.6" x2="585.6" y2="1812.6" stroke="#000" stroke-width="3"/>
<text x="576.4" y="1822.5" font-size="27.5" font-weight="bold" text-anchor="end" fill="#000">2</text>
<line x1="578.6" y1="1865.6" x2="585.6" y2="1865.6" stroke="#000" stroke-width="3"/>
<text x="576.4" y="1875.5" font-size="27.5" font-weight="bold" text-anchor="end" fill="#000">1</text>
<line x1="578.6" y1="1918.6" x2="585.6" y2="1918.6" stroke="#000" stroke-width="3"/>
<text x="576.4" y="1928.5" font-size="27.5" font-weight="bold" text-anchor="end" fill="#000">0</text>
<text x="630.0" y="1952.3" font-size="27" font-weight="bold" text-anchor="middle" fill="#000">8</text>
<text x="735.4" y="1952.3" font-size="27" font-weight="bold" text-anchor="middle" fill="#000">18</text>
<polyline points="616.8,1607.5 616.8,1600.0 654.4,1600.0 654.4,1829.7" fill="none" stroke="#b0b0b0" stroke-width="2.5"/>
<text x="633.8" y="1607.3" font-size="48" font-weight="bold" text-anchor="middle" fill="#000">*</text>
<text x="860.9" y="1511.0" font-size="29" font-weight="bold" textLength="106.1" lengthAdjust="spacingAndGlyphs" fill="#000">MS/BS</text>
<text x="886.5" y="1552.8" font-size="29" font-weight="bold" textLength="50.9" lengthAdjust="spacingAndGlyphs" fill="#000">(%)</text>
<rect x="842.7" y="1691.3" width="25.4" height="227.3" fill="#ffffff" stroke="#2a2a2a" stroke-width="2.6"/>
<rect x="875.1" y="1641.7" width="27.5" height="276.9" fill="#c8c8c8" stroke="#2a2a2a" stroke-width="2.6"/>
<rect x="940.1" y="1737.4" width="27.1" height="181.2" fill="#ffffff" stroke="#2a2a2a" stroke-width="2.6"/>
<rect x="975.5" y="1652.3" width="26.4" height="266.3" fill="#c8c8c8" stroke="#2a2a2a" stroke-width="2.6"/>
<line x1="855.4" y1="1691.3" x2="855.4" y2="1646.8" stroke="#2a2a2a" stroke-width="2.2"/>
<line x1="846.4" y1="1646.8" x2="864.4" y2="1646.8" stroke="#2a2a2a" stroke-width="2.8"/>
<line x1="888.8" y1="1641.7" x2="888.8" y2="1607.5" stroke="#2a2a2a" stroke-width="2.2"/>
<line x1="879.8" y1="1607.5" x2="897.8" y2="1607.5" stroke="#2a2a2a" stroke-width="2.8"/>
<line x1="953.6" y1="1737.4" x2="953.6" y2="1700.7" stroke="#2a2a2a" stroke-width="2.2"/>
<line x1="944.6" y1="1700.7" x2="962.6" y2="1700.7" stroke="#2a2a2a" stroke-width="2.8"/>
<line x1="988.7" y1="1652.3" x2="988.7" y2="1592.4" stroke="#2a2a2a" stroke-width="2.2"/>
<line x1="979.7" y1="1592.4" x2="997.7" y2="1592.4" stroke="#2a2a2a" stroke-width="2.8"/>
<circle cx="855.0" cy="1738.0" r="3.2" fill="#111"/>
<circle cx="855.0" cy="1691.0" r="3.2" fill="#111"/>
<circle cx="887.5" cy="1675.2" r="3.2" fill="#111"/>
<circle cx="887.5" cy="1646.8" r="3.2" fill="#111"/>
<circle cx="887.5" cy="1607.5" r="3.2" fill="#111"/>
<circle cx="951.5" cy="1764.8" r="3.2" fill="#111"/>
<circle cx="952.8" cy="1712.0" r="3.2" fill="#111"/>
<circle cx="985.6" cy="1610.4" r="3.2" fill="#111"/>
<circle cx="991.3" cy="1695.8" r="3.2" fill="#111"/>
<line x1="821.9" y1="1558.0" x2="821.9" y2="1920.3" stroke="#000" stroke-width="3.5"/>
<line x1="820.1" y1="1918.6" x2="1012.6" y2="1918.6" stroke="#000" stroke-width="3.5"/>
<line x1="814.9" y1="1636.6" x2="821.9" y2="1636.6" stroke="#000" stroke-width="3"/>
<text x="812.3" y="1646.5" font-size="27.5" font-weight="bold" text-anchor="end" fill="#000">30</text>
<line x1="814.9" y1="1730.6" x2="821.9" y2="1730.6" stroke="#000" stroke-width="3"/>
<text x="812.3" y="1740.5" font-size="27.5" font-weight="bold" text-anchor="end" fill="#000">20</text>
<line x1="814.9" y1="1824.6" x2="821.9" y2="1824.6" stroke="#000" stroke-width="3"/>
<text x="812.3" y="1834.5" font-size="27.5" font-weight="bold" text-anchor="end" fill="#000">10</text>
<line x1="814.9" y1="1918.6" x2="821.9" y2="1918.6" stroke="#000" stroke-width="3"/>
<text x="812.3" y="1928.5" font-size="27.5" font-weight="bold" text-anchor="end" fill="#000">0</text>
<text x="865.3" y="1952.3" font-size="27" font-weight="bold" text-anchor="middle" fill="#000">8</text>
<text x="971.3" y="1952.3" font-size="27" font-weight="bold" text-anchor="middle" fill="#000">18</text>
<text x="790.8" y="1999.0" font-size="34" font-weight="bold" textLength="211.5" lengthAdjust="spacingAndGlyphs" fill="#000">Age (weeks)</text>
<text x="1124.2" y="1497.0" font-size="29" font-weight="bold" textLength="114.5" lengthAdjust="spacingAndGlyphs" fill="#000">BFR/BS</text>
<text x="1065.8" y="1544.0" font-size="29" font-weight="bold" textLength="242.7" lengthAdjust="spacingAndGlyphs" fill="#000">(µm³/µm²/day)</text>
<rect x="1095.1" y="1717.8" width="25.9" height="202.2" fill="#ffffff" stroke="#2a2a2a" stroke-width="2.6"/>
<rect x="1129.3" y="1826.0" width="27.4" height="94.0" fill="#c8c8c8" stroke="#2a2a2a" stroke-width="2.6"/>
<rect x="1193.3" y="1819.0" width="27.4" height="101.0" fill="#ffffff" stroke="#2a2a2a" stroke-width="2.6"/>
<rect x="1229.0" y="1807.5" width="27.4" height="112.5" fill="#c8c8c8" stroke="#2a2a2a" stroke-width="2.6"/>
<line x1="1108.0" y1="1717.8" x2="1108.0" y2="1578.2" stroke="#2a2a2a" stroke-width="2.2"/>
<line x1="1099.0" y1="1578.2" x2="1117.0" y2="1578.2" stroke="#2a2a2a" stroke-width="2.8"/>
<line x1="1143.0" y1="1826.0" x2="1143.0" y2="1811.8" stroke="#2a2a2a" stroke-width="2.2"/>
<line x1="1134.0" y1="1811.8" x2="1152.0" y2="1811.8" stroke="#2a2a2a" stroke-width="2.8"/>
<line x1="1207.0" y1="1819.0" x2="1207.0" y2="1789.0" stroke="#2a2a2a" stroke-width="2.2"/>
<line x1="1198.0" y1="1789.0" x2="1216.0" y2="1789.0" stroke="#2a2a2a" stroke-width="2.8"/>
<line x1="1242.7" y1="1807.5" x2="1242.7" y2="1769.0" stroke="#2a2a2a" stroke-width="2.2"/>
<line x1="1233.7" y1="1769.0" x2="1251.7" y2="1769.0" stroke="#2a2a2a" stroke-width="2.8"/>
<circle cx="1108.0" cy="1563.0" r="3.2" fill="#111"/>
<circle cx="1106.7" cy="1754.0" r="3.2" fill="#111"/>
<circle cx="1108.7" cy="1836.0" r="3.2" fill="#111"/>
<circle cx="1141.4" cy="1837.4" r="3.2" fill="#111"/>
<circle cx="1141.4" cy="1813.0" r="3.2" fill="#111"/>
<circle cx="1206.4" cy="1798.4" r="3.2" fill="#111"/>
<circle cx="1206.4" cy="1840.3" r="3.2" fill="#111"/>
<circle cx="1240.6" cy="1779.6" r="3.2" fill="#111"/>
<circle cx="1245.4" cy="1834.6" r="3.2" fill="#111"/>
<line x1="1075.3" y1="1558.2" x2="1075.3" y2="1921.8" stroke="#000" stroke-width="3.5"/>
<line x1="1073.5" y1="1920.0" x2="1267.0" y2="1920.0" stroke="#000" stroke-width="3.5"/>
<line x1="1068.3" y1="1658.0" x2="1075.3" y2="1658.0" stroke="#000" stroke-width="3"/>
<text x="1065.4" y="1667.7" font-size="27" font-weight="bold" text-anchor="end" fill="#000">1.0</text>
<line x1="1068.3" y1="1788.1" x2="1075.3" y2="1788.1" stroke="#000" stroke-width="3"/>
<text x="1065.4" y="1797.8" font-size="27" font-weight="bold" text-anchor="end" fill="#000">0.5</text>
<line x1="1068.3" y1="1920.0" x2="1075.3" y2="1920.0" stroke="#000" stroke-width="3"/>
<text x="1065.4" y="1929.7" font-size="27" font-weight="bold" text-anchor="end" fill="#000">0.0</text>
<text x="1119.0" y="1953.4" font-size="27" font-weight="bold" text-anchor="middle" fill="#000">8</text>
<text x="1224.3" y="1953.4" font-size="27" font-weight="bold" text-anchor="middle" fill="#000">18</text>
<text x="1410.4" y="1492.4" font-size="29" font-weight="bold" textLength="164.2" lengthAdjust="spacingAndGlyphs" fill="#000">TRAP.S/BS</text>
<text x="1458.0" y="1536.7" font-size="29" font-weight="bold" textLength="51.0" lengthAdjust="spacingAndGlyphs" fill="#000">(%)</text>
<rect x="1383.2" y="1804.3" width="29.5" height="107.5" fill="#ffffff" stroke="#2a2a2a" stroke-width="2.6"/>
<rect x="1422.5" y="1711.3" width="27.9" height="200.5" fill="#c8c8c8" stroke="#2a2a2a" stroke-width="2.6"/>
<rect x="1491.3" y="1780.8" width="27.9" height="131.0" fill="#ffffff" stroke="#2a2a2a" stroke-width="2.6"/>
<rect x="1529.7" y="1705.4" width="27.8" height="206.4" fill="#c8c8c8" stroke="#2a2a2a" stroke-width="2.6"/>
<rect x="1599.5" y="1807.6" width="27.8" height="104.2" fill="#ffffff" stroke="#2a2a2a" stroke-width="2.6"/>
<rect x="1637.1" y="1661.2" width="27.6" height="250.6" fill="#c8c8c8" stroke="#2a2a2a" stroke-width="2.6"/>
<line x1="1398.0" y1="1804.3" x2="1398.0" y2="1770.3" stroke="#2a2a2a" stroke-width="2.2"/>
<line x1="1389.0" y1="1770.3" x2="1407.0" y2="1770.3" stroke="#2a2a2a" stroke-width="2.8"/>
<line x1="1436.5" y1="1711.3" x2="1436.5" y2="1644.1" stroke="#2a2a2a" stroke-width="2.2"/>
<line x1="1427.5" y1="1644.1" x2="1445.5" y2="1644.1" stroke="#2a2a2a" stroke-width="2.8"/>
<line x1="1505.3" y1="1780.8" x2="1505.3" y2="1691.6" stroke="#2a2a2a" stroke-width="2.2"/>
<line x1="1496.3" y1="1691.6" x2="1514.3" y2="1691.6" stroke="#2a2a2a" stroke-width="2.8"/>
<line x1="1543.6" y1="1705.4" x2="1543.6" y2="1601.5" stroke="#2a2a2a" stroke-width="2.2"/>
<line x1="1534.6" y1="1601.5" x2="1552.6" y2="1601.5" stroke="#2a2a2a" stroke-width="2.8"/>
<line x1="1613.4" y1="1807.6" x2="1613.4" y2="1794.5" stroke="#2a2a2a" stroke-width="2.2"/>
<line x1="1604.4" y1="1794.5" x2="1622.4" y2="1794.5" stroke="#2a2a2a" stroke-width="2.8"/>
<line x1="1651.0" y1="1661.2" x2="1651.0" y2="1598.9" stroke="#2a2a2a" stroke-width="2.2"/>
<line x1="1642.0" y1="1598.9" x2="1660.0" y2="1598.9" stroke="#2a2a2a" stroke-width="2.8"/>
<circle cx="1396.7" cy="1782.4" r="3.2" fill="#111"/>
<circle cx="1396.7" cy="1820.0" r="3.2" fill="#111"/>
<circle cx="1398.3" cy="1860.4" r="3.2" fill="#111"/>
<circle cx="1435.0" cy="1618.6" r="3.2" fill="#111"/>
<circle cx="1437.6" cy="1654.6" r="3.2" fill="#111"/>
<circle cx="1433.7" cy="1679.8" r="3.2" fill="#111"/>
<circle cx="1434.3" cy="1700.5" r="3.2" fill="#111"/>
<circle cx="1432.7" cy="1746.4" r="3.2" fill="#111"/>
<circle cx="1437.0" cy="1772.6" r="3.2" fill="#111"/>
<circle cx="1435.0" cy="1802.0" r="3.2" fill="#111"/>
<circle cx="1505.8" cy="1664.4" r="3.2" fill="#111"/>
<circle cx="1505.8" cy="1737.5" r="3.2" fill="#111"/>
<circle cx="1503.1" cy="1775.8" r="3.2" fill="#111"/>
<circle cx="1508.0" cy="1888.9" r="3.2" fill="#111"/>
<circle cx="1543.1" cy="1581.5" r="3.2" fill="#111"/>
<circle cx="1543.1" cy="1590.0" r="3.2" fill="#111"/>
<circle cx="1540.8" cy="1644.8" r="3.2" fill="#111"/>
<circle cx="1542.5" cy="1783.4" r="3.2" fill="#111"/>
<circle cx="1542.5" cy="1797.1" r="3.2" fill="#111"/>
<circle cx="1543.0" cy="1836.5" r="3.2" fill="#111"/>
<circle cx="1614.5" cy="1789.0" r="3.2" fill="#111"/>
<circle cx="1609.6" cy="1816.8" r="3.2" fill="#111"/>
<circle cx="1650.0" cy="1605.5" r="3.2" fill="#111"/>
<circle cx="1645.7" cy="1628.4" r="3.2" fill="#111"/>
<circle cx="1652.2" cy="1662.8" r="3.2" fill="#111"/>
<circle cx="1651.2" cy="1748.0" r="3.2" fill="#111"/>
<line x1="1362.9" y1="1514.7" x2="1362.9" y2="1913.5" stroke="#000" stroke-width="3.5"/>
<line x1="1361.2" y1="1911.8" x2="1686.6" y2="1911.8" stroke="#000" stroke-width="3.5"/>
<line x1="1355.9" y1="1638.2" x2="1362.9" y2="1638.2" stroke="#000" stroke-width="3"/>
<text x="1352.4" y="1648.5" font-size="28.5" font-weight="bold" text-anchor="end" fill="#000">20</text>
<line x1="1355.9" y1="1774.9" x2="1362.9" y2="1774.9" stroke="#000" stroke-width="3"/>
<text x="1352.4" y="1785.2" font-size="28.5" font-weight="bold" text-anchor="end" fill="#000">10</text>
<line x1="1355.9" y1="1911.8" x2="1362.9" y2="1911.8" stroke="#000" stroke-width="3"/>
<text x="1352.4" y="1922.1" font-size="28.5" font-weight="bold" text-anchor="end" fill="#000">0</text>
<text x="1410.7" y="1946.1" font-size="27" font-weight="bold" text-anchor="middle" fill="#000">8</text>
<text x="1525.4" y="1946.1" font-size="27" font-weight="bold" text-anchor="middle" fill="#000">18</text>
<text x="1626.0" y="1946.1" font-size="27" font-weight="bold" text-anchor="middle" fill="#000">41</text>
<text x="1403.8" y="1990.5" font-size="34" font-weight="bold" textLength="213.4" lengthAdjust="spacingAndGlyphs" fill="#000">Age (weeks)</text>
<polyline points="1398.3,1743.0 1398.3,1577.6 1436.0,1577.6 1436.0,1597.3" fill="none" stroke="#b0b0b0" stroke-width="2.5"/>
<polyline points="1615.2,1767.7 1615.2,1571.0 1653.2,1571.0 1653.2,1590.7" fill="none" stroke="#b0b0b0" stroke-width="2.5"/>
<text x="1416.3" y="1576.7" font-size="48" font-weight="bold" text-anchor="middle" fill="#000">*</text>
<text x="1632.6" y="1571.8" font-size="48" font-weight="bold" text-anchor="middle" fill="#000">*</text>
<text x="182.8" y="2427.8" font-size="29" font-weight="bold" textLength="290.4" lengthAdjust="spacingAndGlyphs" fill="#000">Kyphotic Index (KI)</text>
<rect x="244.0" y="2734.2" width="30.3" height="174.3" fill="#ffffff" stroke="#2a2a2a" stroke-width="2.6"/>
<rect x="287.6" y="2712.0" width="29.5" height="196.5" fill="#c8c8c8" stroke="#2a2a2a" stroke-width="2.6"/>
<rect x="364.5" y="2728.2" width="30.4" height="180.3" fill="#ffffff" stroke="#2a2a2a" stroke-width="2.6"/>
<rect x="406.4" y="2690.6" width="30.3" height="217.9" fill="#c8c8c8" stroke="#2a2a2a" stroke-width="2.6"/>
<rect x="484.2" y="2739.7" width="30.7" height="168.8" fill="#ffffff" stroke="#2a2a2a" stroke-width="2.6"/>
<rect x="526.9" y="2639.3" width="29.5" height="269.2" fill="#c8c8c8" stroke="#2a2a2a" stroke-width="2.6"/>
<line x1="259.2" y1="2734.2" x2="259.2" y2="2707.7" stroke="#2a2a2a" stroke-width="2.2"/>
<line x1="250.2" y1="2707.7" x2="268.2" y2="2707.7" stroke="#2a2a2a" stroke-width="2.8"/>
<line x1="302.4" y1="2712.0" x2="302.4" y2="2692.7" stroke="#2a2a2a" stroke-width="2.2"/>
<line x1="293.4" y1="2692.7" x2="311.4" y2="2692.7" stroke="#2a2a2a" stroke-width="2.8"/>
<line x1="379.7" y1="2728.2" x2="379.7" y2="2703.4" stroke="#2a2a2a" stroke-width="2.2"/>
<line x1="370.7" y1="2703.4" x2="388.7" y2="2703.4" stroke="#2a2a2a" stroke-width="2.8"/>
<line x1="421.6" y1="2690.6" x2="421.6" y2="2665.0" stroke="#2a2a2a" stroke-width="2.2"/>
<line x1="412.6" y1="2665.0" x2="430.6" y2="2665.0" stroke="#2a2a2a" stroke-width="2.8"/>
<line x1="499.6" y1="2739.7" x2="499.6" y2="2718.4" stroke="#2a2a2a" stroke-width="2.2"/>
<line x1="490.6" y1="2718.4" x2="508.6" y2="2718.4" stroke="#2a2a2a" stroke-width="2.8"/>
<line x1="541.7" y1="2639.3" x2="541.7" y2="2600.9" stroke="#2a2a2a" stroke-width="2.2"/>
<line x1="532.7" y1="2600.9" x2="550.7" y2="2600.9" stroke="#2a2a2a" stroke-width="2.8"/>
<circle cx="256.4" cy="2697.0" r="3.2" fill="#111"/>
<circle cx="258.5" cy="2741.9" r="3.2" fill="#111"/>
<circle cx="258.5" cy="2754.7" r="3.2" fill="#111"/>
<circle cx="299.1" cy="2695.7" r="3.2" fill="#111"/>
<circle cx="301.3" cy="2732.5" r="3.2" fill="#111"/>
<circle cx="378.2" cy="2704.3" r="3.2" fill="#111"/>
<circle cx="376.0" cy="2756.8" r="3.2" fill="#111"/>
<circle cx="421.8" cy="2657.3" r="3.2" fill="#111"/>
<circle cx="423.0" cy="2687.2" r="3.2" fill="#111"/>
<circle cx="421.0" cy="2701.3" r="3.2" fill="#111"/>
<circle cx="423.0" cy="2719.7" r="3.2" fill="#111"/>
<circle cx="500.9" cy="2712.0" r="3.2" fill="#111"/>
<circle cx="496.6" cy="2741.9" r="3.2" fill="#111"/>
<circle cx="500.9" cy="2759.0" r="3.2" fill="#111"/>
<circle cx="541.9" cy="2588.0" r="3.2" fill="#111"/>
<circle cx="541.9" cy="2638.5" r="3.2" fill="#111"/>
<circle cx="540.6" cy="2658.5" r="3.2" fill="#111"/>
<circle cx="540.6" cy="2673.5" r="3.2" fill="#111"/>
<line x1="221.0" y1="2459.8" x2="221.0" y2="2910.2" stroke="#000" stroke-width="3.5"/>
<line x1="219.2" y1="2908.5" x2="582.0" y2="2908.5" stroke="#000" stroke-width="3.5"/>
<line x1="214.0" y1="2564.5" x2="221.0" y2="2564.5" stroke="#000" stroke-width="3"/>
<text x="209.4" y="2576.2" font-size="32.5" font-weight="bold" text-anchor="end" fill="#000">0.3</text>
<line x1="214.0" y1="2678.6" x2="221.0" y2="2678.6" stroke="#000" stroke-width="3"/>
<text x="209.4" y="2690.3" font-size="32.5" font-weight="bold" text-anchor="end" fill="#000">0.2</text>
<line x1="214.0" y1="2793.2" x2="221.0" y2="2793.2" stroke="#000" stroke-width="3"/>
<text x="209.4" y="2804.9" font-size="32.5" font-weight="bold" text-anchor="end" fill="#000">0.1</text>
<line x1="214.0" y1="2908.5" x2="221.0" y2="2908.5" stroke="#000" stroke-width="3"/>
<text x="209.4" y="2920.2" font-size="32.5" font-weight="bold" text-anchor="end" fill="#000">0.0</text>
<text x="272.6" y="2947.5" font-size="27.5" font-weight="bold" text-anchor="middle" fill="#000">8</text>
<text x="400.9" y="2947.5" font-size="27.5" font-weight="bold" text-anchor="middle" fill="#000">18</text>
<text x="520.5" y="2947.5" font-size="27.5" font-weight="bold" text-anchor="middle" fill="#000">28</text>
<text x="281.0" y="3009.0" font-size="34" font-weight="bold" textLength="213.6" lengthAdjust="spacingAndGlyphs" fill="#000">Age (weeks)</text>
<polyline points="502.1,2660.7 502.1,2501.3 541.9,2501.3 541.9,2532.5" fill="none" stroke="#b0b0b0" stroke-width="2.5"/>
<text x="519.2" y="2502.3" font-size="48" font-weight="bold" text-anchor="middle" fill="#000">*</text>
<text x="259.8" y="2675.2" font-size="26" font-weight="bold" text-anchor="middle" fill="#000">A</text>
<text x="299.1" y="2662.4" font-size="26" font-weight="bold" text-anchor="middle" fill="#000">a</text>
<text x="379.5" y="2689.4" font-size="26" font-weight="bold" text-anchor="middle" fill="#000">A</text>
<text x="421.0" y="2633.8" font-size="26" font-weight="bold" text-anchor="middle" fill="#000">ab</text>
<text x="503.4" y="2697.9" font-size="26" font-weight="bold" text-anchor="middle" fill="#000">A</text>
<text x="541.9" y="2570.9" font-size="26" font-weight="bold" text-anchor="middle" fill="#000">b</text>
<text x="694.7" y="2438.9" font-size="29" font-weight="bold" textLength="206.5" lengthAdjust="spacingAndGlyphs" fill="#000">Tb.BV/TV (%)</text>
<rect x="679.3" y="2624.3" width="31.0" height="287.9" fill="#ffffff" stroke="#2a2a2a" stroke-width="2.6"/>
<rect x="722.6" y="2739.1" width="29.6" height="173.1" fill="#c8c8c8" stroke="#2a2a2a" stroke-width="2.6"/>
<rect x="799.9" y="2693.7" width="31.4" height="218.5" fill="#ffffff" stroke="#2a2a2a" stroke-width="2.6"/>
<rect x="844.0" y="2764.3" width="29.7" height="147.9" fill="#c8c8c8" stroke="#2a2a2a" stroke-width="2.6"/>
<line x1="694.8" y1="2624.3" x2="694.8" y2="2576.6" stroke="#2a2a2a" stroke-width="2.2"/>
<line x1="685.8" y1="2576.6" x2="703.8" y2="2576.6" stroke="#2a2a2a" stroke-width="2.8"/>
<line x1="737.4" y1="2739.1" x2="737.4" y2="2723.7" stroke="#2a2a2a" stroke-width="2.2"/>
<line x1="728.4" y1="2723.7" x2="746.4" y2="2723.7" stroke="#2a2a2a" stroke-width="2.8"/>
<line x1="815.6" y1="2693.7" x2="815.6" y2="2681.7" stroke="#2a2a2a" stroke-width="2.2"/>
<line x1="806.6" y1="2681.7" x2="824.6" y2="2681.7" stroke="#2a2a2a" stroke-width="2.8"/>
<line x1="858.9" y1="2764.3" x2="858.9" y2="2742.2" stroke="#2a2a2a" stroke-width="2.2"/>
<line x1="849.9" y1="2742.2" x2="867.9" y2="2742.2" stroke="#2a2a2a" stroke-width="2.8"/>
<circle cx="694.8" cy="2570.0" r="3.2" fill="#111"/>
<circle cx="694.8" cy="2616.4" r="3.2" fill="#111"/>
<circle cx="694.8" cy="2629.6" r="3.2" fill="#111"/>
<circle cx="695.7" cy="2684.8" r="3.2" fill="#111"/>
<circle cx="734.6" cy="2710.0" r="3.2" fill="#111"/>
<circle cx="734.6" cy="2729.0" r="3.2" fill="#111"/>
<circle cx="734.6" cy="2740.0" r="3.2" fill="#111"/>
<circle cx="738.1" cy="2748.9" r="3.2" fill="#111"/>
<circle cx="732.4" cy="2735.6" r="3.2" fill="#111"/>
<circle cx="814.9" cy="2689.2" r="3.2" fill="#111"/>
<circle cx="814.9" cy="2709.1" r="3.2" fill="#111"/>
<circle cx="856.0" cy="2740.0" r="3.2" fill="#111"/>
<circle cx="856.0" cy="2753.3" r="3.2" fill="#111"/>
<circle cx="856.0" cy="2766.5" r="3.2" fill="#111"/>
<circle cx="854.7" cy="2777.6" r="3.2" fill="#111"/>
<circle cx="853.8" cy="2793.0" r="3.2" fill="#111"/>
<line x1="652.9" y1="2459.6" x2="652.9" y2="2913.9" stroke="#000" stroke-width="3.5"/>
<line x1="651.1" y1="2912.2" x2="895.7" y2="2912.2" stroke="#000" stroke-width="3.5"/>
<line x1="645.9" y1="2523.6" x2="652.9" y2="2523.6" stroke="#000" stroke-width="3"/>
<text x="641.8" y="2535.5" font-size="33" font-weight="bold" text-anchor="end" fill="#000">25</text>
<line x1="645.9" y1="2600.9" x2="652.9" y2="2600.9" stroke="#000" stroke-width="3"/>
<text x="641.8" y="2612.8" font-size="33" font-weight="bold" text-anchor="end" fill="#000">20</text>
<line x1="645.9" y1="2679.0" x2="652.9" y2="2679.0" stroke="#000" stroke-width="3"/>
<text x="641.8" y="2690.9" font-size="33" font-weight="bold" text-anchor="end" fill="#000">15</text>
<line x1="645.9" y1="2756.8" x2="652.9" y2="2756.8" stroke="#000" stroke-width="3"/>
<text x="641.8" y="2768.7" font-size="33" font-weight="bold" text-anchor="end" fill="#000">10</text>
<line x1="645.9" y1="2835.0" x2="652.9" y2="2835.0" stroke="#000" stroke-width="3"/>
<text x="641.8" y="2846.9" font-size="33" font-weight="bold" text-anchor="end" fill="#000">5</text>
<line x1="645.9" y1="2912.2" x2="652.9" y2="2912.2" stroke="#000" stroke-width="3"/>
<text x="641.8" y="2924.1" font-size="33" font-weight="bold" text-anchor="end" fill="#000">0</text>
<text x="708.0" y="2952.2" font-size="31" font-weight="bold" text-anchor="middle" fill="#000">8</text>
<text x="835.2" y="2952.2" font-size="31" font-weight="bold" text-anchor="middle" fill="#000">28</text>
<text x="685.0" y="3008.5" font-size="34" font-weight="bold" textLength="213.0" lengthAdjust="spacingAndGlyphs" fill="#000">Age (weeks)</text>
<text x="695.7" y="2548.5" font-size="26" font-weight="bold" text-anchor="middle" fill="#000">A</text>
<text x="738.1" y="2692.9" font-size="26" font-weight="bold" text-anchor="middle" fill="#000">BC</text>
<text x="816.3" y="2666.9" font-size="26" font-weight="bold" text-anchor="middle" fill="#000">B</text>
<text x="859.1" y="2722.9" font-size="26" font-weight="bold" text-anchor="middle" fill="#000">C</text>
<text x="980.9" y="2438.9" font-size="29" font-weight="bold" textLength="200.7" lengthAdjust="spacingAndGlyphs" fill="#000">Tb.N (1/mm)</text>
<rect x="973.0" y="2561.2" width="31.0" height="351.0" fill="#ffffff" stroke="#2a2a2a" stroke-width="2.6"/>
<rect x="1016.3" y="2627.4" width="29.6" height="284.8" fill="#c8c8c8" stroke="#2a2a2a" stroke-width="2.6"/>
<rect x="1094.9" y="2617.7" width="31.4" height="294.5" fill="#ffffff" stroke="#2a2a2a" stroke-width="2.6"/>
<rect x="1137.7" y="2699.4" width="29.6" height="212.8" fill="#c8c8c8" stroke="#2a2a2a" stroke-width="2.6"/>
<line x1="988.5" y1="2561.2" x2="988.5" y2="2539.1" stroke="#2a2a2a" stroke-width="2.2"/>
<line x1="979.5" y1="2539.1" x2="997.5" y2="2539.1" stroke="#2a2a2a" stroke-width="2.8"/>
<line x1="1031.1" y1="2627.4" x2="1031.1" y2="2608.4" stroke="#2a2a2a" stroke-width="2.2"/>
<line x1="1022.1" y1="2608.4" x2="1040.1" y2="2608.4" stroke="#2a2a2a" stroke-width="2.8"/>
<line x1="1110.6" y1="2617.7" x2="1110.6" y2="2607.5" stroke="#2a2a2a" stroke-width="2.2"/>
<line x1="1101.6" y1="2607.5" x2="1119.6" y2="2607.5" stroke="#2a2a2a" stroke-width="2.8"/>
<line x1="1152.5" y1="2699.4" x2="1152.5" y2="2670.3" stroke="#2a2a2a" stroke-width="2.2"/>
<line x1="1143.5" y1="2670.3" x2="1161.5" y2="2670.3" stroke="#2a2a2a" stroke-width="2.8"/>
<circle cx="986.3" cy="2550.0" r="3.2" fill="#111"/>
<circle cx="986.3" cy="2561.2" r="3.2" fill="#111"/>
<circle cx="988.5" cy="2589.0" r="3.2" fill="#111"/>
<circle cx="1029.5" cy="2601.0" r="3.2" fill="#111"/>
<circle cx="1029.5" cy="2625.2" r="3.2" fill="#111"/>
<circle cx="1031.3" cy="2629.6" r="3.2" fill="#111"/>
<circle cx="1032.6" cy="2655.2" r="3.2" fill="#111"/>
<circle cx="1109.0" cy="2607.5" r="3.2" fill="#111"/>
<circle cx="1109.0" cy="2623.0" r="3.2" fill="#111"/>
<circle cx="1151.9" cy="2661.9" r="3.2" fill="#111"/>
<circle cx="1156.3" cy="2693.7" r="3.2" fill="#111"/>
<circle cx="1149.7" cy="2713.5" r="3.2" fill="#111"/>
<circle cx="1151.9" cy="2726.8" r="3.2" fill="#111"/>
<line x1="948.7" y1="2459.6" x2="948.7" y2="2913.9" stroke="#000" stroke-width="3.5"/>
<line x1="947.0" y1="2912.2" x2="1196.0" y2="2912.2" stroke="#000" stroke-width="3.5"/>
<line x1="941.7" y1="2519.2" x2="948.7" y2="2519.2" stroke="#000" stroke-width="3"/>
<text x="937.7" y="2531.1" font-size="33" font-weight="bold" text-anchor="end" fill="#000">6</text>
<line x1="941.7" y1="2650.8" x2="948.7" y2="2650.8" stroke="#000" stroke-width="3"/>
<text x="937.7" y="2662.7" font-size="33" font-weight="bold" text-anchor="end" fill="#000">4</text>
<line x1="941.7" y1="2782.0" x2="948.7" y2="2782.0" stroke="#000" stroke-width="3"/>
<text x="937.7" y="2793.9" font-size="33" font-weight="bold" text-anchor="end" fill="#000">2</text>
<line x1="941.7" y1="2912.2" x2="948.7" y2="2912.2" stroke="#000" stroke-width="3"/>
<text x="937.7" y="2924.1" font-size="33" font-weight="bold" text-anchor="end" fill="#000">0</text>
<text x="1001.7" y="2952.5" font-size="32" font-weight="bold" text-anchor="middle" fill="#000">8</text>
<text x="1128.5" y="2952.5" font-size="32" font-weight="bold" text-anchor="middle" fill="#000">28</text>
<text x="976.4" y="3011.6" font-size="34" font-weight="bold" textLength="211.8" lengthAdjust="spacingAndGlyphs" fill="#000">Age (weeks)</text>
<text x="988.5" y="2522.0" font-size="26" font-weight="bold" text-anchor="middle" fill="#000">A</text>
<text x="1032.6" y="2585.2" font-size="26" font-weight="bold" text-anchor="middle" fill="#000">B</text>
<text x="1110.0" y="2587.4" font-size="26" font-weight="bold" text-anchor="middle" fill="#000">B</text>
<text x="1154.0" y="2649.2" font-size="26" font-weight="bold" text-anchor="middle" fill="#000">C</text>
<text x="1352.0" y="2440.3" font-size="29" font-weight="bold" textLength="179.0" lengthAdjust="spacingAndGlyphs" fill="#000">Tb.Th (mm)</text>
<rect x="1325.3" y="2619.1" width="30.6" height="288.4" fill="#ffffff" stroke="#2a2a2a" stroke-width="2.6"/>
<rect x="1368.3" y="2663.2" width="29.4" height="244.3" fill="#c8c8c8" stroke="#2a2a2a" stroke-width="2.6"/>
<rect x="1445.5" y="2644.4" width="31.2" height="263.1" fill="#ffffff" stroke="#2a2a2a" stroke-width="2.6"/>
<rect x="1488.5" y="2632.5" width="31.2" height="275.0" fill="#c8c8c8" stroke="#2a2a2a" stroke-width="2.6"/>
<line x1="1340.6" y1="2619.1" x2="1340.6" y2="2581.5" stroke="#2a2a2a" stroke-width="2.2"/>
<line x1="1331.6" y1="2581.5" x2="1349.6" y2="2581.5" stroke="#2a2a2a" stroke-width="2.8"/>
<line x1="1383.0" y1="2663.2" x2="1383.0" y2="2648.1" stroke="#2a2a2a" stroke-width="2.2"/>
<line x1="1374.0" y1="2648.1" x2="1392.0" y2="2648.1" stroke="#2a2a2a" stroke-width="2.8"/>
<line x1="1461.1" y1="2644.4" x2="1461.1" y2="2631.0" stroke="#2a2a2a" stroke-width="2.2"/>
<line x1="1452.1" y1="2631.0" x2="1470.1" y2="2631.0" stroke="#2a2a2a" stroke-width="2.8"/>
<line x1="1504.1" y1="2632.5" x2="1504.1" y2="2609.5" stroke="#2a2a2a" stroke-width="2.2"/>
<line x1="1495.1" y1="2609.5" x2="1513.1" y2="2609.5" stroke="#2a2a2a" stroke-width="2.8"/>
<circle cx="1340.0" cy="2574.5" r="3.2" fill="#111"/>
<circle cx="1340.0" cy="2609.5" r="3.2" fill="#111"/>
<circle cx="1340.0" cy="2620.2" r="3.2" fill="#111"/>
<circle cx="1341.1" cy="2668.5" r="3.2" fill="#111"/>
<circle cx="1381.4" cy="2648.0" r="3.2" fill="#111"/>
<circle cx="1381.4" cy="2655.0" r="3.2" fill="#111"/>
<circle cx="1381.4" cy="2663.0" r="3.2" fill="#111"/>
<circle cx="1379.8" cy="2679.3" r="3.2" fill="#111"/>
<circle cx="1460.3" cy="2639.0" r="3.2" fill="#111"/>
<circle cx="1460.3" cy="2662.0" r="3.2" fill="#111"/>
<circle cx="1501.2" cy="2606.8" r="3.2" fill="#111"/>
<circle cx="1501.0" cy="2620.0" r="3.2" fill="#111"/>
<circle cx="1508.7" cy="2646.0" r="3.2" fill="#111"/>
<circle cx="1501.2" cy="2665.8" r="3.2" fill="#111"/>
<line x1="1302.4" y1="2458.0" x2="1302.4" y2="2909.2" stroke="#000" stroke-width="3.5"/>
<line x1="1300.7" y1="2907.5" x2="1553.3" y2="2907.5" stroke="#000" stroke-width="3.5"/>
<line x1="1295.4" y1="2526.2" x2="1302.4" y2="2526.2" stroke="#000" stroke-width="3"/>
<text x="1287.4" y="2538.1" font-size="33" font-weight="bold" text-anchor="end" fill="#000">0.05</text>
<line x1="1295.4" y1="2603.0" x2="1302.4" y2="2603.0" stroke="#000" stroke-width="3"/>
<text x="1287.4" y="2614.9" font-size="33" font-weight="bold" text-anchor="end" fill="#000">0.04</text>
<line x1="1295.4" y1="2679.3" x2="1302.4" y2="2679.3" stroke="#000" stroke-width="3"/>
<text x="1287.4" y="2691.2" font-size="33" font-weight="bold" text-anchor="end" fill="#000">0.03</text>
<line x1="1295.4" y1="2755.5" x2="1302.4" y2="2755.5" stroke="#000" stroke-width="3"/>
<text x="1287.4" y="2767.4" font-size="33" font-weight="bold" text-anchor="end" fill="#000">0.02</text>
<line x1="1295.4" y1="2832.3" x2="1302.4" y2="2832.3" stroke="#000" stroke-width="3"/>
<text x="1287.4" y="2844.2" font-size="33" font-weight="bold" text-anchor="end" fill="#000">0.01</text>
<line x1="1295.4" y1="2907.5" x2="1302.4" y2="2907.5" stroke="#000" stroke-width="3"/>
<text x="1287.4" y="2919.4" font-size="33" font-weight="bold" text-anchor="end" fill="#000">0.00</text>
<text x="1353.0" y="2949.2" font-size="34" font-weight="bold" text-anchor="middle" fill="#000">8</text>
<text x="1481.8" y="2949.2" font-size="34" font-weight="bold" text-anchor="middle" fill="#000">28</text>
<text x="1336.0" y="3019.5" font-size="34" font-weight="bold" textLength="212.6" lengthAdjust="spacingAndGlyphs" fill="#000">Age (weeks)</text>
<text x="1341.1" y="2550.1" font-size="26" font-weight="bold" text-anchor="middle" fill="#000">A</text>
<text x="1385.2" y="2628.5" font-size="26" font-weight="bold" text-anchor="middle" fill="#000">B</text>
<text x="1462.0" y="2610.8" font-size="26" font-weight="bold" text-anchor="middle" fill="#000">AB</text>
<text x="1506.5" y="2573.2" font-size="26" font-weight="bold" text-anchor="middle" fill="#000">AB</text>
<text x="1672.0" y="2436.5" font-size="29" font-weight="bold" textLength="179.2" lengthAdjust="spacingAndGlyphs" fill="#000">Tb.Sp (mm)</text>
<rect x="1660.9" y="2698.0" width="30.7" height="208.0" fill="#ffffff" stroke="#2a2a2a" stroke-width="2.6"/>
<rect x="1703.3" y="2648.0" width="31.3" height="258.0" fill="#c8c8c8" stroke="#2a2a2a" stroke-width="2.6"/>
<rect x="1782.8" y="2660.5" width="31.2" height="245.5" fill="#ffffff" stroke="#2a2a2a" stroke-width="2.6"/>
<rect x="1825.8" y="2555.7" width="30.7" height="350.3" fill="#c8c8c8" stroke="#2a2a2a" stroke-width="2.6"/>
<line x1="1676.3" y1="2698.0" x2="1676.3" y2="2684.6" stroke="#2a2a2a" stroke-width="2.2"/>
<line x1="1667.3" y1="2684.6" x2="1685.3" y2="2684.6" stroke="#2a2a2a" stroke-width="2.8"/>
<line x1="1719.0" y1="2648.0" x2="1719.0" y2="2631.0" stroke="#2a2a2a" stroke-width="2.2"/>
<line x1="1710.0" y1="2631.0" x2="1728.0" y2="2631.0" stroke="#2a2a2a" stroke-width="2.8"/>
<line x1="1798.4" y1="2660.5" x2="1798.4" y2="2652.4" stroke="#2a2a2a" stroke-width="2.2"/>
<line x1="1789.4" y1="2652.4" x2="1807.4" y2="2652.4" stroke="#2a2a2a" stroke-width="2.8"/>
<line x1="1841.2" y1="2555.7" x2="1841.2" y2="2507.4" stroke="#2a2a2a" stroke-width="2.2"/>
<line x1="1832.2" y1="2507.4" x2="1850.2" y2="2507.4" stroke="#2a2a2a" stroke-width="2.8"/>
<circle cx="1675.2" cy="2678.2" r="3.2" fill="#111"/>
<circle cx="1675.2" cy="2698.0" r="3.2" fill="#111"/>
<circle cx="1676.8" cy="2708.8" r="3.2" fill="#111"/>
<circle cx="1719.7" cy="2617.5" r="3.2" fill="#111"/>
<circle cx="1718.1" cy="2652.4" r="3.2" fill="#111"/>
<circle cx="1717.0" cy="2672.8" r="3.2" fill="#111"/>
<circle cx="1719.7" cy="2663.2" r="3.2" fill="#111"/>
<circle cx="1797.6" cy="2656.7" r="3.2" fill="#111"/>
<circle cx="1797.6" cy="2668.5" r="3.2" fill="#111"/>
<circle cx="1839.5" cy="2506.3" r="3.2" fill="#111"/>
<circle cx="1839.5" cy="2533.2" r="3.2" fill="#111"/>
<circle cx="1846.0" cy="2567.6" r="3.2" fill="#111"/>
<circle cx="1840.6" cy="2603.0" r="3.2" fill="#111"/>
<circle cx="1837.9" cy="2617.5" r="3.2" fill="#111"/>
<line x1="1636.5" y1="2456.4" x2="1636.5" y2="2907.8" stroke="#000" stroke-width="3.5"/>
<line x1="1634.8" y1="2906.0" x2="1882.5" y2="2906.0" stroke="#000" stroke-width="3.5"/>
<line x1="1629.5" y1="2560.0" x2="1636.5" y2="2560.0" stroke="#000" stroke-width="3"/>
<text x="1621.5" y="2571.9" font-size="33" font-weight="bold" text-anchor="end" fill="#000">0.3</text>
<line x1="1629.5" y1="2676.6" x2="1636.5" y2="2676.6" stroke="#000" stroke-width="3"/>
<text x="1621.5" y="2688.5" font-size="33" font-weight="bold" text-anchor="end" fill="#000">0.2</text>
<line x1="1629.5" y1="2791.0" x2="1636.5" y2="2791.0" stroke="#000" stroke-width="3"/>
<text x="1621.5" y="2802.9" font-size="33" font-weight="bold" text-anchor="end" fill="#000">0.1</text>
<line x1="1629.5" y1="2906.0" x2="1636.5" y2="2906.0" stroke="#000" stroke-width="3"/>
<text x="1621.5" y="2917.9" font-size="33" font-weight="bold" text-anchor="end" fill="#000">0.0</text>
<text x="1690.2" y="2948.6" font-size="35" font-weight="bold" text-anchor="middle" fill="#000">8</text>
<text x="1819.1" y="2948.6" font-size="35" font-weight="bold" text-anchor="middle" fill="#000">28</text>
<text x="1652.7" y="3017.4" font-size="34" font-weight="bold" textLength="213.3" lengthAdjust="spacingAndGlyphs" fill="#000">Age (weeks)</text>
<text x="1676.8" y="2655.4" font-size="26" font-weight="bold" text-anchor="middle" fill="#000">A</text>
<text x="1717.0" y="2594.7" font-size="26" font-weight="bold" text-anchor="middle" fill="#000">A</text>
<text x="1800.3" y="2625.4" font-size="26" font-weight="bold" text-anchor="middle" fill="#000">A</text>
<text x="1843.3" y="2481.9" font-size="26" font-weight="bold" text-anchor="middle" fill="#000">B</text>
<rect x="1716" y="1738.5" width="83" height="16.5" fill="#fff" stroke="#333" stroke-width="2.5"/>
<text x="1727.0" y="1799.0" font-size="36" textLength="58.0" lengthAdjust="spacingAndGlyphs" fill="#111">WT</text>
<rect x="1714" y="1824" width="83" height="17" fill="#c8c8c8" stroke="#333" stroke-width="2.5"/>
<text x="1719.0" y="1890.8" font-size="36" textLength="88.0" lengthAdjust="spacingAndGlyphs" fill="#111">Hypo</text>
<rect x="43.5" y="2748" width="84.0" height="14.5" fill="#fff" stroke="#333" stroke-width="2.5"/>
<text x="56.0" y="2808.0" font-size="36" textLength="57.0" lengthAdjust="spacingAndGlyphs" fill="#111">WT</text>
<rect x="42.5" y="2834" width="83.0" height="14" fill="#c8c8c8" stroke="#333" stroke-width="2.5"/>
<text x="47.0" y="2900.0" font-size="36" textLength="87.0" lengthAdjust="spacingAndGlyphs" fill="#111">Hypo</text>
<text x="1095.0" y="3104.3" font-size="34" textLength="49.0" lengthAdjust="spacingAndGlyphs" fill="#3a00ff">WT</text>
<line x1="1166.0" y1="3090.0" x2="1240.0" y2="3090.0" stroke="#3a00ff" stroke-width="5"/>
<text x="1281.0" y="3104.3" font-size="34" textLength="82.0" lengthAdjust="spacingAndGlyphs" fill="#ff0000">Hypo</text>
<line x1="1383.0" y1="3090.0" x2="1458.0" y2="3090.0" stroke="#ff0000" stroke-width="5" stroke-dasharray="17 9"/>
<rect x="88.3" y="1514.7" width="370.9" height="209.7" fill="#030b03"/>
<g transform="translate(80 1505) scale(0.27778)" fill="none" stroke-linejoin="round" stroke-linecap="round"><path d="M30,320 C70,340 100,370 130,420 C160,460 200,490 260,505 C330,520 420,520 520,532 C600,542 660,560 720,600 C750,620 790,625 830,600 C880,565 950,520 1010,490 C1050,470 1065,440 1040,420 C1000,405 930,425 860,445 C780,465 700,470 620,462 C520,452 420,448 330,440 C260,434 200,440 160,445 C120,440 80,410 30,390" stroke="#e81010" stroke-width="13"/><path d="M200,470 C240,500 300,510 400,515 C480,520 560,522 640,540 C690,552 720,580 740,598 C770,620 800,612 840,580 C890,540 950,500 1000,465 C1030,440 1020,425 990,432 C930,445 860,462 780,472 C700,480 620,478 540,470 C460,462 380,458 300,455 C250,455 220,460 200,470" stroke="#18d018" stroke-width="12"/><path d="M30,560 C70,560 120,540 150,550 C160,580 130,620 90,650 C70,665 40,660 30,655" stroke="#e81010" stroke-width="13"/><path d="M40,645 C70,630 95,600 110,580" stroke="#18d018" stroke-width="12"/><path d="M1340,430 C1300,425 1270,450 1275,490 C1280,530 1320,545 1365,540" stroke="#e81010" stroke-width="13"/><path d="M1365,450 C1330,455 1325,500 1340,525" stroke="#18d018" stroke-width="12"/><path d="M720,80 C740,70 770,75 780,100 M860,200 C880,210 910,205 930,190" stroke="#c01010" stroke-width="12"/><path d="M740,180 C760,175 780,185 790,195 M860,190 L905,200" stroke="#10b010" stroke-width="10"/></g>
<text x="132.0" y="1552.2" font-size="34" font-weight="bold" textLength="113.0" lengthAdjust="spacingAndGlyphs" fill="#20e020">Calcein</text>
<line x1="255.0" y1="1559.0" x2="266.0" y2="1527.0" stroke="#ffffff" stroke-width="4.5"/>
<text x="276.5" y="1552.2" font-size="34" font-weight="bold" textLength="175.0" lengthAdjust="spacingAndGlyphs" fill="#ff1515">alizarin red</text>
<rect x="88.3" y="1743.3" width="370.9" height="180.0" fill="#ccd2c4" filter="url(#mottle)"/>
<g transform="translate(80 1735) scale(0.27778)"><path d="M30,225 C80,215 130,210 200,205 C260,203 300,215 330,250 C360,262 420,255 500,255 C560,256 620,270 700,320 C770,370 830,420 900,470 C960,510 1030,545 1080,585 C1100,610 1100,640 1090,678 L920,678 C880,640 840,590 790,545 C740,490 690,430 630,400 C590,385 560,385 535,410 C510,445 480,465 420,465 C350,455 290,440 220,410 C160,390 100,380 30,372 Z" fill="#3cc6b6"/><path d="M30,545 C70,535 110,545 135,585 C130,630 90,655 30,662 Z" fill="#3cc6b6"/><path d="M60,300 C150,330 250,330 330,350 C420,360 480,380 520,380" stroke="#58d0c2" stroke-width="30" fill="none" opacity="0.6"/><path d="M520,60 C540,40 600,40 610,70 C600,100 540,100 520,60 Z" fill="#e4e0d4"/><path d="M150,400 C200,410 250,420 310,430" stroke="#a0306a" stroke-width="14" fill="none" stroke-dasharray="30 20"/><path d="M380,470 C430,480 470,490 510,470 C540,450 555,420 560,385" stroke="#a02a70" stroke-width="16" fill="none" stroke-dasharray="25 12"/><circle cx="1020" cy="460" r="6" fill="#a04070"/><circle cx="1080" cy="540" r="6" fill="#a04070"/><circle cx="1328" cy="552" r="7" fill="#b03060"/><circle cx="620" cy="560" r="6" fill="#a04070"/><circle cx="480" cy="590" r="6" fill="#a04070"/><circle cx="545" cy="540" r="5" fill="#a04070"/></g>
<text x="342.0" y="1794.2" font-size="32" font-weight="bold" textLength="84.0" lengthAdjust="spacingAndGlyphs" fill="#8a32a8">TRAP</text>
<line x1="156.4" y1="1917.0" x2="197.0" y2="1880.0" stroke="#000" stroke-width="4.5" stroke-linecap="round"/>
<polygon points="207.5,1871.5 187,1875.5 200.5,1889.5" fill="#000"/>
<text x="381.0" y="1904.5" font-size="18" textLength="66.0" lengthAdjust="spacingAndGlyphs" fill="#222" stroke="#222" stroke-width="0.5">100 µm</text>
<line x1="369.0" y1="1914.2" x2="452.2" y2="1914.2" stroke="#111" stroke-width="2.5"/>
<rect x="79.9" y="2124.4" width="608.4" height="227.9" fill="#0c0c0c"/>
<g clip-path="url(#xclip)"><g filter="url(#xblur)"><path d="M211,2237 L233.6,2131 L262.4,2133.3 L300.2,2164.4 L344.7,2175.6 L380,2164.4 L435.6,2157.8 L513.3,2168.9 L602.2,2180 L635.6,2184.4 L700,2190 L700,2360 L320,2360 L300,2322 L262.4,2297.8 L255.8,2275.6 L251.3,2251.1 L233.6,2244.4 Z" fill="url(#xbody)"/><path d="M610,2322 C640,2330 670,2335 700,2338 L700,2360 L600,2360 Z" fill="#7c7c7c"/><path d="M198,2331 L202.4,2346.7 L215.8,2348.9 L238,2331 L260.2,2302 L255.8,2293 L233.6,2304.4 L211.3,2315.6 Z" fill="#a0a0a0"/><path d="M111.3,2244.4 L115.8,2213.3 L135.8,2182.2 L166.9,2153.3 L202.4,2135.6 L233.6,2131.1 L253.6,2140 L264.7,2164.4 L262.4,2193.3 L244.7,2213.3 L211.3,2235.6 L193.6,2257.8 L171.3,2268.9 L144.7,2266.7 L122.4,2257.8 Z" fill="#8a8a8a"/><rect x="638" y="2124" width="52" height="64" fill="#4a4a4a"/></g><g filter="url(#xblur2)" fill="none"><path d="M118,2250 C108,2215 130,2180 165,2155 C195,2136 225,2130 250,2138" stroke="#c4c4c4" stroke-width="4"/><path d="M125,2258 C150,2268 180,2268 200,2255 C215,2240 225,2225 235,2205" stroke="#b8b8b8" stroke-width="3.5"/><path d="M135,2195 C160,2205 190,2205 215,2190 M190,2170 C205,2185 215,2200 240,2195" stroke="#a8a8a8" stroke-width="3"/><ellipse cx="150" cy="2247" rx="22" ry="14" fill="#3a3a3a" transform="rotate(-15 150 2247)"/><path d="M290,2236 C330,2205 380,2180 440,2172 C500,2168 560,2180 636,2208" stroke="#d4d4d4" stroke-width="5" stroke-dasharray="4 3"/><path d="M262,2170 C275,2200 285,2220 292,2238" stroke="#c0c0c0" stroke-width="3"/><path d="M592,2284 C620,2265 650,2255 688,2250 M595,2290 C630,2300 660,2320 688,2330 M600,2305 C640,2290 660,2270 688,2262" stroke="#c8c8c8" stroke-width="3"/><path d="M642,2124 L642,2352 M652,2124 L652,2352" stroke="#bdbdbd" stroke-width="3" opacity="0.7"/></g><rect x="80" y="2124" width="608" height="228" fill="#000" filter="url(#xnoise)" opacity="0.10"/></g>
<line x1="434.4" y1="2159.4" x2="435.7" y2="2233.4" stroke="#000" stroke-width="3.2"/>
<line x1="289.9" y1="2242.4" x2="637.6" y2="2226.7" stroke="#000" stroke-width="3.2"/>
<text x="452.3" y="2156.0" font-size="35" font-weight="bold" text-anchor="middle" fill="#ffffff">C</text>
<text x="277.3" y="2287.0" font-size="37" font-weight="bold" text-anchor="middle" fill="#000">A</text>
<text x="442.4" y="2276.0" font-size="37" font-weight="bold" text-anchor="middle" fill="#000">D</text>
<text x="664.5" y="2260.0" font-size="37" font-weight="bold" text-anchor="middle" fill="#000">B</text>
<text x="342.0" y="2323.1" font-size="40" font-weight="bold" textLength="232.0" lengthAdjust="spacingAndGlyphs" fill="#000" stroke="#000" stroke-width="0.8">KI=CD/AB</text>
<text x="1044.0" y="2107.0" font-size="31" font-weight="bold" textLength="127.0" lengthAdjust="spacingAndGlyphs" fill="#000">8 weeks</text>
<text x="1532.5" y="2107.0" font-size="31" font-weight="bold" textLength="145.0" lengthAdjust="spacingAndGlyphs" fill="#000">28 weeks</text>
<rect x="883.0" y="2118.8" width="222.0" height="218.3" fill="#0000ff"/>
<rect x="1119.6" y="2118.8" width="217.4" height="218.3" fill="#0000ff"/>
<rect x="1396.5" y="2118.8" width="217.3" height="218.3" fill="#0000ff"/>
<rect x="1628.8" y="2118.8" width="236.6" height="218.3" fill="#0000ff"/>
<rect x="886.0" y="2130.4" width="216.3" height="200.6" fill="url(#g_ffffff_000000)" filter="url(#bD0)"/>
<rect x="1125.0" y="2133.0" width="208.0" height="192.0" fill="url(#g_ffffff_000000)" filter="url(#bD1)"/>
<rect x="1405.0" y="2129.0" width="198.0" height="200.0" fill="url(#g_ffffff_000000)" filter="url(#bD2)"/>
<rect x="1636.0" y="2131.0" width="224.8" height="187.5" fill="url(#g_ffffff_000000)" filter="url(#bD3)"/>
<rect x="1725.4" y="2323.5" width="102.6" height="7.5" fill="#ffffff"/>
<text x="970.5" y="2365.8" font-size="30" font-weight="bold" textLength="48.2" lengthAdjust="spacingAndGlyphs" fill="#000">WT</text>
<text x="1194.4" y="2365.8" font-size="30" font-weight="bold" textLength="80.1" lengthAdjust="spacingAndGlyphs" fill="#000">Hypo</text>
<text x="1489.4" y="2365.8" font-size="30" font-weight="bold" textLength="50.1" lengthAdjust="spacingAndGlyphs" fill="#000">WT</text>
<text x="1681.0" y="2365.8" font-size="30" font-weight="bold" textLength="80.8" lengthAdjust="spacingAndGlyphs" fill="#000">Hypo</text>
</svg>
</body></html>
